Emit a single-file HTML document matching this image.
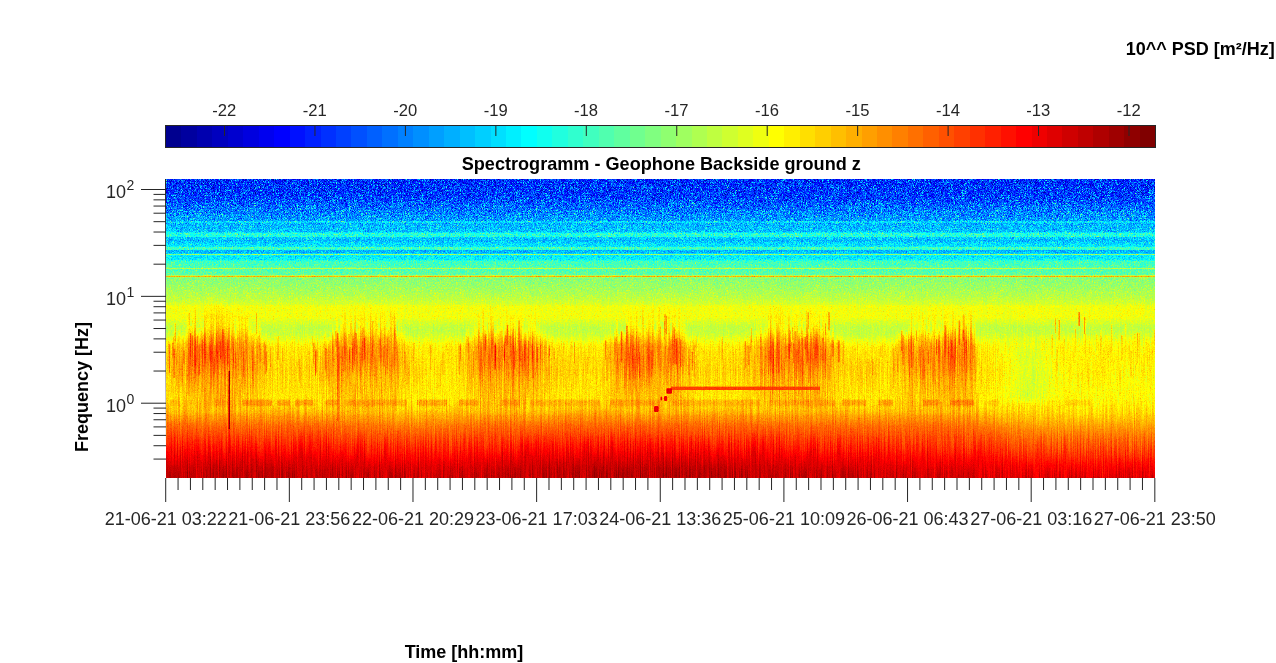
<!DOCTYPE html><html><head><meta charset="utf-8"><title>Spectrogramm</title>
<style>html,body{margin:0;padding:0;background:#fff;overflow:hidden}svg{display:block;will-change:transform}text{font-family:"Liberation Sans",sans-serif;fill:#262626}.b{font-weight:bold;fill:#000}</style></head><body>
<svg width="1276" height="663" viewBox="0 0 1276 663">
<defs>
<linearGradient id="pg" gradientUnits="userSpaceOnUse" x1="0" y1="179" x2="0" y2="477.5">
<stop offset="0.0000" stop-color="rgb(34,140,0)"/>
<stop offset="0.0101" stop-color="rgb(34,140,0)"/>
<stop offset="0.0201" stop-color="rgb(35,139,1)"/>
<stop offset="0.0302" stop-color="rgb(36,138,1)"/>
<stop offset="0.0402" stop-color="rgb(36,137,1)"/>
<stop offset="0.0503" stop-color="rgb(37,137,1)"/>
<stop offset="0.0536" stop-color="rgb(37,137,2)"/>
<stop offset="0.0603" stop-color="rgb(39,136,2)"/>
<stop offset="0.0704" stop-color="rgb(42,135,2)"/>
<stop offset="0.0804" stop-color="rgb(45,135,2)"/>
<stop offset="0.0871" stop-color="rgb(48,134,2)"/>
<stop offset="0.0905" stop-color="rgb(49,134,3)"/>
<stop offset="0.1005" stop-color="rgb(52,133,3)"/>
<stop offset="0.1106" stop-color="rgb(56,133,3)"/>
<stop offset="0.1173" stop-color="rgb(58,126,3)"/>
<stop offset="0.1206" stop-color="rgb(59,122,3)"/>
<stop offset="0.1307" stop-color="rgb(62,112,4)"/>
<stop offset="0.1407" stop-color="rgb(65,102,4)"/>
<stop offset="0.1508" stop-color="rgb(71,92,4)"/>
<stop offset="0.1608" stop-color="rgb(72,89,5)"/>
<stop offset="0.1709" stop-color="rgb(74,86,5)"/>
<stop offset="0.1776" stop-color="rgb(74,84,5)"/>
<stop offset="0.1809" stop-color="rgb(98,83,5)"/>
<stop offset="0.1910" stop-color="rgb(98,80,5)"/>
<stop offset="0.1926" stop-color="rgb(98,80,5)"/>
<stop offset="0.1960" stop-color="rgb(79,79,6)"/>
<stop offset="0.2010" stop-color="rgb(76,77,6)"/>
<stop offset="0.2044" stop-color="rgb(74,76,6)"/>
<stop offset="0.2060" stop-color="rgb(73,76,6)"/>
<stop offset="0.2111" stop-color="rgb(78,75,6)"/>
<stop offset="0.2127" stop-color="rgb(79,75,6)"/>
<stop offset="0.2211" stop-color="rgb(83,73,6)"/>
<stop offset="0.2265" stop-color="rgb(86,72,6)"/>
<stop offset="0.2285" stop-color="rgb(106,71,6)"/>
<stop offset="0.2312" stop-color="rgb(106,71,7)"/>
<stop offset="0.2358" stop-color="rgb(106,70,7)"/>
<stop offset="0.2379" stop-color="rgb(73,70,7)"/>
<stop offset="0.2412" stop-color="rgb(73,69,7)"/>
<stop offset="0.2479" stop-color="rgb(73,67,7)"/>
<stop offset="0.2513" stop-color="rgb(77,67,7)"/>
<stop offset="0.2563" stop-color="rgb(83,66,7)"/>
<stop offset="0.2613" stop-color="rgb(85,65,7)"/>
<stop offset="0.2714" stop-color="rgb(90,63,8)"/>
<stop offset="0.2747" stop-color="rgb(106,62,8)"/>
<stop offset="0.2781" stop-color="rgb(107,61,8)"/>
<stop offset="0.2814" stop-color="rgb(107,60,8)"/>
<stop offset="0.2915" stop-color="rgb(109,58,8)"/>
<stop offset="0.3015" stop-color="rgb(111,56,9)"/>
<stop offset="0.3116" stop-color="rgb(113,54,9)"/>
<stop offset="0.3216" stop-color="rgb(115,52,10)"/>
<stop offset="0.3300" stop-color="rgb(125,50,10)"/>
<stop offset="0.3317" stop-color="rgb(125,50,10)"/>
<stop offset="0.3417" stop-color="rgb(127,47,10)"/>
<stop offset="0.3518" stop-color="rgb(129,45,11)"/>
<stop offset="0.3618" stop-color="rgb(131,43,11)"/>
<stop offset="0.3719" stop-color="rgb(133,41,11)"/>
<stop offset="0.3819" stop-color="rgb(136,38,12)"/>
<stop offset="0.3853" stop-color="rgb(136,37,12)"/>
<stop offset="0.3920" stop-color="rgb(138,35,12)"/>
<stop offset="0.4020" stop-color="rgb(141,32,13)"/>
<stop offset="0.4054" stop-color="rgb(142,31,13)"/>
<stop offset="0.4121" stop-color="rgb(144,29,13)"/>
<stop offset="0.4188" stop-color="rgb(146,27,14)"/>
<stop offset="0.4221" stop-color="rgb(149,26,14)"/>
<stop offset="0.4255" stop-color="rgb(153,26,14)"/>
<stop offset="0.4322" stop-color="rgb(153,26,15)"/>
<stop offset="0.4422" stop-color="rgb(153,26,16)"/>
<stop offset="0.4523" stop-color="rgb(153,26,17)"/>
<stop offset="0.4623" stop-color="rgb(154,26,18)"/>
<stop offset="0.4724" stop-color="rgb(149,26,19)"/>
<stop offset="0.4757" stop-color="rgb(148,26,19)"/>
<stop offset="0.4824" stop-color="rgb(146,26,19)"/>
<stop offset="0.4925" stop-color="rgb(142,26,20)"/>
<stop offset="0.4958" stop-color="rgb(141,26,21)"/>
<stop offset="0.5025" stop-color="rgb(141,26,21)"/>
<stop offset="0.5126" stop-color="rgb(142,26,22)"/>
<stop offset="0.5159" stop-color="rgb(142,26,22)"/>
<stop offset="0.5226" stop-color="rgb(144,26,23)"/>
<stop offset="0.5327" stop-color="rgb(148,26,27)"/>
<stop offset="0.5360" stop-color="rgb(149,26,28)"/>
<stop offset="0.5394" stop-color="rgb(151,26,29)"/>
<stop offset="0.5427" stop-color="rgb(152,26,31)"/>
<stop offset="0.5528" stop-color="rgb(157,26,34)"/>
<stop offset="0.5561" stop-color="rgb(158,26,36)"/>
<stop offset="0.5628" stop-color="rgb(160,26,36)"/>
<stop offset="0.5729" stop-color="rgb(162,26,36)"/>
<stop offset="0.5829" stop-color="rgb(163,26,36)"/>
<stop offset="0.5930" stop-color="rgb(163,26,36)"/>
<stop offset="0.6030" stop-color="rgb(164,26,36)"/>
<stop offset="0.6131" stop-color="rgb(165,26,37)"/>
<stop offset="0.6231" stop-color="rgb(165,26,37)"/>
<stop offset="0.6332" stop-color="rgb(166,26,37)"/>
<stop offset="0.6399" stop-color="rgb(167,26,37)"/>
<stop offset="0.6432" stop-color="rgb(166,26,37)"/>
<stop offset="0.6533" stop-color="rgb(166,26,37)"/>
<stop offset="0.6633" stop-color="rgb(165,26,37)"/>
<stop offset="0.6734" stop-color="rgb(165,26,37)"/>
<stop offset="0.6834" stop-color="rgb(164,26,38)"/>
<stop offset="0.6935" stop-color="rgb(164,26,38)"/>
<stop offset="0.7035" stop-color="rgb(163,26,38)"/>
<stop offset="0.7136" stop-color="rgb(163,26,38)"/>
<stop offset="0.7236" stop-color="rgb(162,26,38)"/>
<stop offset="0.7337" stop-color="rgb(162,26,39)"/>
<stop offset="0.7404" stop-color="rgb(163,26,40)"/>
<stop offset="0.7437" stop-color="rgb(164,25,40)"/>
<stop offset="0.7538" stop-color="rgb(166,24,41)"/>
<stop offset="0.7638" stop-color="rgb(168,23,42)"/>
<stop offset="0.7672" stop-color="rgb(169,23,43)"/>
<stop offset="0.7739" stop-color="rgb(171,22,43)"/>
<stop offset="0.7806" stop-color="rgb(174,21,44)"/>
<stop offset="0.7839" stop-color="rgb(175,21,44)"/>
<stop offset="0.7940" stop-color="rgb(181,20,44)"/>
<stop offset="0.8040" stop-color="rgb(184,19,45)"/>
<stop offset="0.8141" stop-color="rgb(188,18,45)"/>
<stop offset="0.8241" stop-color="rgb(192,17,46)"/>
<stop offset="0.8342" stop-color="rgb(195,16,46)"/>
<stop offset="0.8409" stop-color="rgb(196,15,47)"/>
<stop offset="0.8442" stop-color="rgb(197,15,47)"/>
<stop offset="0.8543" stop-color="rgb(199,15,47)"/>
<stop offset="0.8643" stop-color="rgb(202,15,48)"/>
<stop offset="0.8744" stop-color="rgb(204,14,48)"/>
<stop offset="0.8844" stop-color="rgb(206,14,49)"/>
<stop offset="0.8945" stop-color="rgb(209,14,49)"/>
<stop offset="0.9045" stop-color="rgb(211,13,49)"/>
<stop offset="0.9079" stop-color="rgb(212,13,49)"/>
<stop offset="0.9146" stop-color="rgb(214,13,49)"/>
<stop offset="0.9246" stop-color="rgb(217,13,49)"/>
<stop offset="0.9347" stop-color="rgb(220,12,50)"/>
<stop offset="0.9414" stop-color="rgb(221,12,50)"/>
<stop offset="0.9447" stop-color="rgb(222,12,50)"/>
<stop offset="0.9548" stop-color="rgb(224,12,50)"/>
<stop offset="0.9648" stop-color="rgb(226,11,50)"/>
<stop offset="0.9749" stop-color="rgb(228,11,50)"/>
<stop offset="0.9849" stop-color="rgb(230,11,51)"/>
<stop offset="0.9950" stop-color="rgb(231,10,51)"/>
<stop offset="1.0000" stop-color="rgb(232,10,51)"/>
</linearGradient>
<linearGradient id="dg" gradientUnits="userSpaceOnUse" x1="0" y1="347" x2="0" y2="412">
<stop offset="0.0000" stop-color="rgb(206,26,82)" stop-opacity="0.920"/>
<stop offset="0.1846" stop-color="rgb(206,26,82)" stop-opacity="0.950"/>
<stop offset="0.3385" stop-color="rgb(202,26,82)" stop-opacity="0.820"/>
<stop offset="0.5077" stop-color="rgb(195,26,82)" stop-opacity="0.700"/>
<stop offset="0.7385" stop-color="rgb(190,26,82)" stop-opacity="0.620"/>
<stop offset="0.8923" stop-color="rgb(188,24,82)" stop-opacity="0.550"/>
<stop offset="1.0000" stop-color="rgb(185,21,82)" stop-opacity="0.000"/>
</linearGradient>
<linearGradient id="fg" x1="0" y1="0" x2="0" y2="1">
<stop offset="0.000" stop-color="rgb(188,26,71)" stop-opacity="0.000"/>
<stop offset="0.250" stop-color="rgb(190,26,71)" stop-opacity="0.220"/>
<stop offset="0.500" stop-color="rgb(195,26,71)" stop-opacity="0.500"/>
<stop offset="0.750" stop-color="rgb(202,26,71)" stop-opacity="0.780"/>
<stop offset="1.000" stop-color="rgb(206,26,71)" stop-opacity="0.920"/>
</linearGradient>
<linearGradient id="hg" gradientUnits="userSpaceOnUse" x1="0" y1="398.5" x2="0" y2="407">
<stop offset="0.0000" stop-color="rgb(195,26,39)" stop-opacity="0.000"/>
<stop offset="0.2706" stop-color="rgb(195,25,40)" stop-opacity="0.800"/>
<stop offset="0.7176" stop-color="rgb(195,24,42)" stop-opacity="0.800"/>
<stop offset="1.0000" stop-color="rgb(195,23,42)" stop-opacity="0.000"/>
</linearGradient>
<linearGradient id="bg" gradientUnits="userSpaceOnUse" x1="0" y1="404" x2="0" y2="477.5">
<stop offset="0.0000" stop-color="rgb(188,24,41)" stop-opacity="0.000"/>
<stop offset="0.2177" stop-color="rgb(197,19,45)" stop-opacity="0.200"/>
<stop offset="0.3810" stop-color="rgb(206,15,47)" stop-opacity="0.500"/>
<stop offset="0.5442" stop-color="rgb(218,14,49)" stop-opacity="0.850"/>
<stop offset="0.7075" stop-color="rgb(228,13,50)" stop-opacity="1.000"/>
<stop offset="0.8707" stop-color="rgb(238,11,50)" stop-opacity="1.000"/>
<stop offset="1.0000" stop-color="rgb(241,10,51)" stop-opacity="1.000"/>
</linearGradient>
<linearGradient id="lg" gradientUnits="userSpaceOnUse" x1="0" y1="330" x2="0" y2="477.5">
<stop offset="0.0000" stop-color="rgb(148,26,21)" stop-opacity="0.000"/>
<stop offset="0.1017" stop-color="rgb(153,26,36)" stop-opacity="0.800"/>
<stop offset="0.4610" stop-color="rgb(155,26,39)" stop-opacity="1.000"/>
<stop offset="0.5559" stop-color="rgb(162,21,44)" stop-opacity="1.000"/>
<stop offset="0.6102" stop-color="rgb(169,19,45)" stop-opacity="1.000"/>
<stop offset="0.6780" stop-color="rgb(181,15,47)" stop-opacity="1.000"/>
<stop offset="0.7458" stop-color="rgb(192,14,48)" stop-opacity="1.000"/>
<stop offset="0.8475" stop-color="rgb(206,13,49)" stop-opacity="1.000"/>
<stop offset="0.9153" stop-color="rgb(218,12,50)" stop-opacity="1.000"/>
<stop offset="1.0000" stop-color="rgb(227,10,51)" stop-opacity="1.000"/>
</linearGradient>
<linearGradient id="qg" gradientUnits="userSpaceOnUse" x1="0" y1="338" x2="0" y2="406">
<stop offset="0.0000" stop-color="rgb(137,26,27)" stop-opacity="0.000"/>
<stop offset="0.2059" stop-color="rgb(137,26,36)" stop-opacity="0.800"/>
<stop offset="0.8529" stop-color="rgb(137,26,39)" stop-opacity="0.900"/>
<stop offset="1.0000" stop-color="rgb(137,23,42)" stop-opacity="0.000"/>
</linearGradient>
<filter id="jet" filterUnits="userSpaceOnUse" x="166" y="179" width="989" height="298.5" color-interpolation-filters="sRGB">
<feTurbulence type="fractalNoise" baseFrequency="1.37 1.61" numOctaves="3" seed="3" result="t1"/>
<feColorMatrix in="t1" type="matrix" values="1 0 0 0 0 1 0 0 0 0 1 0 0 0 0 0 0 0 0 1" result="N"/>
<feTurbulence type="fractalNoise" baseFrequency="1.13 0.028" numOctaves="1" seed="11" result="t2"/>
<feColorMatrix in="t2" type="matrix" values="1 0 0 0 0 1 0 0 0 0 1 0 0 0 0 0 0 0 0 1" result="S"/>
<feColorMatrix in="SourceGraphic" type="matrix" values="1 0 0 0 0 1 0 0 0 0 1 0 0 0 0 0 0 0 0 1" result="V"/>
<feColorMatrix in="SourceGraphic" type="matrix" values="0 1 0 0 0 0 1 0 0 0 0 1 0 0 0 0 0 0 0 1" result="GA"/>
<feColorMatrix in="SourceGraphic" type="matrix" values="0 0 1 0 0 0 0 1 0 0 0 0 1 0 0 0 0 0 0 1" result="BA"/>
<feComposite in="GA" in2="N" operator="arithmetic" k1="1" k2="-0.5" k3="0" k4="0.5" result="GN"/>
<feComposite in="BA" in2="S" operator="arithmetic" k1="1" k2="-0.5" k3="0" k4="0.5" result="BS"/>
<feComposite in="V" in2="GN" operator="arithmetic" k1="0" k2="1" k3="0.9" k4="-0.45" result="V1"/>
<feComposite in="V1" in2="BS" operator="arithmetic" k1="0" k2="1" k3="0.8" k4="-0.4" result="V2"/>
<feColorMatrix in="t1" type="matrix" values="0 1 0 0 0 0 1 0 0 0 0 1 0 0 0 0 0 0 0 1" result="N2"/>
<feComponentTransfer in="N2" result="H"><feFuncR type="table" tableValues="0 0 0 0 0 0 0 0 0 0 0.04 0.12 0.28 0.5 0.75 1 1 1 1 1 1"/><feFuncG type="table" tableValues="0 0 0 0 0 0 0 0 0 0 0.04 0.12 0.28 0.5 0.75 1 1 1 1 1 1"/><feFuncB type="table" tableValues="0 0 0 0 0 0 0 0 0 0 0.04 0.12 0.28 0.5 0.75 1 1 1 1 1 1"/></feComponentTransfer>
<feComposite in="GA" in2="H" operator="arithmetic" k1="0.32" k2="0" k3="0" k4="0" result="GH"/>
<feComposite in="V2" in2="GH" operator="arithmetic" k1="0" k2="1" k3="1" k4="0" result="V3"/>
<feComponentTransfer in="V3"><feFuncR type="discrete" tableValues="0.0000 0.0000 0.0000 0.0000 0.0000 0.0000 0.0000 0.0000 0.0000 0.0000 0.0000 0.0000 0.0000 0.0000 0.0000 0.0000 0.0000 0.0000 0.0000 0.0000 0.0000 0.0000 0.0000 0.0000 0.0625 0.1250 0.1875 0.2500 0.3125 0.3750 0.4375 0.5000 0.5625 0.6250 0.6875 0.7500 0.8125 0.8750 0.9375 1.0000 1.0000 1.0000 1.0000 1.0000 1.0000 1.0000 1.0000 1.0000 1.0000 1.0000 1.0000 1.0000 1.0000 1.0000 1.0000 1.0000 0.9375 0.8750 0.8125 0.7500 0.6875 0.6250 0.5625 0.5000"/><feFuncG type="discrete" tableValues="0.0000 0.0000 0.0000 0.0000 0.0000 0.0000 0.0000 0.0000 0.0625 0.1250 0.1875 0.2500 0.3125 0.3750 0.4375 0.5000 0.5625 0.6250 0.6875 0.7500 0.8125 0.8750 0.9375 1.0000 1.0000 1.0000 1.0000 1.0000 1.0000 1.0000 1.0000 1.0000 1.0000 1.0000 1.0000 1.0000 1.0000 1.0000 1.0000 1.0000 0.9375 0.8750 0.8125 0.7500 0.6875 0.6250 0.5625 0.5000 0.4375 0.3750 0.3125 0.2500 0.1875 0.1250 0.0625 0.0000 0.0000 0.0000 0.0000 0.0000 0.0000 0.0000 0.0000 0.0000"/><feFuncB type="discrete" tableValues="0.5625 0.6250 0.6875 0.7500 0.8125 0.8750 0.9375 1.0000 1.0000 1.0000 1.0000 1.0000 1.0000 1.0000 1.0000 1.0000 1.0000 1.0000 1.0000 1.0000 1.0000 1.0000 1.0000 1.0000 0.9375 0.8750 0.8125 0.7500 0.6875 0.6250 0.5625 0.5000 0.4375 0.3750 0.3125 0.2500 0.1875 0.1250 0.0625 0.0000 0.0000 0.0000 0.0000 0.0000 0.0000 0.0000 0.0000 0.0000 0.0000 0.0000 0.0000 0.0000 0.0000 0.0000 0.0000 0.0000 0.0000 0.0000 0.0000 0.0000 0.0000 0.0000 0.0000 0.0000"/></feComponentTransfer>
</filter>
</defs>
<rect width="1276" height="663" fill="#fff"/>
<g filter="url(#jet)">
<rect x="166" y="179" width="989" height="298.5" fill="url(#pg)"/>
<rect x="166" y="347" width="2.05" height="65" fill="url(#dg)" opacity="0.10"/>
<rect x="166" y="332.5" width="2.05" height="14.6" fill="url(#fg)" opacity="0.10"/>
<rect x="168" y="347" width="2.05" height="65" fill="url(#dg)" opacity="0.11"/>
<rect x="168" y="332.5" width="2.05" height="14.6" fill="url(#fg)" opacity="0.11"/>
<rect x="170" y="347" width="2.05" height="65" fill="url(#dg)" opacity="0.12"/>
<rect x="170" y="328.7" width="2.05" height="18.4" fill="url(#fg)" opacity="0.12"/>
<rect x="172" y="347" width="2.05" height="65" fill="url(#dg)" opacity="0.14"/>
<rect x="172" y="331.1" width="2.05" height="16.0" fill="url(#fg)" opacity="0.14"/>
<rect x="174" y="347" width="2.05" height="65" fill="url(#dg)" opacity="0.29"/>
<rect x="174" y="326.2" width="2.05" height="20.9" fill="url(#fg)" opacity="0.29"/>
<rect x="176" y="347" width="2.05" height="65" fill="url(#dg)" opacity="0.24"/>
<rect x="176" y="329.3" width="2.05" height="17.8" fill="url(#fg)" opacity="0.24"/>
<rect x="178" y="347" width="2.05" height="65" fill="url(#dg)" opacity="0.44"/>
<rect x="178" y="322.7" width="2.05" height="24.4" fill="url(#fg)" opacity="0.44"/>
<rect x="180" y="347" width="2.05" height="65" fill="url(#dg)" opacity="0.26"/>
<rect x="180" y="327.3" width="2.05" height="19.8" fill="url(#fg)" opacity="0.26"/>
<rect x="182" y="347" width="2.05" height="65" fill="url(#dg)" opacity="0.41"/>
<rect x="182" y="325.4" width="2.05" height="21.7" fill="url(#fg)" opacity="0.41"/>
<rect x="184" y="347" width="2.05" height="65" fill="url(#dg)" opacity="0.29"/>
<rect x="184" y="323.8" width="2.05" height="23.3" fill="url(#fg)" opacity="0.29"/>
<rect x="186" y="347" width="2.05" height="65" fill="url(#dg)" opacity="0.40"/>
<rect x="186" y="315.3" width="2.05" height="31.8" fill="url(#fg)" opacity="0.40"/>
<rect x="188" y="347" width="2.05" height="65" fill="url(#dg)" opacity="0.78"/>
<rect x="188" y="321.4" width="2.05" height="25.7" fill="url(#fg)" opacity="0.78"/>
<rect x="190" y="347" width="2.05" height="65" fill="url(#dg)" opacity="0.61"/>
<rect x="190" y="327.3" width="2.05" height="19.8" fill="url(#fg)" opacity="0.61"/>
<rect x="192" y="347" width="2.05" height="65" fill="url(#dg)" opacity="0.55"/>
<rect x="192" y="311.2" width="2.05" height="35.9" fill="url(#fg)" opacity="0.55"/>
<rect x="194" y="347" width="2.05" height="65" fill="url(#dg)" opacity="0.93"/>
<rect x="194" y="301.6" width="2.05" height="45.5" fill="url(#fg)" opacity="0.93"/>
<rect x="196" y="347" width="2.05" height="65" fill="url(#dg)" opacity="0.54"/>
<rect x="196" y="325.1" width="2.05" height="22.0" fill="url(#fg)" opacity="0.54"/>
<rect x="198" y="347" width="2.05" height="65" fill="url(#dg)" opacity="0.42"/>
<rect x="198" y="320.0" width="2.05" height="27.1" fill="url(#fg)" opacity="0.42"/>
<rect x="200" y="347" width="2.05" height="65" fill="url(#dg)" opacity="0.59"/>
<rect x="200" y="313.1" width="2.05" height="34.0" fill="url(#fg)" opacity="0.59"/>
<rect x="202" y="347" width="2.05" height="65" fill="url(#dg)" opacity="0.70"/>
<rect x="202" y="321.7" width="2.05" height="25.4" fill="url(#fg)" opacity="0.70"/>
<rect x="204" y="347" width="2.05" height="65" fill="url(#dg)" opacity="0.91"/>
<rect x="204" y="301.0" width="2.05" height="46.1" fill="url(#fg)" opacity="0.91"/>
<rect x="206" y="347" width="2.05" height="65" fill="url(#dg)" opacity="0.59"/>
<rect x="206" y="301.0" width="2.05" height="46.1" fill="url(#fg)" opacity="0.59"/>
<rect x="208" y="347" width="2.05" height="65" fill="url(#dg)" opacity="0.73"/>
<rect x="208" y="306.5" width="2.05" height="40.6" fill="url(#fg)" opacity="0.73"/>
<rect x="210" y="347" width="2.05" height="65" fill="url(#dg)" opacity="1.00"/>
<rect x="210" y="301.0" width="2.05" height="46.1" fill="url(#fg)" opacity="1.00"/>
<rect x="212" y="347" width="2.05" height="65" fill="url(#dg)" opacity="0.79"/>
<rect x="212" y="301.0" width="2.05" height="46.1" fill="url(#fg)" opacity="0.79"/>
<rect x="214" y="347" width="2.05" height="65" fill="url(#dg)" opacity="0.53"/>
<rect x="214" y="301.0" width="2.05" height="46.1" fill="url(#fg)" opacity="0.53"/>
<rect x="216" y="347" width="2.05" height="65" fill="url(#dg)" opacity="1.00"/>
<rect x="216" y="301.0" width="2.05" height="46.1" fill="url(#fg)" opacity="1.00"/>
<rect x="218" y="347" width="2.05" height="65" fill="url(#dg)" opacity="0.74"/>
<rect x="218" y="301.0" width="2.05" height="46.1" fill="url(#fg)" opacity="0.74"/>
<rect x="220" y="347" width="2.05" height="65" fill="url(#dg)" opacity="0.91"/>
<rect x="220" y="301.0" width="2.05" height="46.1" fill="url(#fg)" opacity="0.91"/>
<rect x="222" y="347" width="2.05" height="65" fill="url(#dg)" opacity="0.89"/>
<rect x="222" y="301.0" width="2.05" height="46.1" fill="url(#fg)" opacity="0.89"/>
<rect x="224" y="347" width="2.05" height="65" fill="url(#dg)" opacity="0.81"/>
<rect x="224" y="305.6" width="2.05" height="41.5" fill="url(#fg)" opacity="0.81"/>
<rect x="226" y="347" width="2.05" height="65" fill="url(#dg)" opacity="0.58"/>
<rect x="226" y="301.0" width="2.05" height="46.1" fill="url(#fg)" opacity="0.58"/>
<rect x="228" y="347" width="2.05" height="65" fill="url(#dg)" opacity="0.84"/>
<rect x="228" y="301.0" width="2.05" height="46.1" fill="url(#fg)" opacity="0.84"/>
<rect x="230" y="347" width="2.05" height="65" fill="url(#dg)" opacity="0.45"/>
<rect x="230" y="304.8" width="2.05" height="42.3" fill="url(#fg)" opacity="0.45"/>
<rect x="232" y="347" width="2.05" height="65" fill="url(#dg)" opacity="0.79"/>
<rect x="232" y="301.0" width="2.05" height="46.1" fill="url(#fg)" opacity="0.79"/>
<rect x="234" y="347" width="2.05" height="65" fill="url(#dg)" opacity="0.58"/>
<rect x="234" y="320.1" width="2.05" height="27.0" fill="url(#fg)" opacity="0.58"/>
<rect x="236" y="347" width="2.05" height="65" fill="url(#dg)" opacity="0.49"/>
<rect x="236" y="309.0" width="2.05" height="38.1" fill="url(#fg)" opacity="0.49"/>
<rect x="238" y="347" width="2.05" height="65" fill="url(#dg)" opacity="0.59"/>
<rect x="238" y="302.3" width="2.05" height="44.8" fill="url(#fg)" opacity="0.59"/>
<rect x="240" y="347" width="2.05" height="65" fill="url(#dg)" opacity="0.51"/>
<rect x="240" y="301.0" width="2.05" height="46.1" fill="url(#fg)" opacity="0.51"/>
<rect x="242" y="347" width="2.05" height="65" fill="url(#dg)" opacity="0.56"/>
<rect x="242" y="301.0" width="2.05" height="46.1" fill="url(#fg)" opacity="0.56"/>
<rect x="244" y="347" width="2.05" height="65" fill="url(#dg)" opacity="0.51"/>
<rect x="244" y="310.5" width="2.05" height="36.6" fill="url(#fg)" opacity="0.51"/>
<rect x="246" y="347" width="2.05" height="65" fill="url(#dg)" opacity="0.59"/>
<rect x="246" y="302.7" width="2.05" height="44.4" fill="url(#fg)" opacity="0.59"/>
<rect x="248" y="347" width="2.05" height="65" fill="url(#dg)" opacity="0.37"/>
<rect x="248" y="308.4" width="2.05" height="38.7" fill="url(#fg)" opacity="0.37"/>
<rect x="250" y="347" width="2.05" height="65" fill="url(#dg)" opacity="0.36"/>
<rect x="250" y="317.8" width="2.05" height="29.3" fill="url(#fg)" opacity="0.36"/>
<rect x="252" y="347" width="2.05" height="65" fill="url(#dg)" opacity="0.66"/>
<rect x="252" y="325.0" width="2.05" height="22.1" fill="url(#fg)" opacity="0.66"/>
<rect x="254" y="347" width="2.05" height="65" fill="url(#dg)" opacity="0.33"/>
<rect x="254" y="316.0" width="2.05" height="31.1" fill="url(#fg)" opacity="0.33"/>
<rect x="256" y="347" width="2.05" height="65" fill="url(#dg)" opacity="0.37"/>
<rect x="256" y="316.6" width="2.05" height="30.5" fill="url(#fg)" opacity="0.37"/>
<rect x="258" y="347" width="2.05" height="65" fill="url(#dg)" opacity="0.46"/>
<rect x="258" y="321.1" width="2.05" height="26.0" fill="url(#fg)" opacity="0.46"/>
<rect x="260" y="347" width="2.05" height="65" fill="url(#dg)" opacity="0.29"/>
<rect x="260" y="323.7" width="2.05" height="23.4" fill="url(#fg)" opacity="0.29"/>
<rect x="262" y="347" width="2.05" height="65" fill="url(#dg)" opacity="0.22"/>
<rect x="262" y="328.1" width="2.05" height="19.0" fill="url(#fg)" opacity="0.22"/>
<rect x="264" y="347" width="2.05" height="65" fill="url(#dg)" opacity="0.10"/>
<rect x="264" y="334.2" width="2.05" height="12.9" fill="url(#fg)" opacity="0.10"/>
<rect x="266" y="347" width="2.05" height="65" fill="url(#dg)" opacity="0.10"/>
<rect x="266" y="338.9" width="2.05" height="8.2" fill="url(#fg)" opacity="0.10"/>
<rect x="268" y="347" width="2.05" height="65" fill="url(#dg)" opacity="0.07"/>
<rect x="268" y="334.4" width="2.05" height="12.7" fill="url(#fg)" opacity="0.07"/>
<rect x="270" y="347" width="2.05" height="65" fill="url(#dg)" opacity="0.03"/>
<rect x="270" y="336.1" width="2.05" height="11.0" fill="url(#fg)" opacity="0.03"/>
<rect x="288" y="347" width="2.05" height="65" fill="url(#dg)" opacity="0.05"/>
<rect x="288" y="329.9" width="2.05" height="17.2" fill="url(#fg)" opacity="0.05"/>
<rect x="290" y="347" width="2.05" height="65" fill="url(#dg)" opacity="0.03"/>
<rect x="290" y="333.5" width="2.05" height="13.6" fill="url(#fg)" opacity="0.03"/>
<rect x="294" y="347" width="2.05" height="65" fill="url(#dg)" opacity="0.03"/>
<rect x="294" y="330.4" width="2.05" height="16.7" fill="url(#fg)" opacity="0.03"/>
<rect x="298" y="347" width="2.05" height="65" fill="url(#dg)" opacity="0.03"/>
<rect x="298" y="338.8" width="2.05" height="8.3" fill="url(#fg)" opacity="0.03"/>
<rect x="300" y="347" width="2.05" height="65" fill="url(#dg)" opacity="0.03"/>
<rect x="300" y="333.0" width="2.05" height="14.1" fill="url(#fg)" opacity="0.03"/>
<rect x="304" y="347" width="2.05" height="65" fill="url(#dg)" opacity="0.05"/>
<rect x="304" y="334.3" width="2.05" height="12.8" fill="url(#fg)" opacity="0.05"/>
<rect x="306" y="347" width="2.05" height="65" fill="url(#dg)" opacity="0.03"/>
<rect x="306" y="331.4" width="2.05" height="15.7" fill="url(#fg)" opacity="0.03"/>
<rect x="308" y="347" width="2.05" height="65" fill="url(#dg)" opacity="0.05"/>
<rect x="308" y="329.4" width="2.05" height="17.7" fill="url(#fg)" opacity="0.05"/>
<rect x="312" y="347" width="2.05" height="65" fill="url(#dg)" opacity="0.03"/>
<rect x="312" y="335.3" width="2.05" height="11.8" fill="url(#fg)" opacity="0.03"/>
<rect x="314" y="347" width="2.05" height="65" fill="url(#dg)" opacity="0.06"/>
<rect x="314" y="339.7" width="2.05" height="7.4" fill="url(#fg)" opacity="0.06"/>
<rect x="316" y="347" width="2.05" height="65" fill="url(#dg)" opacity="0.09"/>
<rect x="316" y="336.9" width="2.05" height="10.2" fill="url(#fg)" opacity="0.09"/>
<rect x="318" y="347" width="2.05" height="65" fill="url(#dg)" opacity="0.09"/>
<rect x="318" y="339.6" width="2.05" height="7.5" fill="url(#fg)" opacity="0.09"/>
<rect x="320" y="347" width="2.05" height="65" fill="url(#dg)" opacity="0.10"/>
<rect x="320" y="330.3" width="2.05" height="16.8" fill="url(#fg)" opacity="0.10"/>
<rect x="322" y="347" width="2.05" height="65" fill="url(#dg)" opacity="0.27"/>
<rect x="322" y="331.4" width="2.05" height="15.7" fill="url(#fg)" opacity="0.27"/>
<rect x="324" y="347" width="2.05" height="65" fill="url(#dg)" opacity="0.20"/>
<rect x="324" y="327.6" width="2.05" height="19.5" fill="url(#fg)" opacity="0.20"/>
<rect x="326" y="347" width="2.05" height="65" fill="url(#dg)" opacity="0.18"/>
<rect x="326" y="328.4" width="2.05" height="18.7" fill="url(#fg)" opacity="0.18"/>
<rect x="328" y="347" width="2.05" height="65" fill="url(#dg)" opacity="0.45"/>
<rect x="328" y="336.1" width="2.05" height="11.0" fill="url(#fg)" opacity="0.45"/>
<rect x="330" y="347" width="2.05" height="65" fill="url(#dg)" opacity="0.32"/>
<rect x="330" y="330.0" width="2.05" height="17.1" fill="url(#fg)" opacity="0.32"/>
<rect x="332" y="347" width="2.05" height="65" fill="url(#dg)" opacity="0.56"/>
<rect x="332" y="320.9" width="2.05" height="26.2" fill="url(#fg)" opacity="0.56"/>
<rect x="334" y="347" width="2.05" height="65" fill="url(#dg)" opacity="0.33"/>
<rect x="334" y="326.3" width="2.05" height="20.8" fill="url(#fg)" opacity="0.33"/>
<rect x="336" y="347" width="2.05" height="65" fill="url(#dg)" opacity="0.43"/>
<rect x="336" y="301.7" width="2.05" height="45.4" fill="url(#fg)" opacity="0.43"/>
<rect x="338" y="347" width="2.05" height="65" fill="url(#dg)" opacity="0.84"/>
<rect x="338" y="327.9" width="2.05" height="19.2" fill="url(#fg)" opacity="0.84"/>
<rect x="340" y="347" width="2.05" height="65" fill="url(#dg)" opacity="0.61"/>
<rect x="340" y="314.1" width="2.05" height="33.0" fill="url(#fg)" opacity="0.61"/>
<rect x="342" y="347" width="2.05" height="65" fill="url(#dg)" opacity="0.49"/>
<rect x="342" y="305.4" width="2.05" height="41.7" fill="url(#fg)" opacity="0.49"/>
<rect x="344" y="347" width="2.05" height="65" fill="url(#dg)" opacity="0.74"/>
<rect x="344" y="307.1" width="2.05" height="40.0" fill="url(#fg)" opacity="0.74"/>
<rect x="346" y="347" width="2.05" height="65" fill="url(#dg)" opacity="0.61"/>
<rect x="346" y="315.9" width="2.05" height="31.2" fill="url(#fg)" opacity="0.61"/>
<rect x="348" y="347" width="2.05" height="65" fill="url(#dg)" opacity="0.38"/>
<rect x="348" y="301.0" width="2.05" height="46.1" fill="url(#fg)" opacity="0.38"/>
<rect x="350" y="347" width="2.05" height="65" fill="url(#dg)" opacity="0.40"/>
<rect x="350" y="301.0" width="2.05" height="46.1" fill="url(#fg)" opacity="0.40"/>
<rect x="352" y="347" width="2.05" height="65" fill="url(#dg)" opacity="0.74"/>
<rect x="352" y="320.7" width="2.05" height="26.4" fill="url(#fg)" opacity="0.74"/>
<rect x="354" y="347" width="2.05" height="65" fill="url(#dg)" opacity="0.75"/>
<rect x="354" y="301.0" width="2.05" height="46.1" fill="url(#fg)" opacity="0.75"/>
<rect x="356" y="347" width="2.05" height="65" fill="url(#dg)" opacity="0.60"/>
<rect x="356" y="324.0" width="2.05" height="23.1" fill="url(#fg)" opacity="0.60"/>
<rect x="358" y="347" width="2.05" height="65" fill="url(#dg)" opacity="0.50"/>
<rect x="358" y="301.0" width="2.05" height="46.1" fill="url(#fg)" opacity="0.50"/>
<rect x="360" y="347" width="2.05" height="65" fill="url(#dg)" opacity="0.71"/>
<rect x="360" y="301.0" width="2.05" height="46.1" fill="url(#fg)" opacity="0.71"/>
<rect x="362" y="347" width="2.05" height="65" fill="url(#dg)" opacity="0.56"/>
<rect x="362" y="301.0" width="2.05" height="46.1" fill="url(#fg)" opacity="0.56"/>
<rect x="364" y="347" width="2.05" height="65" fill="url(#dg)" opacity="0.75"/>
<rect x="364" y="304.2" width="2.05" height="42.9" fill="url(#fg)" opacity="0.75"/>
<rect x="366" y="347" width="2.05" height="65" fill="url(#dg)" opacity="0.65"/>
<rect x="366" y="318.6" width="2.05" height="28.5" fill="url(#fg)" opacity="0.65"/>
<rect x="368" y="347" width="2.05" height="65" fill="url(#dg)" opacity="0.43"/>
<rect x="368" y="302.1" width="2.05" height="45.0" fill="url(#fg)" opacity="0.43"/>
<rect x="370" y="347" width="2.05" height="65" fill="url(#dg)" opacity="0.89"/>
<rect x="370" y="301.0" width="2.05" height="46.1" fill="url(#fg)" opacity="0.89"/>
<rect x="372" y="347" width="2.05" height="65" fill="url(#dg)" opacity="0.68"/>
<rect x="372" y="321.8" width="2.05" height="25.3" fill="url(#fg)" opacity="0.68"/>
<rect x="374" y="347" width="2.05" height="65" fill="url(#dg)" opacity="0.62"/>
<rect x="374" y="301.0" width="2.05" height="46.1" fill="url(#fg)" opacity="0.62"/>
<rect x="376" y="347" width="2.05" height="65" fill="url(#dg)" opacity="0.58"/>
<rect x="376" y="301.0" width="2.05" height="46.1" fill="url(#fg)" opacity="0.58"/>
<rect x="378" y="347" width="2.05" height="65" fill="url(#dg)" opacity="0.61"/>
<rect x="378" y="323.2" width="2.05" height="23.9" fill="url(#fg)" opacity="0.61"/>
<rect x="380" y="347" width="2.05" height="65" fill="url(#dg)" opacity="0.79"/>
<rect x="380" y="301.0" width="2.05" height="46.1" fill="url(#fg)" opacity="0.79"/>
<rect x="382" y="347" width="2.05" height="65" fill="url(#dg)" opacity="0.51"/>
<rect x="382" y="301.0" width="2.05" height="46.1" fill="url(#fg)" opacity="0.51"/>
<rect x="384" y="347" width="2.05" height="65" fill="url(#dg)" opacity="0.66"/>
<rect x="384" y="301.0" width="2.05" height="46.1" fill="url(#fg)" opacity="0.66"/>
<rect x="386" y="347" width="2.05" height="65" fill="url(#dg)" opacity="0.60"/>
<rect x="386" y="317.6" width="2.05" height="29.5" fill="url(#fg)" opacity="0.60"/>
<rect x="388" y="347" width="2.05" height="65" fill="url(#dg)" opacity="0.53"/>
<rect x="388" y="312.6" width="2.05" height="34.5" fill="url(#fg)" opacity="0.53"/>
<rect x="390" y="347" width="2.05" height="65" fill="url(#dg)" opacity="0.74"/>
<rect x="390" y="301.0" width="2.05" height="46.1" fill="url(#fg)" opacity="0.74"/>
<rect x="392" y="347" width="2.05" height="65" fill="url(#dg)" opacity="0.59"/>
<rect x="392" y="301.0" width="2.05" height="46.1" fill="url(#fg)" opacity="0.59"/>
<rect x="394" y="347" width="2.05" height="65" fill="url(#dg)" opacity="0.97"/>
<rect x="394" y="301.0" width="2.05" height="46.1" fill="url(#fg)" opacity="0.97"/>
<rect x="396" y="347" width="2.05" height="65" fill="url(#dg)" opacity="0.63"/>
<rect x="396" y="329.0" width="2.05" height="18.1" fill="url(#fg)" opacity="0.63"/>
<rect x="398" y="347" width="2.05" height="65" fill="url(#dg)" opacity="0.36"/>
<rect x="398" y="319.2" width="2.05" height="27.9" fill="url(#fg)" opacity="0.36"/>
<rect x="400" y="347" width="2.05" height="65" fill="url(#dg)" opacity="0.28"/>
<rect x="400" y="309.8" width="2.05" height="37.3" fill="url(#fg)" opacity="0.28"/>
<rect x="402" y="347" width="2.05" height="65" fill="url(#dg)" opacity="0.37"/>
<rect x="402" y="322.3" width="2.05" height="24.8" fill="url(#fg)" opacity="0.37"/>
<rect x="404" y="347" width="2.05" height="65" fill="url(#dg)" opacity="0.36"/>
<rect x="404" y="329.7" width="2.05" height="17.4" fill="url(#fg)" opacity="0.36"/>
<rect x="406" y="347" width="2.05" height="65" fill="url(#dg)" opacity="0.21"/>
<rect x="406" y="337.2" width="2.05" height="9.9" fill="url(#fg)" opacity="0.21"/>
<rect x="408" y="347" width="2.05" height="65" fill="url(#dg)" opacity="0.18"/>
<rect x="408" y="333.4" width="2.05" height="13.7" fill="url(#fg)" opacity="0.18"/>
<rect x="410" y="347" width="2.05" height="65" fill="url(#dg)" opacity="0.15"/>
<rect x="410" y="331.0" width="2.05" height="16.1" fill="url(#fg)" opacity="0.15"/>
<rect x="412" y="347" width="2.05" height="65" fill="url(#dg)" opacity="0.08"/>
<rect x="412" y="333.9" width="2.05" height="13.2" fill="url(#fg)" opacity="0.08"/>
<rect x="414" y="347" width="2.05" height="65" fill="url(#dg)" opacity="0.04"/>
<rect x="414" y="336.2" width="2.05" height="10.9" fill="url(#fg)" opacity="0.04"/>
<rect x="416" y="347" width="2.05" height="65" fill="url(#dg)" opacity="0.04"/>
<rect x="416" y="329.0" width="2.05" height="18.1" fill="url(#fg)" opacity="0.04"/>
<rect x="422" y="347" width="2.05" height="65" fill="url(#dg)" opacity="0.05"/>
<rect x="422" y="338.9" width="2.05" height="8.2" fill="url(#fg)" opacity="0.05"/>
<rect x="424" y="347" width="2.05" height="65" fill="url(#dg)" opacity="0.04"/>
<rect x="424" y="337.8" width="2.05" height="9.3" fill="url(#fg)" opacity="0.04"/>
<rect x="426" y="347" width="2.05" height="65" fill="url(#dg)" opacity="0.05"/>
<rect x="426" y="330.4" width="2.05" height="16.7" fill="url(#fg)" opacity="0.05"/>
<rect x="428" y="347" width="2.05" height="65" fill="url(#dg)" opacity="0.03"/>
<rect x="428" y="337.4" width="2.05" height="9.7" fill="url(#fg)" opacity="0.03"/>
<rect x="430" y="347" width="2.05" height="65" fill="url(#dg)" opacity="0.02"/>
<rect x="430" y="338.5" width="2.05" height="8.6" fill="url(#fg)" opacity="0.02"/>
<rect x="432" y="347" width="2.05" height="65" fill="url(#dg)" opacity="0.05"/>
<rect x="432" y="338.2" width="2.05" height="8.9" fill="url(#fg)" opacity="0.05"/>
<rect x="434" y="347" width="2.05" height="65" fill="url(#dg)" opacity="0.03"/>
<rect x="434" y="329.5" width="2.05" height="17.6" fill="url(#fg)" opacity="0.03"/>
<rect x="436" y="347" width="2.05" height="65" fill="url(#dg)" opacity="0.02"/>
<rect x="436" y="329.7" width="2.05" height="17.4" fill="url(#fg)" opacity="0.02"/>
<rect x="438" y="347" width="2.05" height="65" fill="url(#dg)" opacity="0.02"/>
<rect x="438" y="332.2" width="2.05" height="14.9" fill="url(#fg)" opacity="0.02"/>
<rect x="440" y="347" width="2.05" height="65" fill="url(#dg)" opacity="0.02"/>
<rect x="440" y="334.4" width="2.05" height="12.7" fill="url(#fg)" opacity="0.02"/>
<rect x="446" y="347" width="2.05" height="65" fill="url(#dg)" opacity="0.03"/>
<rect x="446" y="335.2" width="2.05" height="11.9" fill="url(#fg)" opacity="0.03"/>
<rect x="448" y="347" width="2.05" height="65" fill="url(#dg)" opacity="0.03"/>
<rect x="448" y="330.6" width="2.05" height="16.5" fill="url(#fg)" opacity="0.03"/>
<rect x="450" y="347" width="2.05" height="65" fill="url(#dg)" opacity="0.04"/>
<rect x="450" y="333.7" width="2.05" height="13.4" fill="url(#fg)" opacity="0.04"/>
<rect x="452" y="347" width="2.05" height="65" fill="url(#dg)" opacity="0.03"/>
<rect x="452" y="334.8" width="2.05" height="12.3" fill="url(#fg)" opacity="0.03"/>
<rect x="456" y="347" width="2.05" height="65" fill="url(#dg)" opacity="0.06"/>
<rect x="456" y="337.9" width="2.05" height="9.2" fill="url(#fg)" opacity="0.06"/>
<rect x="458" y="347" width="2.05" height="65" fill="url(#dg)" opacity="0.04"/>
<rect x="458" y="339.9" width="2.05" height="7.2" fill="url(#fg)" opacity="0.04"/>
<rect x="460" y="347" width="2.05" height="65" fill="url(#dg)" opacity="0.11"/>
<rect x="460" y="331.8" width="2.05" height="15.3" fill="url(#fg)" opacity="0.11"/>
<rect x="462" y="347" width="2.05" height="65" fill="url(#dg)" opacity="0.10"/>
<rect x="462" y="333.5" width="2.05" height="13.6" fill="url(#fg)" opacity="0.10"/>
<rect x="464" y="347" width="2.05" height="65" fill="url(#dg)" opacity="0.13"/>
<rect x="464" y="333.4" width="2.05" height="13.7" fill="url(#fg)" opacity="0.13"/>
<rect x="466" y="347" width="2.05" height="65" fill="url(#dg)" opacity="0.32"/>
<rect x="466" y="325.6" width="2.05" height="21.5" fill="url(#fg)" opacity="0.32"/>
<rect x="468" y="347" width="2.05" height="65" fill="url(#dg)" opacity="0.26"/>
<rect x="468" y="323.4" width="2.05" height="23.7" fill="url(#fg)" opacity="0.26"/>
<rect x="470" y="347" width="2.05" height="65" fill="url(#dg)" opacity="0.36"/>
<rect x="470" y="331.2" width="2.05" height="15.9" fill="url(#fg)" opacity="0.36"/>
<rect x="472" y="347" width="2.05" height="65" fill="url(#dg)" opacity="0.22"/>
<rect x="472" y="325.4" width="2.05" height="21.7" fill="url(#fg)" opacity="0.22"/>
<rect x="474" y="347" width="2.05" height="65" fill="url(#dg)" opacity="0.37"/>
<rect x="474" y="316.2" width="2.05" height="30.9" fill="url(#fg)" opacity="0.37"/>
<rect x="476" y="347" width="2.05" height="65" fill="url(#dg)" opacity="0.38"/>
<rect x="476" y="316.4" width="2.05" height="30.7" fill="url(#fg)" opacity="0.38"/>
<rect x="478" y="347" width="2.05" height="65" fill="url(#dg)" opacity="0.79"/>
<rect x="478" y="307.3" width="2.05" height="39.8" fill="url(#fg)" opacity="0.79"/>
<rect x="480" y="347" width="2.05" height="65" fill="url(#dg)" opacity="0.65"/>
<rect x="480" y="327.4" width="2.05" height="19.7" fill="url(#fg)" opacity="0.65"/>
<rect x="482" y="347" width="2.05" height="65" fill="url(#dg)" opacity="0.73"/>
<rect x="482" y="301.2" width="2.05" height="45.9" fill="url(#fg)" opacity="0.73"/>
<rect x="484" y="347" width="2.05" height="65" fill="url(#dg)" opacity="0.68"/>
<rect x="484" y="317.7" width="2.05" height="29.4" fill="url(#fg)" opacity="0.68"/>
<rect x="486" y="347" width="2.05" height="65" fill="url(#dg)" opacity="0.39"/>
<rect x="486" y="322.5" width="2.05" height="24.6" fill="url(#fg)" opacity="0.39"/>
<rect x="488" y="347" width="2.05" height="65" fill="url(#dg)" opacity="0.79"/>
<rect x="488" y="313.8" width="2.05" height="33.3" fill="url(#fg)" opacity="0.79"/>
<rect x="490" y="347" width="2.05" height="65" fill="url(#dg)" opacity="0.78"/>
<rect x="490" y="302.0" width="2.05" height="45.1" fill="url(#fg)" opacity="0.78"/>
<rect x="492" y="347" width="2.05" height="65" fill="url(#dg)" opacity="0.76"/>
<rect x="492" y="306.0" width="2.05" height="41.1" fill="url(#fg)" opacity="0.76"/>
<rect x="494" y="347" width="2.05" height="65" fill="url(#dg)" opacity="0.59"/>
<rect x="494" y="326.8" width="2.05" height="20.3" fill="url(#fg)" opacity="0.59"/>
<rect x="496" y="347" width="2.05" height="65" fill="url(#dg)" opacity="0.51"/>
<rect x="496" y="313.0" width="2.05" height="34.1" fill="url(#fg)" opacity="0.51"/>
<rect x="498" y="347" width="2.05" height="65" fill="url(#dg)" opacity="0.64"/>
<rect x="498" y="321.2" width="2.05" height="25.9" fill="url(#fg)" opacity="0.64"/>
<rect x="500" y="347" width="2.05" height="65" fill="url(#dg)" opacity="0.54"/>
<rect x="500" y="302.8" width="2.05" height="44.3" fill="url(#fg)" opacity="0.54"/>
<rect x="502" y="347" width="2.05" height="65" fill="url(#dg)" opacity="0.40"/>
<rect x="502" y="317.9" width="2.05" height="29.2" fill="url(#fg)" opacity="0.40"/>
<rect x="504" y="347" width="2.05" height="65" fill="url(#dg)" opacity="0.74"/>
<rect x="504" y="317.9" width="2.05" height="29.2" fill="url(#fg)" opacity="0.74"/>
<rect x="506" y="347" width="2.05" height="65" fill="url(#dg)" opacity="0.68"/>
<rect x="506" y="302.5" width="2.05" height="44.6" fill="url(#fg)" opacity="0.68"/>
<rect x="508" y="347" width="2.05" height="65" fill="url(#dg)" opacity="0.43"/>
<rect x="508" y="313.0" width="2.05" height="34.1" fill="url(#fg)" opacity="0.43"/>
<rect x="510" y="347" width="2.05" height="65" fill="url(#dg)" opacity="0.64"/>
<rect x="510" y="301.0" width="2.05" height="46.1" fill="url(#fg)" opacity="0.64"/>
<rect x="512" y="347" width="2.05" height="65" fill="url(#dg)" opacity="0.97"/>
<rect x="512" y="310.7" width="2.05" height="36.4" fill="url(#fg)" opacity="0.97"/>
<rect x="514" y="347" width="2.05" height="65" fill="url(#dg)" opacity="0.62"/>
<rect x="514" y="310.9" width="2.05" height="36.2" fill="url(#fg)" opacity="0.62"/>
<rect x="516" y="347" width="2.05" height="65" fill="url(#dg)" opacity="0.37"/>
<rect x="516" y="312.8" width="2.05" height="34.3" fill="url(#fg)" opacity="0.37"/>
<rect x="518" y="347" width="2.05" height="65" fill="url(#dg)" opacity="0.84"/>
<rect x="518" y="306.9" width="2.05" height="40.2" fill="url(#fg)" opacity="0.84"/>
<rect x="520" y="347" width="2.05" height="65" fill="url(#dg)" opacity="0.61"/>
<rect x="520" y="301.0" width="2.05" height="46.1" fill="url(#fg)" opacity="0.61"/>
<rect x="522" y="347" width="2.05" height="65" fill="url(#dg)" opacity="0.53"/>
<rect x="522" y="312.8" width="2.05" height="34.3" fill="url(#fg)" opacity="0.53"/>
<rect x="524" y="347" width="2.05" height="65" fill="url(#dg)" opacity="0.86"/>
<rect x="524" y="325.4" width="2.05" height="21.7" fill="url(#fg)" opacity="0.86"/>
<rect x="526" y="347" width="2.05" height="65" fill="url(#dg)" opacity="0.53"/>
<rect x="526" y="320.9" width="2.05" height="26.2" fill="url(#fg)" opacity="0.53"/>
<rect x="528" y="347" width="2.05" height="65" fill="url(#dg)" opacity="0.44"/>
<rect x="528" y="312.3" width="2.05" height="34.8" fill="url(#fg)" opacity="0.44"/>
<rect x="530" y="347" width="2.05" height="65" fill="url(#dg)" opacity="0.38"/>
<rect x="530" y="301.0" width="2.05" height="46.1" fill="url(#fg)" opacity="0.38"/>
<rect x="532" y="347" width="2.05" height="65" fill="url(#dg)" opacity="0.71"/>
<rect x="532" y="312.1" width="2.05" height="35.0" fill="url(#fg)" opacity="0.71"/>
<rect x="534" y="347" width="2.05" height="65" fill="url(#dg)" opacity="0.36"/>
<rect x="534" y="301.0" width="2.05" height="46.1" fill="url(#fg)" opacity="0.36"/>
<rect x="536" y="347" width="2.05" height="65" fill="url(#dg)" opacity="0.65"/>
<rect x="536" y="319.9" width="2.05" height="27.2" fill="url(#fg)" opacity="0.65"/>
<rect x="538" y="347" width="2.05" height="65" fill="url(#dg)" opacity="0.27"/>
<rect x="538" y="308.7" width="2.05" height="38.4" fill="url(#fg)" opacity="0.27"/>
<rect x="540" y="347" width="2.05" height="65" fill="url(#dg)" opacity="0.44"/>
<rect x="540" y="328.9" width="2.05" height="18.2" fill="url(#fg)" opacity="0.44"/>
<rect x="542" y="347" width="2.05" height="65" fill="url(#dg)" opacity="0.22"/>
<rect x="542" y="316.6" width="2.05" height="30.5" fill="url(#fg)" opacity="0.22"/>
<rect x="544" y="347" width="2.05" height="65" fill="url(#dg)" opacity="0.36"/>
<rect x="544" y="325.5" width="2.05" height="21.6" fill="url(#fg)" opacity="0.36"/>
<rect x="546" y="347" width="2.05" height="65" fill="url(#dg)" opacity="0.13"/>
<rect x="546" y="331.0" width="2.05" height="16.1" fill="url(#fg)" opacity="0.13"/>
<rect x="548" y="347" width="2.05" height="65" fill="url(#dg)" opacity="0.24"/>
<rect x="548" y="326.4" width="2.05" height="20.7" fill="url(#fg)" opacity="0.24"/>
<rect x="550" y="347" width="2.05" height="65" fill="url(#dg)" opacity="0.12"/>
<rect x="550" y="332.4" width="2.05" height="14.7" fill="url(#fg)" opacity="0.12"/>
<rect x="552" y="347" width="2.05" height="65" fill="url(#dg)" opacity="0.10"/>
<rect x="552" y="329.0" width="2.05" height="18.1" fill="url(#fg)" opacity="0.10"/>
<rect x="554" y="347" width="2.05" height="65" fill="url(#dg)" opacity="0.06"/>
<rect x="554" y="333.4" width="2.05" height="13.7" fill="url(#fg)" opacity="0.06"/>
<rect x="556" y="347" width="2.05" height="65" fill="url(#dg)" opacity="0.03"/>
<rect x="556" y="329.7" width="2.05" height="17.4" fill="url(#fg)" opacity="0.03"/>
<rect x="558" y="347" width="2.05" height="65" fill="url(#dg)" opacity="0.03"/>
<rect x="558" y="332.7" width="2.05" height="14.4" fill="url(#fg)" opacity="0.03"/>
<rect x="560" y="347" width="2.05" height="65" fill="url(#dg)" opacity="0.05"/>
<rect x="560" y="334.5" width="2.05" height="12.6" fill="url(#fg)" opacity="0.05"/>
<rect x="562" y="347" width="2.05" height="65" fill="url(#dg)" opacity="0.03"/>
<rect x="562" y="336.5" width="2.05" height="10.6" fill="url(#fg)" opacity="0.03"/>
<rect x="564" y="347" width="2.05" height="65" fill="url(#dg)" opacity="0.04"/>
<rect x="564" y="336.2" width="2.05" height="10.9" fill="url(#fg)" opacity="0.04"/>
<rect x="566" y="347" width="2.05" height="65" fill="url(#dg)" opacity="0.03"/>
<rect x="566" y="335.8" width="2.05" height="11.3" fill="url(#fg)" opacity="0.03"/>
<rect x="568" y="347" width="2.05" height="65" fill="url(#dg)" opacity="0.05"/>
<rect x="568" y="339.1" width="2.05" height="8.0" fill="url(#fg)" opacity="0.05"/>
<rect x="570" y="347" width="2.05" height="65" fill="url(#dg)" opacity="0.03"/>
<rect x="570" y="334.6" width="2.05" height="12.5" fill="url(#fg)" opacity="0.03"/>
<rect x="576" y="347" width="2.05" height="65" fill="url(#dg)" opacity="0.04"/>
<rect x="576" y="340.6" width="2.05" height="6.5" fill="url(#fg)" opacity="0.04"/>
<rect x="580" y="347" width="2.05" height="65" fill="url(#dg)" opacity="0.03"/>
<rect x="580" y="330.8" width="2.05" height="16.3" fill="url(#fg)" opacity="0.03"/>
<rect x="582" y="347" width="2.05" height="65" fill="url(#dg)" opacity="0.02"/>
<rect x="582" y="334.1" width="2.05" height="13.0" fill="url(#fg)" opacity="0.02"/>
<rect x="584" y="347" width="2.05" height="65" fill="url(#dg)" opacity="0.04"/>
<rect x="584" y="339.7" width="2.05" height="7.4" fill="url(#fg)" opacity="0.04"/>
<rect x="594" y="347" width="2.05" height="65" fill="url(#dg)" opacity="0.03"/>
<rect x="594" y="334.9" width="2.05" height="12.2" fill="url(#fg)" opacity="0.03"/>
<rect x="598" y="347" width="2.05" height="65" fill="url(#dg)" opacity="0.02"/>
<rect x="598" y="334.9" width="2.05" height="12.2" fill="url(#fg)" opacity="0.02"/>
<rect x="602" y="347" width="2.05" height="65" fill="url(#dg)" opacity="0.03"/>
<rect x="602" y="333.0" width="2.05" height="14.1" fill="url(#fg)" opacity="0.03"/>
<rect x="604" y="347" width="2.05" height="65" fill="url(#dg)" opacity="0.11"/>
<rect x="604" y="337.4" width="2.05" height="9.7" fill="url(#fg)" opacity="0.11"/>
<rect x="606" y="347" width="2.05" height="65" fill="url(#dg)" opacity="0.18"/>
<rect x="606" y="332.2" width="2.05" height="14.9" fill="url(#fg)" opacity="0.18"/>
<rect x="608" y="347" width="2.05" height="65" fill="url(#dg)" opacity="0.24"/>
<rect x="608" y="329.0" width="2.05" height="18.1" fill="url(#fg)" opacity="0.24"/>
<rect x="610" y="347" width="2.05" height="65" fill="url(#dg)" opacity="0.21"/>
<rect x="610" y="327.0" width="2.05" height="20.1" fill="url(#fg)" opacity="0.21"/>
<rect x="612" y="347" width="2.05" height="65" fill="url(#dg)" opacity="0.31"/>
<rect x="612" y="334.2" width="2.05" height="12.9" fill="url(#fg)" opacity="0.31"/>
<rect x="614" y="347" width="2.05" height="65" fill="url(#dg)" opacity="0.49"/>
<rect x="614" y="327.4" width="2.05" height="19.7" fill="url(#fg)" opacity="0.49"/>
<rect x="616" y="347" width="2.05" height="65" fill="url(#dg)" opacity="0.53"/>
<rect x="616" y="313.8" width="2.05" height="33.3" fill="url(#fg)" opacity="0.53"/>
<rect x="618" y="347" width="2.05" height="65" fill="url(#dg)" opacity="0.54"/>
<rect x="618" y="329.7" width="2.05" height="17.4" fill="url(#fg)" opacity="0.54"/>
<rect x="620" y="347" width="2.05" height="65" fill="url(#dg)" opacity="0.44"/>
<rect x="620" y="326.2" width="2.05" height="20.9" fill="url(#fg)" opacity="0.44"/>
<rect x="622" y="347" width="2.05" height="65" fill="url(#dg)" opacity="0.47"/>
<rect x="622" y="325.1" width="2.05" height="22.0" fill="url(#fg)" opacity="0.47"/>
<rect x="624" y="347" width="2.05" height="65" fill="url(#dg)" opacity="0.66"/>
<rect x="624" y="327.9" width="2.05" height="19.2" fill="url(#fg)" opacity="0.66"/>
<rect x="626" y="347" width="2.05" height="65" fill="url(#dg)" opacity="0.87"/>
<rect x="626" y="316.2" width="2.05" height="30.9" fill="url(#fg)" opacity="0.87"/>
<rect x="628" y="347" width="2.05" height="65" fill="url(#dg)" opacity="0.58"/>
<rect x="628" y="310.1" width="2.05" height="37.0" fill="url(#fg)" opacity="0.58"/>
<rect x="630" y="347" width="2.05" height="65" fill="url(#dg)" opacity="0.69"/>
<rect x="630" y="301.0" width="2.05" height="46.1" fill="url(#fg)" opacity="0.69"/>
<rect x="632" y="347" width="2.05" height="65" fill="url(#dg)" opacity="1.00"/>
<rect x="632" y="317.1" width="2.05" height="30.0" fill="url(#fg)" opacity="1.00"/>
<rect x="634" y="347" width="2.05" height="65" fill="url(#dg)" opacity="0.55"/>
<rect x="634" y="301.0" width="2.05" height="46.1" fill="url(#fg)" opacity="0.55"/>
<rect x="636" y="347" width="2.05" height="65" fill="url(#dg)" opacity="0.89"/>
<rect x="636" y="308.1" width="2.05" height="39.0" fill="url(#fg)" opacity="0.89"/>
<rect x="638" y="347" width="2.05" height="65" fill="url(#dg)" opacity="0.70"/>
<rect x="638" y="318.2" width="2.05" height="28.9" fill="url(#fg)" opacity="0.70"/>
<rect x="640" y="347" width="2.05" height="65" fill="url(#dg)" opacity="0.54"/>
<rect x="640" y="313.1" width="2.05" height="34.0" fill="url(#fg)" opacity="0.54"/>
<rect x="642" y="347" width="2.05" height="65" fill="url(#dg)" opacity="0.65"/>
<rect x="642" y="301.0" width="2.05" height="46.1" fill="url(#fg)" opacity="0.65"/>
<rect x="644" y="347" width="2.05" height="65" fill="url(#dg)" opacity="0.41"/>
<rect x="644" y="313.2" width="2.05" height="33.9" fill="url(#fg)" opacity="0.41"/>
<rect x="646" y="347" width="2.05" height="65" fill="url(#dg)" opacity="0.69"/>
<rect x="646" y="310.7" width="2.05" height="36.4" fill="url(#fg)" opacity="0.69"/>
<rect x="648" y="347" width="2.05" height="65" fill="url(#dg)" opacity="0.89"/>
<rect x="648" y="311.0" width="2.05" height="36.1" fill="url(#fg)" opacity="0.89"/>
<rect x="650" y="347" width="2.05" height="65" fill="url(#dg)" opacity="0.44"/>
<rect x="650" y="302.5" width="2.05" height="44.6" fill="url(#fg)" opacity="0.44"/>
<rect x="652" y="347" width="2.05" height="65" fill="url(#dg)" opacity="0.72"/>
<rect x="652" y="301.0" width="2.05" height="46.1" fill="url(#fg)" opacity="0.72"/>
<rect x="654" y="347" width="2.05" height="65" fill="url(#dg)" opacity="0.40"/>
<rect x="654" y="327.3" width="2.05" height="19.8" fill="url(#fg)" opacity="0.40"/>
<rect x="656" y="347" width="2.05" height="65" fill="url(#dg)" opacity="0.38"/>
<rect x="656" y="305.7" width="2.05" height="41.4" fill="url(#fg)" opacity="0.38"/>
<rect x="658" y="347" width="2.05" height="65" fill="url(#dg)" opacity="0.61"/>
<rect x="658" y="301.0" width="2.05" height="46.1" fill="url(#fg)" opacity="0.61"/>
<rect x="660" y="347" width="2.05" height="65" fill="url(#dg)" opacity="0.57"/>
<rect x="660" y="322.2" width="2.05" height="24.9" fill="url(#fg)" opacity="0.57"/>
<rect x="662" y="347" width="2.05" height="65" fill="url(#dg)" opacity="0.37"/>
<rect x="662" y="326.1" width="2.05" height="21.0" fill="url(#fg)" opacity="0.37"/>
<rect x="664" y="347" width="2.05" height="65" fill="url(#dg)" opacity="0.48"/>
<rect x="664" y="301.0" width="2.05" height="46.1" fill="url(#fg)" opacity="0.48"/>
<rect x="666" y="347" width="2.05" height="65" fill="url(#dg)" opacity="0.39"/>
<rect x="666" y="301.0" width="2.05" height="46.1" fill="url(#fg)" opacity="0.39"/>
<rect x="668" y="347" width="2.05" height="65" fill="url(#dg)" opacity="0.64"/>
<rect x="668" y="301.0" width="2.05" height="46.1" fill="url(#fg)" opacity="0.64"/>
<rect x="670" y="347" width="2.05" height="65" fill="url(#dg)" opacity="0.60"/>
<rect x="670" y="324.6" width="2.05" height="22.5" fill="url(#fg)" opacity="0.60"/>
<rect x="672" y="347" width="2.05" height="65" fill="url(#dg)" opacity="0.80"/>
<rect x="672" y="305.2" width="2.05" height="41.9" fill="url(#fg)" opacity="0.80"/>
<rect x="674" y="347" width="2.05" height="65" fill="url(#dg)" opacity="0.60"/>
<rect x="674" y="305.0" width="2.05" height="42.1" fill="url(#fg)" opacity="0.60"/>
<rect x="676" y="347" width="2.05" height="65" fill="url(#dg)" opacity="0.72"/>
<rect x="676" y="319.7" width="2.05" height="27.4" fill="url(#fg)" opacity="0.72"/>
<rect x="678" y="347" width="2.05" height="65" fill="url(#dg)" opacity="0.60"/>
<rect x="678" y="301.0" width="2.05" height="46.1" fill="url(#fg)" opacity="0.60"/>
<rect x="680" y="347" width="2.05" height="65" fill="url(#dg)" opacity="0.44"/>
<rect x="680" y="311.2" width="2.05" height="35.9" fill="url(#fg)" opacity="0.44"/>
<rect x="682" y="347" width="2.05" height="65" fill="url(#dg)" opacity="0.41"/>
<rect x="682" y="312.2" width="2.05" height="34.9" fill="url(#fg)" opacity="0.41"/>
<rect x="684" y="347" width="2.05" height="65" fill="url(#dg)" opacity="0.23"/>
<rect x="684" y="311.9" width="2.05" height="35.2" fill="url(#fg)" opacity="0.23"/>
<rect x="686" y="347" width="2.05" height="65" fill="url(#dg)" opacity="0.20"/>
<rect x="686" y="324.4" width="2.05" height="22.7" fill="url(#fg)" opacity="0.20"/>
<rect x="688" y="347" width="2.05" height="65" fill="url(#dg)" opacity="0.27"/>
<rect x="688" y="325.1" width="2.05" height="22.0" fill="url(#fg)" opacity="0.27"/>
<rect x="690" y="347" width="2.05" height="65" fill="url(#dg)" opacity="0.16"/>
<rect x="690" y="336.1" width="2.05" height="11.0" fill="url(#fg)" opacity="0.16"/>
<rect x="692" y="347" width="2.05" height="65" fill="url(#dg)" opacity="0.08"/>
<rect x="692" y="337.8" width="2.05" height="9.3" fill="url(#fg)" opacity="0.08"/>
<rect x="694" y="347" width="2.05" height="65" fill="url(#dg)" opacity="0.13"/>
<rect x="694" y="339.1" width="2.05" height="8.0" fill="url(#fg)" opacity="0.13"/>
<rect x="696" y="347" width="2.05" height="65" fill="url(#dg)" opacity="0.05"/>
<rect x="696" y="334.5" width="2.05" height="12.6" fill="url(#fg)" opacity="0.05"/>
<rect x="706" y="347" width="2.05" height="65" fill="url(#dg)" opacity="0.03"/>
<rect x="706" y="329.6" width="2.05" height="17.5" fill="url(#fg)" opacity="0.03"/>
<rect x="708" y="347" width="2.05" height="65" fill="url(#dg)" opacity="0.03"/>
<rect x="708" y="330.5" width="2.05" height="16.6" fill="url(#fg)" opacity="0.03"/>
<rect x="714" y="347" width="2.05" height="65" fill="url(#dg)" opacity="0.02"/>
<rect x="714" y="332.9" width="2.05" height="14.2" fill="url(#fg)" opacity="0.02"/>
<rect x="716" y="347" width="2.05" height="65" fill="url(#dg)" opacity="0.03"/>
<rect x="716" y="333.9" width="2.05" height="13.2" fill="url(#fg)" opacity="0.03"/>
<rect x="718" y="347" width="2.05" height="65" fill="url(#dg)" opacity="0.02"/>
<rect x="718" y="341.0" width="2.05" height="6.1" fill="url(#fg)" opacity="0.02"/>
<rect x="720" y="347" width="2.05" height="65" fill="url(#dg)" opacity="0.03"/>
<rect x="720" y="331.6" width="2.05" height="15.5" fill="url(#fg)" opacity="0.03"/>
<rect x="722" y="347" width="2.05" height="65" fill="url(#dg)" opacity="0.05"/>
<rect x="722" y="336.6" width="2.05" height="10.5" fill="url(#fg)" opacity="0.05"/>
<rect x="724" y="347" width="2.05" height="65" fill="url(#dg)" opacity="0.04"/>
<rect x="724" y="331.4" width="2.05" height="15.7" fill="url(#fg)" opacity="0.04"/>
<rect x="726" y="347" width="2.05" height="65" fill="url(#dg)" opacity="0.04"/>
<rect x="726" y="329.1" width="2.05" height="18.0" fill="url(#fg)" opacity="0.04"/>
<rect x="730" y="347" width="2.05" height="65" fill="url(#dg)" opacity="0.03"/>
<rect x="730" y="329.8" width="2.05" height="17.3" fill="url(#fg)" opacity="0.03"/>
<rect x="732" y="347" width="2.05" height="65" fill="url(#dg)" opacity="0.04"/>
<rect x="732" y="331.7" width="2.05" height="15.4" fill="url(#fg)" opacity="0.04"/>
<rect x="734" y="347" width="2.05" height="65" fill="url(#dg)" opacity="0.02"/>
<rect x="734" y="337.7" width="2.05" height="9.4" fill="url(#fg)" opacity="0.02"/>
<rect x="738" y="347" width="2.05" height="65" fill="url(#dg)" opacity="0.05"/>
<rect x="738" y="330.7" width="2.05" height="16.4" fill="url(#fg)" opacity="0.05"/>
<rect x="740" y="347" width="2.05" height="65" fill="url(#dg)" opacity="0.10"/>
<rect x="740" y="339.2" width="2.05" height="7.9" fill="url(#fg)" opacity="0.10"/>
<rect x="742" y="347" width="2.05" height="65" fill="url(#dg)" opacity="0.06"/>
<rect x="742" y="331.0" width="2.05" height="16.1" fill="url(#fg)" opacity="0.06"/>
<rect x="744" y="347" width="2.05" height="65" fill="url(#dg)" opacity="0.15"/>
<rect x="744" y="337.7" width="2.05" height="9.4" fill="url(#fg)" opacity="0.15"/>
<rect x="746" y="347" width="2.05" height="65" fill="url(#dg)" opacity="0.18"/>
<rect x="746" y="336.7" width="2.05" height="10.4" fill="url(#fg)" opacity="0.18"/>
<rect x="748" y="347" width="2.05" height="65" fill="url(#dg)" opacity="0.20"/>
<rect x="748" y="329.9" width="2.05" height="17.2" fill="url(#fg)" opacity="0.20"/>
<rect x="750" y="347" width="2.05" height="65" fill="url(#dg)" opacity="0.13"/>
<rect x="750" y="325.4" width="2.05" height="21.7" fill="url(#fg)" opacity="0.13"/>
<rect x="752" y="347" width="2.05" height="65" fill="url(#dg)" opacity="0.14"/>
<rect x="752" y="325.5" width="2.05" height="21.6" fill="url(#fg)" opacity="0.14"/>
<rect x="754" y="347" width="2.05" height="65" fill="url(#dg)" opacity="0.27"/>
<rect x="754" y="320.3" width="2.05" height="26.8" fill="url(#fg)" opacity="0.27"/>
<rect x="756" y="347" width="2.05" height="65" fill="url(#dg)" opacity="0.32"/>
<rect x="756" y="317.1" width="2.05" height="30.0" fill="url(#fg)" opacity="0.32"/>
<rect x="758" y="347" width="2.05" height="65" fill="url(#dg)" opacity="0.23"/>
<rect x="758" y="322.4" width="2.05" height="24.7" fill="url(#fg)" opacity="0.23"/>
<rect x="760" y="347" width="2.05" height="65" fill="url(#dg)" opacity="0.65"/>
<rect x="760" y="317.8" width="2.05" height="29.3" fill="url(#fg)" opacity="0.65"/>
<rect x="762" y="347" width="2.05" height="65" fill="url(#dg)" opacity="0.34"/>
<rect x="762" y="323.4" width="2.05" height="23.7" fill="url(#fg)" opacity="0.34"/>
<rect x="764" y="347" width="2.05" height="65" fill="url(#dg)" opacity="0.64"/>
<rect x="764" y="316.9" width="2.05" height="30.2" fill="url(#fg)" opacity="0.64"/>
<rect x="766" y="347" width="2.05" height="65" fill="url(#dg)" opacity="0.47"/>
<rect x="766" y="324.7" width="2.05" height="22.4" fill="url(#fg)" opacity="0.47"/>
<rect x="768" y="347" width="2.05" height="65" fill="url(#dg)" opacity="0.58"/>
<rect x="768" y="305.8" width="2.05" height="41.3" fill="url(#fg)" opacity="0.58"/>
<rect x="770" y="347" width="2.05" height="65" fill="url(#dg)" opacity="0.86"/>
<rect x="770" y="301.0" width="2.05" height="46.1" fill="url(#fg)" opacity="0.86"/>
<rect x="772" y="347" width="2.05" height="65" fill="url(#dg)" opacity="0.95"/>
<rect x="772" y="321.0" width="2.05" height="26.1" fill="url(#fg)" opacity="0.95"/>
<rect x="774" y="347" width="2.05" height="65" fill="url(#dg)" opacity="0.41"/>
<rect x="774" y="301.0" width="2.05" height="46.1" fill="url(#fg)" opacity="0.41"/>
<rect x="776" y="347" width="2.05" height="65" fill="url(#dg)" opacity="0.77"/>
<rect x="776" y="302.7" width="2.05" height="44.4" fill="url(#fg)" opacity="0.77"/>
<rect x="778" y="347" width="2.05" height="65" fill="url(#dg)" opacity="0.73"/>
<rect x="778" y="301.0" width="2.05" height="46.1" fill="url(#fg)" opacity="0.73"/>
<rect x="780" y="347" width="2.05" height="65" fill="url(#dg)" opacity="0.59"/>
<rect x="780" y="301.0" width="2.05" height="46.1" fill="url(#fg)" opacity="0.59"/>
<rect x="782" y="347" width="2.05" height="65" fill="url(#dg)" opacity="0.51"/>
<rect x="782" y="301.0" width="2.05" height="46.1" fill="url(#fg)" opacity="0.51"/>
<rect x="784" y="347" width="2.05" height="65" fill="url(#dg)" opacity="0.58"/>
<rect x="784" y="315.7" width="2.05" height="31.4" fill="url(#fg)" opacity="0.58"/>
<rect x="786" y="347" width="2.05" height="65" fill="url(#dg)" opacity="0.41"/>
<rect x="786" y="308.8" width="2.05" height="38.3" fill="url(#fg)" opacity="0.41"/>
<rect x="788" y="347" width="2.05" height="65" fill="url(#dg)" opacity="0.83"/>
<rect x="788" y="303.6" width="2.05" height="43.5" fill="url(#fg)" opacity="0.83"/>
<rect x="790" y="347" width="2.05" height="65" fill="url(#dg)" opacity="0.37"/>
<rect x="790" y="317.0" width="2.05" height="30.1" fill="url(#fg)" opacity="0.37"/>
<rect x="792" y="347" width="2.05" height="65" fill="url(#dg)" opacity="0.39"/>
<rect x="792" y="305.7" width="2.05" height="41.4" fill="url(#fg)" opacity="0.39"/>
<rect x="794" y="347" width="2.05" height="65" fill="url(#dg)" opacity="0.65"/>
<rect x="794" y="308.6" width="2.05" height="38.5" fill="url(#fg)" opacity="0.65"/>
<rect x="796" y="347" width="2.05" height="65" fill="url(#dg)" opacity="0.54"/>
<rect x="796" y="301.0" width="2.05" height="46.1" fill="url(#fg)" opacity="0.54"/>
<rect x="798" y="347" width="2.05" height="65" fill="url(#dg)" opacity="0.73"/>
<rect x="798" y="324.5" width="2.05" height="22.6" fill="url(#fg)" opacity="0.73"/>
<rect x="800" y="347" width="2.05" height="65" fill="url(#dg)" opacity="0.69"/>
<rect x="800" y="318.3" width="2.05" height="28.8" fill="url(#fg)" opacity="0.69"/>
<rect x="802" y="347" width="2.05" height="65" fill="url(#dg)" opacity="0.78"/>
<rect x="802" y="324.8" width="2.05" height="22.3" fill="url(#fg)" opacity="0.78"/>
<rect x="804" y="347" width="2.05" height="65" fill="url(#dg)" opacity="0.45"/>
<rect x="804" y="320.8" width="2.05" height="26.3" fill="url(#fg)" opacity="0.45"/>
<rect x="806" y="347" width="2.05" height="65" fill="url(#dg)" opacity="0.81"/>
<rect x="806" y="301.0" width="2.05" height="46.1" fill="url(#fg)" opacity="0.81"/>
<rect x="808" y="347" width="2.05" height="65" fill="url(#dg)" opacity="0.56"/>
<rect x="808" y="316.2" width="2.05" height="30.9" fill="url(#fg)" opacity="0.56"/>
<rect x="810" y="347" width="2.05" height="65" fill="url(#dg)" opacity="0.80"/>
<rect x="810" y="310.0" width="2.05" height="37.1" fill="url(#fg)" opacity="0.80"/>
<rect x="812" y="347" width="2.05" height="65" fill="url(#dg)" opacity="0.58"/>
<rect x="812" y="301.0" width="2.05" height="46.1" fill="url(#fg)" opacity="0.58"/>
<rect x="814" y="347" width="2.05" height="65" fill="url(#dg)" opacity="0.93"/>
<rect x="814" y="312.5" width="2.05" height="34.6" fill="url(#fg)" opacity="0.93"/>
<rect x="816" y="347" width="2.05" height="65" fill="url(#dg)" opacity="0.94"/>
<rect x="816" y="313.6" width="2.05" height="33.5" fill="url(#fg)" opacity="0.94"/>
<rect x="818" y="347" width="2.05" height="65" fill="url(#dg)" opacity="0.71"/>
<rect x="818" y="301.0" width="2.05" height="46.1" fill="url(#fg)" opacity="0.71"/>
<rect x="820" y="347" width="2.05" height="65" fill="url(#dg)" opacity="0.52"/>
<rect x="820" y="317.6" width="2.05" height="29.5" fill="url(#fg)" opacity="0.52"/>
<rect x="822" y="347" width="2.05" height="65" fill="url(#dg)" opacity="0.56"/>
<rect x="822" y="301.0" width="2.05" height="46.1" fill="url(#fg)" opacity="0.56"/>
<rect x="824" y="347" width="2.05" height="65" fill="url(#dg)" opacity="0.52"/>
<rect x="824" y="307.5" width="2.05" height="39.6" fill="url(#fg)" opacity="0.52"/>
<rect x="826" y="347" width="2.05" height="65" fill="url(#dg)" opacity="0.40"/>
<rect x="826" y="301.8" width="2.05" height="45.3" fill="url(#fg)" opacity="0.40"/>
<rect x="828" y="347" width="2.05" height="65" fill="url(#dg)" opacity="0.33"/>
<rect x="828" y="313.4" width="2.05" height="33.7" fill="url(#fg)" opacity="0.33"/>
<rect x="830" y="347" width="2.05" height="65" fill="url(#dg)" opacity="0.47"/>
<rect x="830" y="334.0" width="2.05" height="13.1" fill="url(#fg)" opacity="0.47"/>
<rect x="832" y="347" width="2.05" height="65" fill="url(#dg)" opacity="0.33"/>
<rect x="832" y="317.9" width="2.05" height="29.2" fill="url(#fg)" opacity="0.33"/>
<rect x="834" y="347" width="2.05" height="65" fill="url(#dg)" opacity="0.18"/>
<rect x="834" y="337.9" width="2.05" height="9.2" fill="url(#fg)" opacity="0.18"/>
<rect x="836" y="347" width="2.05" height="65" fill="url(#dg)" opacity="0.24"/>
<rect x="836" y="328.8" width="2.05" height="18.3" fill="url(#fg)" opacity="0.24"/>
<rect x="838" y="347" width="2.05" height="65" fill="url(#dg)" opacity="0.18"/>
<rect x="838" y="333.0" width="2.05" height="14.1" fill="url(#fg)" opacity="0.18"/>
<rect x="840" y="347" width="2.05" height="65" fill="url(#dg)" opacity="0.10"/>
<rect x="840" y="333.0" width="2.05" height="14.1" fill="url(#fg)" opacity="0.10"/>
<rect x="842" y="347" width="2.05" height="65" fill="url(#dg)" opacity="0.03"/>
<rect x="842" y="332.3" width="2.05" height="14.8" fill="url(#fg)" opacity="0.03"/>
<rect x="844" y="347" width="2.05" height="65" fill="url(#dg)" opacity="0.03"/>
<rect x="844" y="336.5" width="2.05" height="10.6" fill="url(#fg)" opacity="0.03"/>
<rect x="846" y="347" width="2.05" height="65" fill="url(#dg)" opacity="0.03"/>
<rect x="846" y="340.0" width="2.05" height="7.1" fill="url(#fg)" opacity="0.03"/>
<rect x="852" y="347" width="2.05" height="65" fill="url(#dg)" opacity="0.05"/>
<rect x="852" y="332.9" width="2.05" height="14.2" fill="url(#fg)" opacity="0.05"/>
<rect x="854" y="347" width="2.05" height="65" fill="url(#dg)" opacity="0.05"/>
<rect x="854" y="335.9" width="2.05" height="11.2" fill="url(#fg)" opacity="0.05"/>
<rect x="856" y="347" width="2.05" height="65" fill="url(#dg)" opacity="0.04"/>
<rect x="856" y="334.7" width="2.05" height="12.4" fill="url(#fg)" opacity="0.04"/>
<rect x="858" y="347" width="2.05" height="65" fill="url(#dg)" opacity="0.02"/>
<rect x="858" y="333.6" width="2.05" height="13.5" fill="url(#fg)" opacity="0.02"/>
<rect x="860" y="347" width="2.05" height="65" fill="url(#dg)" opacity="0.04"/>
<rect x="860" y="334.8" width="2.05" height="12.3" fill="url(#fg)" opacity="0.04"/>
<rect x="864" y="347" width="2.05" height="65" fill="url(#dg)" opacity="0.02"/>
<rect x="864" y="339.0" width="2.05" height="8.1" fill="url(#fg)" opacity="0.02"/>
<rect x="866" y="347" width="2.05" height="65" fill="url(#dg)" opacity="0.03"/>
<rect x="866" y="340.1" width="2.05" height="7.0" fill="url(#fg)" opacity="0.03"/>
<rect x="870" y="347" width="2.05" height="65" fill="url(#dg)" opacity="0.04"/>
<rect x="870" y="337.2" width="2.05" height="9.9" fill="url(#fg)" opacity="0.04"/>
<rect x="872" y="347" width="2.05" height="65" fill="url(#dg)" opacity="0.04"/>
<rect x="872" y="338.1" width="2.05" height="9.0" fill="url(#fg)" opacity="0.04"/>
<rect x="878" y="347" width="2.05" height="65" fill="url(#dg)" opacity="0.03"/>
<rect x="878" y="340.9" width="2.05" height="6.2" fill="url(#fg)" opacity="0.03"/>
<rect x="882" y="347" width="2.05" height="65" fill="url(#dg)" opacity="0.04"/>
<rect x="882" y="329.6" width="2.05" height="17.5" fill="url(#fg)" opacity="0.04"/>
<rect x="884" y="347" width="2.05" height="65" fill="url(#dg)" opacity="0.03"/>
<rect x="884" y="334.4" width="2.05" height="12.7" fill="url(#fg)" opacity="0.03"/>
<rect x="886" y="347" width="2.05" height="65" fill="url(#dg)" opacity="0.04"/>
<rect x="886" y="334.8" width="2.05" height="12.3" fill="url(#fg)" opacity="0.04"/>
<rect x="890" y="347" width="2.05" height="65" fill="url(#dg)" opacity="0.03"/>
<rect x="890" y="329.3" width="2.05" height="17.8" fill="url(#fg)" opacity="0.03"/>
<rect x="892" y="347" width="2.05" height="65" fill="url(#dg)" opacity="0.09"/>
<rect x="892" y="329.7" width="2.05" height="17.4" fill="url(#fg)" opacity="0.09"/>
<rect x="894" y="347" width="2.05" height="65" fill="url(#dg)" opacity="0.13"/>
<rect x="894" y="332.5" width="2.05" height="14.6" fill="url(#fg)" opacity="0.13"/>
<rect x="896" y="347" width="2.05" height="65" fill="url(#dg)" opacity="0.20"/>
<rect x="896" y="333.5" width="2.05" height="13.6" fill="url(#fg)" opacity="0.20"/>
<rect x="898" y="347" width="2.05" height="65" fill="url(#dg)" opacity="0.13"/>
<rect x="898" y="329.1" width="2.05" height="18.0" fill="url(#fg)" opacity="0.13"/>
<rect x="900" y="347" width="2.05" height="65" fill="url(#dg)" opacity="0.24"/>
<rect x="900" y="335.1" width="2.05" height="12.0" fill="url(#fg)" opacity="0.24"/>
<rect x="902" y="347" width="2.05" height="65" fill="url(#dg)" opacity="0.36"/>
<rect x="902" y="325.3" width="2.05" height="21.8" fill="url(#fg)" opacity="0.36"/>
<rect x="904" y="347" width="2.05" height="65" fill="url(#dg)" opacity="0.39"/>
<rect x="904" y="327.7" width="2.05" height="19.4" fill="url(#fg)" opacity="0.39"/>
<rect x="906" y="347" width="2.05" height="65" fill="url(#dg)" opacity="0.27"/>
<rect x="906" y="332.9" width="2.05" height="14.2" fill="url(#fg)" opacity="0.27"/>
<rect x="908" y="347" width="2.05" height="65" fill="url(#dg)" opacity="0.62"/>
<rect x="908" y="325.9" width="2.05" height="21.2" fill="url(#fg)" opacity="0.62"/>
<rect x="910" y="347" width="2.05" height="65" fill="url(#dg)" opacity="0.66"/>
<rect x="910" y="309.5" width="2.05" height="37.6" fill="url(#fg)" opacity="0.66"/>
<rect x="912" y="347" width="2.05" height="65" fill="url(#dg)" opacity="0.50"/>
<rect x="912" y="318.9" width="2.05" height="28.2" fill="url(#fg)" opacity="0.50"/>
<rect x="914" y="347" width="2.05" height="65" fill="url(#dg)" opacity="0.38"/>
<rect x="914" y="304.7" width="2.05" height="42.4" fill="url(#fg)" opacity="0.38"/>
<rect x="916" y="347" width="2.05" height="65" fill="url(#dg)" opacity="0.36"/>
<rect x="916" y="309.7" width="2.05" height="37.4" fill="url(#fg)" opacity="0.36"/>
<rect x="918" y="347" width="2.05" height="65" fill="url(#dg)" opacity="0.30"/>
<rect x="918" y="301.0" width="2.05" height="46.1" fill="url(#fg)" opacity="0.30"/>
<rect x="920" y="347" width="2.05" height="65" fill="url(#dg)" opacity="0.48"/>
<rect x="920" y="315.3" width="2.05" height="31.8" fill="url(#fg)" opacity="0.48"/>
<rect x="922" y="347" width="2.05" height="65" fill="url(#dg)" opacity="0.57"/>
<rect x="922" y="305.2" width="2.05" height="41.9" fill="url(#fg)" opacity="0.57"/>
<rect x="924" y="347" width="2.05" height="65" fill="url(#dg)" opacity="0.53"/>
<rect x="924" y="315.4" width="2.05" height="31.7" fill="url(#fg)" opacity="0.53"/>
<rect x="926" y="347" width="2.05" height="65" fill="url(#dg)" opacity="0.48"/>
<rect x="926" y="326.3" width="2.05" height="20.8" fill="url(#fg)" opacity="0.48"/>
<rect x="928" y="347" width="2.05" height="65" fill="url(#dg)" opacity="0.43"/>
<rect x="928" y="301.0" width="2.05" height="46.1" fill="url(#fg)" opacity="0.43"/>
<rect x="930" y="347" width="2.05" height="65" fill="url(#dg)" opacity="0.58"/>
<rect x="930" y="329.0" width="2.05" height="18.1" fill="url(#fg)" opacity="0.58"/>
<rect x="932" y="347" width="2.05" height="65" fill="url(#dg)" opacity="0.49"/>
<rect x="932" y="302.8" width="2.05" height="44.3" fill="url(#fg)" opacity="0.49"/>
<rect x="934" y="347" width="2.05" height="65" fill="url(#dg)" opacity="0.57"/>
<rect x="934" y="302.4" width="2.05" height="44.7" fill="url(#fg)" opacity="0.57"/>
<rect x="936" y="347" width="2.05" height="65" fill="url(#dg)" opacity="0.33"/>
<rect x="936" y="317.7" width="2.05" height="29.4" fill="url(#fg)" opacity="0.33"/>
<rect x="938" y="347" width="2.05" height="65" fill="url(#dg)" opacity="0.81"/>
<rect x="938" y="321.3" width="2.05" height="25.8" fill="url(#fg)" opacity="0.81"/>
<rect x="940" y="347" width="2.05" height="65" fill="url(#dg)" opacity="0.36"/>
<rect x="940" y="307.1" width="2.05" height="40.0" fill="url(#fg)" opacity="0.36"/>
<rect x="942" y="347" width="2.05" height="65" fill="url(#dg)" opacity="0.67"/>
<rect x="942" y="314.9" width="2.05" height="32.2" fill="url(#fg)" opacity="0.67"/>
<rect x="944" y="347" width="2.05" height="65" fill="url(#dg)" opacity="0.72"/>
<rect x="944" y="301.0" width="2.05" height="46.1" fill="url(#fg)" opacity="0.72"/>
<rect x="946" y="347" width="2.05" height="65" fill="url(#dg)" opacity="0.54"/>
<rect x="946" y="303.4" width="2.05" height="43.7" fill="url(#fg)" opacity="0.54"/>
<rect x="948" y="347" width="2.05" height="65" fill="url(#dg)" opacity="0.75"/>
<rect x="948" y="310.9" width="2.05" height="36.2" fill="url(#fg)" opacity="0.75"/>
<rect x="950" y="347" width="2.05" height="65" fill="url(#dg)" opacity="1.00"/>
<rect x="950" y="317.7" width="2.05" height="29.4" fill="url(#fg)" opacity="1.00"/>
<rect x="952" y="347" width="2.05" height="65" fill="url(#dg)" opacity="0.79"/>
<rect x="952" y="301.0" width="2.05" height="46.1" fill="url(#fg)" opacity="0.79"/>
<rect x="954" y="347" width="2.05" height="65" fill="url(#dg)" opacity="0.81"/>
<rect x="954" y="313.8" width="2.05" height="33.3" fill="url(#fg)" opacity="0.81"/>
<rect x="956" y="347" width="2.05" height="65" fill="url(#dg)" opacity="0.44"/>
<rect x="956" y="307.8" width="2.05" height="39.3" fill="url(#fg)" opacity="0.44"/>
<rect x="958" y="347" width="2.05" height="65" fill="url(#dg)" opacity="0.68"/>
<rect x="958" y="315.8" width="2.05" height="31.3" fill="url(#fg)" opacity="0.68"/>
<rect x="960" y="347" width="2.05" height="65" fill="url(#dg)" opacity="0.41"/>
<rect x="960" y="302.7" width="2.05" height="44.4" fill="url(#fg)" opacity="0.41"/>
<rect x="962" y="347" width="2.05" height="65" fill="url(#dg)" opacity="0.66"/>
<rect x="962" y="302.1" width="2.05" height="45.0" fill="url(#fg)" opacity="0.66"/>
<rect x="964" y="347" width="2.05" height="65" fill="url(#dg)" opacity="0.86"/>
<rect x="964" y="307.8" width="2.05" height="39.3" fill="url(#fg)" opacity="0.86"/>
<rect x="966" y="347" width="2.05" height="65" fill="url(#dg)" opacity="0.49"/>
<rect x="966" y="313.8" width="2.05" height="33.3" fill="url(#fg)" opacity="0.49"/>
<rect x="968" y="347" width="2.05" height="65" fill="url(#dg)" opacity="0.44"/>
<rect x="968" y="301.0" width="2.05" height="46.1" fill="url(#fg)" opacity="0.44"/>
<rect x="970" y="347" width="2.05" height="65" fill="url(#dg)" opacity="0.86"/>
<rect x="970" y="301.2" width="2.05" height="45.9" fill="url(#fg)" opacity="0.86"/>
<rect x="972" y="347" width="2.05" height="65" fill="url(#dg)" opacity="0.45"/>
<rect x="972" y="321.2" width="2.05" height="25.9" fill="url(#fg)" opacity="0.45"/>
<rect x="974" y="347" width="2.05" height="65" fill="url(#dg)" opacity="0.38"/>
<rect x="974" y="306.6" width="2.05" height="40.5" fill="url(#fg)" opacity="0.38"/>
<rect x="976" y="347" width="2.05" height="65" fill="url(#dg)" opacity="0.13"/>
<rect x="976" y="330.2" width="2.05" height="16.9" fill="url(#fg)" opacity="0.13"/>
<rect x="1054" y="347" width="2.05" height="65" fill="url(#dg)" opacity="0.03"/>
<rect x="1054" y="340.6" width="2.05" height="6.5" fill="url(#fg)" opacity="0.03"/>
<rect x="1056" y="347" width="2.05" height="65" fill="url(#dg)" opacity="0.03"/>
<rect x="1056" y="329.3" width="2.05" height="17.8" fill="url(#fg)" opacity="0.03"/>
<rect x="1058" y="347" width="2.05" height="65" fill="url(#dg)" opacity="0.08"/>
<rect x="1058" y="332.4" width="2.05" height="14.7" fill="url(#fg)" opacity="0.08"/>
<rect x="1060" y="347" width="2.05" height="65" fill="url(#dg)" opacity="0.11"/>
<rect x="1060" y="334.9" width="2.05" height="12.2" fill="url(#fg)" opacity="0.11"/>
<rect x="1062" y="347" width="2.05" height="65" fill="url(#dg)" opacity="0.13"/>
<rect x="1062" y="337.2" width="2.05" height="9.9" fill="url(#fg)" opacity="0.13"/>
<rect x="1064" y="347" width="2.05" height="65" fill="url(#dg)" opacity="0.09"/>
<rect x="1064" y="335.7" width="2.05" height="11.4" fill="url(#fg)" opacity="0.09"/>
<rect x="1066" y="347" width="2.05" height="65" fill="url(#dg)" opacity="0.06"/>
<rect x="1066" y="337.1" width="2.05" height="10.0" fill="url(#fg)" opacity="0.06"/>
<rect x="1068" y="347" width="2.05" height="65" fill="url(#dg)" opacity="0.12"/>
<rect x="1068" y="331.6" width="2.05" height="15.5" fill="url(#fg)" opacity="0.12"/>
<rect x="1070" y="347" width="2.05" height="65" fill="url(#dg)" opacity="0.09"/>
<rect x="1070" y="336.8" width="2.05" height="10.3" fill="url(#fg)" opacity="0.09"/>
<rect x="1072" y="347" width="2.05" height="65" fill="url(#dg)" opacity="0.06"/>
<rect x="1072" y="338.3" width="2.05" height="8.8" fill="url(#fg)" opacity="0.06"/>
<rect x="1074" y="347" width="2.05" height="65" fill="url(#dg)" opacity="0.10"/>
<rect x="1074" y="338.0" width="2.05" height="9.1" fill="url(#fg)" opacity="0.10"/>
<rect x="1076" y="347" width="2.05" height="65" fill="url(#dg)" opacity="0.11"/>
<rect x="1076" y="335.5" width="2.05" height="11.6" fill="url(#fg)" opacity="0.11"/>
<rect x="1078" y="347" width="2.05" height="65" fill="url(#dg)" opacity="0.06"/>
<rect x="1078" y="329.2" width="2.05" height="17.9" fill="url(#fg)" opacity="0.06"/>
<rect x="1080" y="347" width="2.05" height="65" fill="url(#dg)" opacity="0.09"/>
<rect x="1080" y="332.7" width="2.05" height="14.4" fill="url(#fg)" opacity="0.09"/>
<rect x="1082" y="347" width="2.05" height="65" fill="url(#dg)" opacity="0.06"/>
<rect x="1082" y="336.8" width="2.05" height="10.3" fill="url(#fg)" opacity="0.06"/>
<rect x="1084" y="347" width="2.05" height="65" fill="url(#dg)" opacity="0.09"/>
<rect x="1084" y="336.0" width="2.05" height="11.1" fill="url(#fg)" opacity="0.09"/>
<rect x="1086" y="347" width="2.05" height="65" fill="url(#dg)" opacity="0.08"/>
<rect x="1086" y="329.9" width="2.05" height="17.2" fill="url(#fg)" opacity="0.08"/>
<rect x="1088" y="347" width="2.05" height="65" fill="url(#dg)" opacity="0.10"/>
<rect x="1088" y="335.6" width="2.05" height="11.5" fill="url(#fg)" opacity="0.10"/>
<rect x="1090" y="347" width="2.05" height="65" fill="url(#dg)" opacity="0.05"/>
<rect x="1090" y="337.1" width="2.05" height="10.0" fill="url(#fg)" opacity="0.05"/>
<rect x="1092" y="347" width="2.05" height="65" fill="url(#dg)" opacity="0.10"/>
<rect x="1092" y="332.2" width="2.05" height="14.9" fill="url(#fg)" opacity="0.10"/>
<rect x="1094" y="347" width="2.05" height="65" fill="url(#dg)" opacity="0.06"/>
<rect x="1094" y="335.9" width="2.05" height="11.2" fill="url(#fg)" opacity="0.06"/>
<rect x="1096" y="347" width="2.05" height="65" fill="url(#dg)" opacity="0.07"/>
<rect x="1096" y="331.1" width="2.05" height="16.0" fill="url(#fg)" opacity="0.07"/>
<rect x="1098" y="347" width="2.05" height="65" fill="url(#dg)" opacity="0.12"/>
<rect x="1098" y="337.8" width="2.05" height="9.3" fill="url(#fg)" opacity="0.12"/>
<rect x="1100" y="347" width="2.05" height="65" fill="url(#dg)" opacity="0.10"/>
<rect x="1100" y="333.5" width="2.05" height="13.6" fill="url(#fg)" opacity="0.10"/>
<rect x="1102" y="347" width="2.05" height="65" fill="url(#dg)" opacity="0.12"/>
<rect x="1102" y="330.4" width="2.05" height="16.7" fill="url(#fg)" opacity="0.12"/>
<rect x="1104" y="347" width="2.05" height="65" fill="url(#dg)" opacity="0.10"/>
<rect x="1104" y="330.3" width="2.05" height="16.8" fill="url(#fg)" opacity="0.10"/>
<rect x="1106" y="347" width="2.05" height="65" fill="url(#dg)" opacity="0.10"/>
<rect x="1106" y="339.8" width="2.05" height="7.3" fill="url(#fg)" opacity="0.10"/>
<rect x="1108" y="347" width="2.05" height="65" fill="url(#dg)" opacity="0.14"/>
<rect x="1108" y="340.7" width="2.05" height="6.4" fill="url(#fg)" opacity="0.14"/>
<rect x="1110" y="347" width="2.05" height="65" fill="url(#dg)" opacity="0.07"/>
<rect x="1110" y="340.3" width="2.05" height="6.8" fill="url(#fg)" opacity="0.07"/>
<rect x="1112" y="347" width="2.05" height="65" fill="url(#dg)" opacity="0.13"/>
<rect x="1112" y="330.5" width="2.05" height="16.6" fill="url(#fg)" opacity="0.13"/>
<rect x="1114" y="347" width="2.05" height="65" fill="url(#dg)" opacity="0.10"/>
<rect x="1114" y="333.5" width="2.05" height="13.6" fill="url(#fg)" opacity="0.10"/>
<rect x="1116" y="347" width="2.05" height="65" fill="url(#dg)" opacity="0.13"/>
<rect x="1116" y="337.1" width="2.05" height="10.0" fill="url(#fg)" opacity="0.13"/>
<rect x="1118" y="347" width="2.05" height="65" fill="url(#dg)" opacity="0.15"/>
<rect x="1118" y="333.2" width="2.05" height="13.9" fill="url(#fg)" opacity="0.15"/>
<rect x="1120" y="347" width="2.05" height="65" fill="url(#dg)" opacity="0.07"/>
<rect x="1120" y="336.4" width="2.05" height="10.7" fill="url(#fg)" opacity="0.07"/>
<rect x="1122" y="347" width="2.05" height="65" fill="url(#dg)" opacity="0.13"/>
<rect x="1122" y="328.4" width="2.05" height="18.7" fill="url(#fg)" opacity="0.13"/>
<rect x="1124" y="347" width="2.05" height="65" fill="url(#dg)" opacity="0.06"/>
<rect x="1124" y="335.8" width="2.05" height="11.3" fill="url(#fg)" opacity="0.06"/>
<rect x="1126" y="347" width="2.05" height="65" fill="url(#dg)" opacity="0.07"/>
<rect x="1126" y="333.9" width="2.05" height="13.2" fill="url(#fg)" opacity="0.07"/>
<rect x="1128" y="347" width="2.05" height="65" fill="url(#dg)" opacity="0.12"/>
<rect x="1128" y="331.0" width="2.05" height="16.1" fill="url(#fg)" opacity="0.12"/>
<rect x="1130" y="347" width="2.05" height="65" fill="url(#dg)" opacity="0.06"/>
<rect x="1130" y="337.7" width="2.05" height="9.4" fill="url(#fg)" opacity="0.06"/>
<rect x="1132" y="347" width="2.05" height="65" fill="url(#dg)" opacity="0.06"/>
<rect x="1132" y="333.5" width="2.05" height="13.6" fill="url(#fg)" opacity="0.06"/>
<rect x="1134" y="347" width="2.05" height="65" fill="url(#dg)" opacity="0.12"/>
<rect x="1134" y="336.3" width="2.05" height="10.8" fill="url(#fg)" opacity="0.12"/>
<rect x="1136" y="347" width="2.05" height="65" fill="url(#dg)" opacity="0.07"/>
<rect x="1136" y="334.7" width="2.05" height="12.4" fill="url(#fg)" opacity="0.07"/>
<rect x="1138" y="347" width="2.05" height="65" fill="url(#dg)" opacity="0.08"/>
<rect x="1138" y="332.5" width="2.05" height="14.6" fill="url(#fg)" opacity="0.08"/>
<rect x="1140" y="347" width="2.05" height="65" fill="url(#dg)" opacity="0.06"/>
<rect x="1140" y="333.6" width="2.05" height="13.5" fill="url(#fg)" opacity="0.06"/>
<rect x="1142" y="347" width="2.05" height="65" fill="url(#dg)" opacity="0.08"/>
<rect x="1142" y="335.6" width="2.05" height="11.5" fill="url(#fg)" opacity="0.08"/>
<rect x="1144" y="347" width="2.05" height="65" fill="url(#dg)" opacity="0.07"/>
<rect x="1144" y="337.0" width="2.05" height="10.1" fill="url(#fg)" opacity="0.07"/>
<rect x="1146" y="347" width="2.05" height="65" fill="url(#dg)" opacity="0.12"/>
<rect x="1146" y="336.4" width="2.05" height="10.7" fill="url(#fg)" opacity="0.12"/>
<rect x="1148" y="347" width="2.05" height="65" fill="url(#dg)" opacity="0.06"/>
<rect x="1148" y="336.4" width="2.05" height="10.7" fill="url(#fg)" opacity="0.06"/>
<rect x="1150" y="347" width="2.05" height="65" fill="url(#dg)" opacity="0.08"/>
<rect x="1150" y="338.2" width="2.05" height="8.9" fill="url(#fg)" opacity="0.08"/>
<rect x="1152" y="347" width="2.05" height="65" fill="url(#dg)" opacity="0.03"/>
<rect x="1152" y="332.8" width="2.05" height="14.3" fill="url(#fg)" opacity="0.03"/>
<rect x="226.9" y="339.3" width="1.6" height="26.3" rx="0.5" fill="rgb(209,26,51)" opacity="0.39"/>
<rect x="259.4" y="320.4" width="1.0" height="20.3" rx="0.5" fill="rgb(214,26,51)" opacity="0.24"/>
<rect x="201.8" y="339.6" width="1.0" height="26.8" rx="0.5" fill="rgb(211,26,51)" opacity="0.45"/>
<rect x="168.8" y="343.7" width="1.0" height="29.2" rx="0.5" fill="rgb(219,26,51)" opacity="0.58"/>
<rect x="173.4" y="348.8" width="1.6" height="29.3" rx="0.5" fill="rgb(211,26,51)" opacity="0.58"/>
<rect x="234.8" y="340.3" width="1.2" height="29.7" rx="0.5" fill="rgb(209,26,51)" opacity="0.37"/>
<rect x="263.5" y="341.6" width="1.6" height="22.9" rx="0.5" fill="rgb(218,26,51)" opacity="0.34"/>
<rect x="190.3" y="325.6" width="1.2" height="20.6" rx="0.5" fill="rgb(211,26,51)" opacity="0.39"/>
<rect x="174.6" y="323.3" width="1.2" height="17.9" rx="0.5" fill="rgb(209,26,51)" opacity="0.52"/>
<rect x="196.8" y="335.8" width="1.0" height="10.2" rx="0.5" fill="rgb(218,26,51)" opacity="0.45"/>
<rect x="265.7" y="351.5" width="1.6" height="20.2" rx="0.5" fill="rgb(214,26,51)" opacity="0.41"/>
<rect x="244.7" y="316.9" width="1.2" height="26.5" rx="0.5" fill="rgb(221,26,51)" opacity="0.21"/>
<rect x="264.7" y="343.9" width="1.2" height="30.2" rx="0.5" fill="rgb(212,26,51)" opacity="0.48"/>
<rect x="189.8" y="333.1" width="1.6" height="23.8" rx="0.5" fill="rgb(218,26,51)" opacity="0.60"/>
<rect x="172.9" y="336.9" width="1.0" height="18.9" rx="0.5" fill="rgb(219,26,51)" opacity="0.34"/>
<rect x="183.3" y="350.5" width="1.6" height="13.2" rx="0.5" fill="rgb(209,26,51)" opacity="0.40"/>
<rect x="252.1" y="347.0" width="1.2" height="23.9" rx="0.5" fill="rgb(210,26,51)" opacity="0.37"/>
<rect x="188.5" y="313.0" width="1.0" height="32.0" rx="0.5" fill="rgb(222,26,51)" opacity="0.38"/>
<rect x="211.1" y="336.4" width="1.0" height="18.9" rx="0.5" fill="rgb(210,26,51)" opacity="0.53"/>
<rect x="216.2" y="349.9" width="1.2" height="30.6" rx="0.5" fill="rgb(211,26,51)" opacity="0.40"/>
<rect x="214.3" y="345.1" width="1.2" height="27.5" rx="0.5" fill="rgb(218,26,51)" opacity="0.47"/>
<rect x="242.9" y="351.9" width="1.2" height="25.5" rx="0.5" fill="rgb(220,26,51)" opacity="0.31"/>
<rect x="209.5" y="345.0" width="1.6" height="16.4" rx="0.5" fill="rgb(218,26,51)" opacity="0.52"/>
<rect x="194.7" y="339.7" width="1.2" height="26.2" rx="0.5" fill="rgb(213,26,51)" opacity="0.54"/>
<rect x="255.8" y="312.8" width="1.6" height="21.4" rx="0.5" fill="rgb(222,26,51)" opacity="0.28"/>
<rect x="196.4" y="345.4" width="1.0" height="16.2" rx="0.5" fill="rgb(219,26,51)" opacity="0.49"/>
<rect x="222.0" y="328.7" width="1.6" height="27.0" rx="0.5" fill="rgb(212,26,51)" opacity="0.60"/>
<rect x="227.0" y="339.3" width="1.0" height="26.7" rx="0.5" fill="rgb(217,26,51)" opacity="0.22"/>
<rect x="209.2" y="342.4" width="1.0" height="17.0" rx="0.5" fill="rgb(215,26,51)" opacity="0.42"/>
<rect x="202.6" y="348.7" width="1.0" height="24.6" rx="0.5" fill="rgb(217,26,51)" opacity="0.30"/>
<rect x="259.7" y="342.9" width="1.0" height="19.0" rx="0.5" fill="rgb(218,26,51)" opacity="0.42"/>
<rect x="189.3" y="344.6" width="1.6" height="21.3" rx="0.5" fill="rgb(213,26,51)" opacity="0.34"/>
<rect x="220.0" y="341.1" width="1.2" height="18.4" rx="0.5" fill="rgb(222,26,51)" opacity="0.59"/>
<rect x="225.2" y="349.7" width="1.0" height="29.7" rx="0.5" fill="rgb(214,26,51)" opacity="0.33"/>
<rect x="192.1" y="335.6" width="1.2" height="31.5" rx="0.5" fill="rgb(213,26,51)" opacity="0.59"/>
<rect x="198.4" y="344.5" width="1.6" height="30.1" rx="0.5" fill="rgb(217,26,51)" opacity="0.50"/>
<rect x="344.4" y="312.0" width="1.2" height="16.8" rx="0.5" fill="rgb(211,26,51)" opacity="0.21"/>
<rect x="380.7" y="346.4" width="1.0" height="15.4" rx="0.5" fill="rgb(220,26,51)" opacity="0.53"/>
<rect x="341.7" y="349.2" width="1.0" height="15.9" rx="0.5" fill="rgb(219,26,51)" opacity="0.31"/>
<rect x="363.7" y="338.0" width="1.6" height="21.4" rx="0.5" fill="rgb(221,26,51)" opacity="0.56"/>
<rect x="315.6" y="348.9" width="1.6" height="23.5" rx="0.5" fill="rgb(216,26,51)" opacity="0.39"/>
<rect x="350.5" y="322.8" width="1.0" height="23.0" rx="0.5" fill="rgb(209,26,51)" opacity="0.42"/>
<rect x="383.3" y="347.3" width="1.2" height="19.5" rx="0.5" fill="rgb(217,26,51)" opacity="0.48"/>
<rect x="362.0" y="340.6" width="1.2" height="25.8" rx="0.5" fill="rgb(215,26,51)" opacity="0.50"/>
<rect x="344.7" y="347.5" width="1.2" height="24.3" rx="0.5" fill="rgb(221,26,51)" opacity="0.26"/>
<rect x="362.3" y="327.3" width="1.2" height="20.9" rx="0.5" fill="rgb(216,26,51)" opacity="0.37"/>
<rect x="368.7" y="350.4" width="1.0" height="11.9" rx="0.5" fill="rgb(218,26,51)" opacity="0.21"/>
<rect x="387.0" y="337.1" width="1.6" height="32.0" rx="0.5" fill="rgb(215,26,51)" opacity="0.25"/>
<rect x="326.4" y="349.0" width="1.2" height="29.7" rx="0.5" fill="rgb(218,26,51)" opacity="0.38"/>
<rect x="332.5" y="344.9" width="1.0" height="27.6" rx="0.5" fill="rgb(217,26,51)" opacity="0.22"/>
<rect x="324.9" y="347.9" width="1.6" height="22.7" rx="0.5" fill="rgb(214,26,51)" opacity="0.45"/>
<rect x="315.0" y="350.6" width="1.2" height="25.1" rx="0.5" fill="rgb(215,26,51)" opacity="0.58"/>
<rect x="351.8" y="348.5" width="1.6" height="23.9" rx="0.5" fill="rgb(213,26,51)" opacity="0.58"/>
<rect x="369.5" y="341.7" width="1.0" height="11.4" rx="0.5" fill="rgb(212,26,51)" opacity="0.50"/>
<rect x="366.2" y="350.2" width="1.0" height="26.2" rx="0.5" fill="rgb(210,26,51)" opacity="0.21"/>
<rect x="348.5" y="333.8" width="1.0" height="10.8" rx="0.5" fill="rgb(216,26,51)" opacity="0.38"/>
<rect x="353.4" y="343.2" width="1.6" height="21.7" rx="0.5" fill="rgb(219,26,51)" opacity="0.22"/>
<rect x="382.8" y="349.9" width="1.6" height="12.6" rx="0.5" fill="rgb(215,26,51)" opacity="0.28"/>
<rect x="384.9" y="343.9" width="1.6" height="30.5" rx="0.5" fill="rgb(213,26,51)" opacity="0.35"/>
<rect x="379.4" y="338.5" width="1.2" height="19.5" rx="0.5" fill="rgb(216,26,51)" opacity="0.44"/>
<rect x="371.9" y="345.2" width="1.0" height="10.7" rx="0.5" fill="rgb(211,26,51)" opacity="0.40"/>
<rect x="349.2" y="346.8" width="1.6" height="16.6" rx="0.5" fill="rgb(221,26,51)" opacity="0.33"/>
<rect x="360.7" y="347.8" width="1.2" height="29.1" rx="0.5" fill="rgb(211,26,51)" opacity="0.30"/>
<rect x="342.0" y="346.0" width="1.0" height="16.3" rx="0.5" fill="rgb(209,26,51)" opacity="0.56"/>
<rect x="348.8" y="349.3" width="1.2" height="10.5" rx="0.5" fill="rgb(215,26,51)" opacity="0.58"/>
<rect x="343.4" y="345.9" width="1.0" height="26.0" rx="0.5" fill="rgb(209,26,51)" opacity="0.49"/>
<rect x="372.0" y="321.1" width="1.6" height="25.5" rx="0.5" fill="rgb(213,26,51)" opacity="0.39"/>
<rect x="342.6" y="323.9" width="1.0" height="25.8" rx="0.5" fill="rgb(219,26,51)" opacity="0.27"/>
<rect x="335.1" y="330.4" width="1.2" height="16.0" rx="0.5" fill="rgb(209,26,51)" opacity="0.51"/>
<rect x="355.4" y="332.7" width="1.6" height="22.1" rx="0.5" fill="rgb(216,26,51)" opacity="0.58"/>
<rect x="386.4" y="349.3" width="1.6" height="20.4" rx="0.5" fill="rgb(212,26,51)" opacity="0.22"/>
<rect x="495.3" y="344.3" width="1.2" height="15.6" rx="0.5" fill="rgb(215,26,51)" opacity="0.46"/>
<rect x="475.3" y="345.3" width="1.2" height="15.1" rx="0.5" fill="rgb(220,26,51)" opacity="0.23"/>
<rect x="553.5" y="347.4" width="1.6" height="11.7" rx="0.5" fill="rgb(212,26,51)" opacity="0.21"/>
<rect x="509.4" y="335.8" width="1.6" height="23.8" rx="0.5" fill="rgb(209,26,51)" opacity="0.50"/>
<rect x="524.2" y="344.2" width="1.6" height="32.0" rx="0.5" fill="rgb(210,26,51)" opacity="0.32"/>
<rect x="537.1" y="347.1" width="1.0" height="15.4" rx="0.5" fill="rgb(220,26,51)" opacity="0.59"/>
<rect x="522.0" y="346.4" width="1.0" height="20.8" rx="0.5" fill="rgb(209,26,51)" opacity="0.28"/>
<rect x="484.3" y="336.3" width="1.6" height="16.9" rx="0.5" fill="rgb(209,26,51)" opacity="0.31"/>
<rect x="549.1" y="345.4" width="1.0" height="10.6" rx="0.5" fill="rgb(220,26,51)" opacity="0.46"/>
<rect x="525.4" y="345.1" width="1.0" height="12.9" rx="0.5" fill="rgb(213,26,51)" opacity="0.25"/>
<rect x="505.3" y="335.2" width="1.6" height="10.7" rx="0.5" fill="rgb(219,26,51)" opacity="0.42"/>
<rect x="458.7" y="345.6" width="1.6" height="28.9" rx="0.5" fill="rgb(209,26,51)" opacity="0.41"/>
<rect x="468.4" y="342.7" width="1.0" height="17.9" rx="0.5" fill="rgb(217,26,51)" opacity="0.53"/>
<rect x="528.0" y="340.9" width="1.2" height="25.6" rx="0.5" fill="rgb(219,26,51)" opacity="0.37"/>
<rect x="498.5" y="349.9" width="1.0" height="19.8" rx="0.5" fill="rgb(215,26,51)" opacity="0.37"/>
<rect x="499.7" y="331.0" width="1.6" height="31.3" rx="0.5" fill="rgb(209,26,51)" opacity="0.25"/>
<rect x="540.2" y="344.3" width="1.0" height="14.6" rx="0.5" fill="rgb(209,26,51)" opacity="0.43"/>
<rect x="503.7" y="341.9" width="1.0" height="16.1" rx="0.5" fill="rgb(213,26,51)" opacity="0.41"/>
<rect x="531.7" y="344.0" width="1.0" height="18.1" rx="0.5" fill="rgb(220,26,51)" opacity="0.47"/>
<rect x="545.9" y="340.3" width="1.0" height="13.1" rx="0.5" fill="rgb(215,26,51)" opacity="0.22"/>
<rect x="472.8" y="351.5" width="1.0" height="25.8" rx="0.5" fill="rgb(220,26,51)" opacity="0.50"/>
<rect x="503.2" y="344.1" width="1.6" height="14.4" rx="0.5" fill="rgb(209,26,51)" opacity="0.40"/>
<rect x="514.1" y="350.3" width="1.2" height="18.6" rx="0.5" fill="rgb(218,26,51)" opacity="0.44"/>
<rect x="506.8" y="324.8" width="1.6" height="19.9" rx="0.5" fill="rgb(222,26,51)" opacity="0.48"/>
<rect x="522.3" y="344.0" width="1.2" height="27.6" rx="0.5" fill="rgb(222,26,51)" opacity="0.21"/>
<rect x="532.2" y="351.0" width="1.6" height="27.0" rx="0.5" fill="rgb(217,26,51)" opacity="0.50"/>
<rect x="526.7" y="347.8" width="1.2" height="30.4" rx="0.5" fill="rgb(222,26,51)" opacity="0.29"/>
<rect x="459.7" y="343.6" width="1.6" height="17.7" rx="0.5" fill="rgb(217,26,51)" opacity="0.42"/>
<rect x="503.8" y="348.3" width="1.2" height="12.7" rx="0.5" fill="rgb(222,26,51)" opacity="0.42"/>
<rect x="494.9" y="343.1" width="1.0" height="24.4" rx="0.5" fill="rgb(221,26,51)" opacity="0.45"/>
<rect x="494.3" y="344.6" width="1.6" height="25.2" rx="0.5" fill="rgb(218,26,51)" opacity="0.59"/>
<rect x="480.7" y="343.3" width="1.0" height="27.5" rx="0.5" fill="rgb(221,26,51)" opacity="0.27"/>
<rect x="518.6" y="320.2" width="1.0" height="14.9" rx="0.5" fill="rgb(217,26,51)" opacity="0.45"/>
<rect x="519.4" y="340.8" width="1.6" height="20.6" rx="0.5" fill="rgb(221,26,51)" opacity="0.32"/>
<rect x="483.8" y="344.7" width="1.0" height="31.3" rx="0.5" fill="rgb(214,26,51)" opacity="0.26"/>
<rect x="485.3" y="333.8" width="1.0" height="17.2" rx="0.5" fill="rgb(218,26,51)" opacity="0.48"/>
<rect x="672.7" y="344.3" width="1.6" height="20.7" rx="0.5" fill="rgb(222,26,51)" opacity="0.33"/>
<rect x="684.5" y="342.2" width="1.2" height="25.3" rx="0.5" fill="rgb(220,26,51)" opacity="0.20"/>
<rect x="667.2" y="346.1" width="1.2" height="17.4" rx="0.5" fill="rgb(217,26,51)" opacity="0.24"/>
<rect x="675.5" y="338.5" width="1.6" height="25.7" rx="0.5" fill="rgb(222,26,51)" opacity="0.45"/>
<rect x="695.6" y="336.0" width="1.0" height="12.3" rx="0.5" fill="rgb(211,26,51)" opacity="0.33"/>
<rect x="625.8" y="350.1" width="1.2" height="31.6" rx="0.5" fill="rgb(210,26,51)" opacity="0.20"/>
<rect x="639.0" y="351.6" width="1.2" height="26.3" rx="0.5" fill="rgb(219,26,51)" opacity="0.49"/>
<rect x="630.7" y="334.9" width="1.2" height="26.2" rx="0.5" fill="rgb(214,26,51)" opacity="0.32"/>
<rect x="650.4" y="349.7" width="1.6" height="27.4" rx="0.5" fill="rgb(210,26,51)" opacity="0.36"/>
<rect x="693.5" y="345.3" width="1.2" height="31.7" rx="0.5" fill="rgb(218,26,51)" opacity="0.23"/>
<rect x="628.3" y="346.6" width="1.0" height="20.5" rx="0.5" fill="rgb(216,26,51)" opacity="0.35"/>
<rect x="692.6" y="339.8" width="1.0" height="10.1" rx="0.5" fill="rgb(214,26,51)" opacity="0.21"/>
<rect x="626.3" y="325.5" width="1.6" height="18.4" rx="0.5" fill="rgb(210,26,51)" opacity="0.59"/>
<rect x="620.8" y="331.3" width="1.6" height="31.0" rx="0.5" fill="rgb(222,26,51)" opacity="0.47"/>
<rect x="651.3" y="350.3" width="1.6" height="18.6" rx="0.5" fill="rgb(215,26,51)" opacity="0.44"/>
<rect x="663.7" y="320.7" width="1.2" height="19.1" rx="0.5" fill="rgb(221,26,51)" opacity="0.35"/>
<rect x="688.5" y="348.7" width="1.2" height="27.2" rx="0.5" fill="rgb(220,26,51)" opacity="0.23"/>
<rect x="637.8" y="348.3" width="1.0" height="18.0" rx="0.5" fill="rgb(218,26,51)" opacity="0.25"/>
<rect x="618.4" y="343.7" width="1.2" height="11.6" rx="0.5" fill="rgb(209,26,51)" opacity="0.36"/>
<rect x="616.5" y="351.7" width="1.2" height="17.0" rx="0.5" fill="rgb(210,26,51)" opacity="0.29"/>
<rect x="605.0" y="340.0" width="1.2" height="19.4" rx="0.5" fill="rgb(210,26,51)" opacity="0.46"/>
<rect x="634.4" y="341.3" width="1.6" height="29.6" rx="0.5" fill="rgb(210,26,51)" opacity="0.24"/>
<rect x="664.4" y="314.1" width="1.2" height="18.1" rx="0.5" fill="rgb(216,26,51)" opacity="0.38"/>
<rect x="615.6" y="337.3" width="1.6" height="15.2" rx="0.5" fill="rgb(218,26,51)" opacity="0.20"/>
<rect x="676.8" y="350.6" width="1.6" height="21.1" rx="0.5" fill="rgb(212,26,51)" opacity="0.32"/>
<rect x="680.0" y="339.3" width="1.6" height="27.1" rx="0.5" fill="rgb(213,26,51)" opacity="0.38"/>
<rect x="665.5" y="316.1" width="1.6" height="18.1" rx="0.5" fill="rgb(212,26,51)" opacity="0.43"/>
<rect x="659.6" y="326.2" width="1.6" height="23.0" rx="0.5" fill="rgb(210,26,51)" opacity="0.38"/>
<rect x="673.4" y="327.1" width="1.6" height="18.6" rx="0.5" fill="rgb(213,26,51)" opacity="0.42"/>
<rect x="682.5" y="340.8" width="1.0" height="22.5" rx="0.5" fill="rgb(217,26,51)" opacity="0.22"/>
<rect x="674.0" y="334.6" width="1.2" height="29.5" rx="0.5" fill="rgb(222,26,51)" opacity="0.31"/>
<rect x="628.7" y="351.2" width="1.6" height="28.2" rx="0.5" fill="rgb(212,26,51)" opacity="0.27"/>
<rect x="822.4" y="337.6" width="1.2" height="23.0" rx="0.5" fill="rgb(221,26,51)" opacity="0.53"/>
<rect x="801.5" y="337.7" width="1.2" height="12.7" rx="0.5" fill="rgb(209,26,51)" opacity="0.53"/>
<rect x="790.9" y="341.9" width="1.6" height="10.9" rx="0.5" fill="rgb(214,26,51)" opacity="0.37"/>
<rect x="794.8" y="331.5" width="1.6" height="25.3" rx="0.5" fill="rgb(209,26,51)" opacity="0.47"/>
<rect x="747.9" y="345.2" width="1.6" height="20.1" rx="0.5" fill="rgb(216,26,51)" opacity="0.42"/>
<rect x="810.7" y="338.8" width="1.2" height="20.0" rx="0.5" fill="rgb(209,26,51)" opacity="0.50"/>
<rect x="793.2" y="343.0" width="1.0" height="20.2" rx="0.5" fill="rgb(218,26,51)" opacity="0.58"/>
<rect x="771.7" y="341.8" width="1.6" height="31.9" rx="0.5" fill="rgb(215,26,51)" opacity="0.45"/>
<rect x="807.6" y="349.2" width="1.2" height="13.1" rx="0.5" fill="rgb(211,26,51)" opacity="0.40"/>
<rect x="838.1" y="340.2" width="1.6" height="22.4" rx="0.5" fill="rgb(216,26,51)" opacity="0.56"/>
<rect x="797.4" y="349.9" width="1.2" height="19.2" rx="0.5" fill="rgb(220,26,51)" opacity="0.32"/>
<rect x="749.5" y="335.9" width="1.6" height="15.8" rx="0.5" fill="rgb(219,26,51)" opacity="0.23"/>
<rect x="825.0" y="322.9" width="1.0" height="12.4" rx="0.5" fill="rgb(210,26,51)" opacity="0.45"/>
<rect x="828.3" y="312.0" width="1.6" height="18.5" rx="0.5" fill="rgb(213,26,51)" opacity="0.51"/>
<rect x="832.4" y="340.3" width="1.2" height="16.4" rx="0.5" fill="rgb(214,26,51)" opacity="0.55"/>
<rect x="744.7" y="341.1" width="1.6" height="27.4" rx="0.5" fill="rgb(214,26,51)" opacity="0.38"/>
<rect x="807.7" y="312.0" width="1.2" height="17.1" rx="0.5" fill="rgb(222,26,51)" opacity="0.39"/>
<rect x="796.1" y="348.7" width="1.2" height="31.4" rx="0.5" fill="rgb(209,26,51)" opacity="0.55"/>
<rect x="843.0" y="340.3" width="1.0" height="24.4" rx="0.5" fill="rgb(221,26,51)" opacity="0.33"/>
<rect x="824.8" y="348.2" width="1.2" height="30.7" rx="0.5" fill="rgb(213,26,51)" opacity="0.42"/>
<rect x="823.4" y="347.3" width="1.0" height="15.6" rx="0.5" fill="rgb(219,26,51)" opacity="0.30"/>
<rect x="788.3" y="344.1" width="1.6" height="14.5" rx="0.5" fill="rgb(222,26,51)" opacity="0.51"/>
<rect x="785.6" y="345.9" width="1.6" height="15.5" rx="0.5" fill="rgb(210,26,51)" opacity="0.38"/>
<rect x="804.3" y="337.0" width="1.6" height="12.3" rx="0.5" fill="rgb(221,26,51)" opacity="0.45"/>
<rect x="812.7" y="327.2" width="1.0" height="22.2" rx="0.5" fill="rgb(219,26,51)" opacity="0.33"/>
<rect x="801.3" y="314.1" width="1.2" height="30.2" rx="0.5" fill="rgb(217,26,51)" opacity="0.22"/>
<rect x="768.9" y="349.4" width="1.2" height="16.5" rx="0.5" fill="rgb(222,26,51)" opacity="0.25"/>
<rect x="808.1" y="351.9" width="1.2" height="30.8" rx="0.5" fill="rgb(222,26,51)" opacity="0.37"/>
<rect x="768.2" y="351.2" width="1.2" height="23.0" rx="0.5" fill="rgb(213,26,51)" opacity="0.49"/>
<rect x="792.1" y="326.9" width="1.2" height="13.5" rx="0.5" fill="rgb(218,26,51)" opacity="0.42"/>
<rect x="789.7" y="330.0" width="1.0" height="18.2" rx="0.5" fill="rgb(216,26,51)" opacity="0.39"/>
<rect x="750.8" y="327.5" width="1.2" height="15.2" rx="0.5" fill="rgb(218,26,51)" opacity="0.35"/>
<rect x="807.0" y="346.1" width="1.0" height="16.0" rx="0.5" fill="rgb(211,26,51)" opacity="0.29"/>
<rect x="777.9" y="350.6" width="1.6" height="22.3" rx="0.5" fill="rgb(219,26,51)" opacity="0.38"/>
<rect x="811.4" y="343.8" width="1.0" height="15.7" rx="0.5" fill="rgb(211,26,51)" opacity="0.22"/>
<rect x="900.9" y="330.5" width="1.6" height="20.5" rx="0.5" fill="rgb(210,26,51)" opacity="0.51"/>
<rect x="950.7" y="339.9" width="1.6" height="20.2" rx="0.5" fill="rgb(217,26,51)" opacity="0.49"/>
<rect x="963.5" y="315.3" width="1.0" height="31.8" rx="0.5" fill="rgb(222,26,51)" opacity="0.48"/>
<rect x="908.9" y="347.7" width="1.0" height="29.5" rx="0.5" fill="rgb(212,26,51)" opacity="0.20"/>
<rect x="928.0" y="349.7" width="1.0" height="13.7" rx="0.5" fill="rgb(221,26,51)" opacity="0.48"/>
<rect x="910.2" y="335.4" width="1.2" height="19.9" rx="0.5" fill="rgb(222,26,51)" opacity="0.31"/>
<rect x="936.1" y="339.0" width="1.0" height="15.9" rx="0.5" fill="rgb(221,26,51)" opacity="0.57"/>
<rect x="958.6" y="320.6" width="1.6" height="24.5" rx="0.5" fill="rgb(216,26,51)" opacity="0.53"/>
<rect x="953.7" y="345.1" width="1.0" height="25.8" rx="0.5" fill="rgb(211,26,51)" opacity="0.41"/>
<rect x="962.6" y="329.5" width="1.6" height="12.1" rx="0.5" fill="rgb(215,26,51)" opacity="0.53"/>
<rect x="944.7" y="325.2" width="1.6" height="30.9" rx="0.5" fill="rgb(209,26,51)" opacity="0.42"/>
<rect x="972.5" y="344.4" width="1.0" height="17.2" rx="0.5" fill="rgb(215,26,51)" opacity="0.35"/>
<rect x="923.1" y="349.9" width="1.2" height="29.5" rx="0.5" fill="rgb(217,26,51)" opacity="0.41"/>
<rect x="906.3" y="332.1" width="1.0" height="19.7" rx="0.5" fill="rgb(212,26,51)" opacity="0.32"/>
<rect x="960.6" y="339.8" width="1.6" height="24.6" rx="0.5" fill="rgb(213,26,51)" opacity="0.23"/>
<rect x="919.3" y="349.1" width="1.0" height="17.7" rx="0.5" fill="rgb(213,26,51)" opacity="0.47"/>
<rect x="902.4" y="335.1" width="1.6" height="30.2" rx="0.5" fill="rgb(210,26,51)" opacity="0.39"/>
<rect x="965.9" y="339.4" width="1.2" height="16.7" rx="0.5" fill="rgb(212,26,51)" opacity="0.38"/>
<rect x="912.5" y="339.6" width="1.2" height="30.5" rx="0.5" fill="rgb(214,26,51)" opacity="0.26"/>
<rect x="944.6" y="343.8" width="1.0" height="31.7" rx="0.5" fill="rgb(214,26,51)" opacity="0.24"/>
<rect x="919.3" y="347.2" width="1.6" height="31.2" rx="0.5" fill="rgb(221,26,51)" opacity="0.22"/>
<rect x="911.2" y="351.9" width="1.6" height="15.8" rx="0.5" fill="rgb(216,26,51)" opacity="0.41"/>
<rect x="966.1" y="342.5" width="1.0" height="30.6" rx="0.5" fill="rgb(210,26,51)" opacity="0.38"/>
<rect x="965.8" y="324.9" width="1.6" height="18.0" rx="0.5" fill="rgb(222,26,51)" opacity="0.24"/>
<rect x="892.8" y="347.7" width="1.6" height="23.0" rx="0.5" fill="rgb(221,26,51)" opacity="0.23"/>
<rect x="915.9" y="330.3" width="1.2" height="10.8" rx="0.5" fill="rgb(213,26,51)" opacity="0.48"/>
<rect x="1105.4" y="334.5" width="1.2" height="20.3" rx="0.5" fill="rgb(220,26,51)" opacity="0.27"/>
<rect x="1099.8" y="344.5" width="1.0" height="23.7" rx="0.5" fill="rgb(215,26,51)" opacity="0.31"/>
<rect x="1146.6" y="345.5" width="1.2" height="18.8" rx="0.5" fill="rgb(223,26,51)" opacity="0.25"/>
<rect x="1128.5" y="345.2" width="1.2" height="20.1" rx="0.5" fill="rgb(211,26,51)" opacity="0.59"/>
<rect x="1051.0" y="347.0" width="1.6" height="13.4" rx="0.5" fill="rgb(216,26,51)" opacity="0.25"/>
<rect x="1089.7" y="340.5" width="1.2" height="14.3" rx="0.5" fill="rgb(212,26,51)" opacity="0.40"/>
<rect x="1111.0" y="325.2" width="1.2" height="16.7" rx="0.5" fill="rgb(213,26,51)" opacity="0.34"/>
<rect x="1138.9" y="332.8" width="1.0" height="14.3" rx="0.5" fill="rgb(212,26,51)" opacity="0.41"/>
<rect x="1054.8" y="318.6" width="1.2" height="14.9" rx="0.5" fill="rgb(209,26,51)" opacity="0.48"/>
<rect x="1129.7" y="349.7" width="1.0" height="25.3" rx="0.5" fill="rgb(212,26,51)" opacity="0.23"/>
<rect x="1061.5" y="349.4" width="1.2" height="28.4" rx="0.5" fill="rgb(212,26,51)" opacity="0.27"/>
<rect x="1078.3" y="312.0" width="1.6" height="13.9" rx="0.5" fill="rgb(222,26,51)" opacity="0.54"/>
<rect x="1130.5" y="351.3" width="1.6" height="26.4" rx="0.5" fill="rgb(212,26,51)" opacity="0.47"/>
<rect x="1060.2" y="345.6" width="1.0" height="25.1" rx="0.5" fill="rgb(215,26,51)" opacity="0.25"/>
<rect x="1058.5" y="319.8" width="1.6" height="20.7" rx="0.5" fill="rgb(219,26,51)" opacity="0.44"/>
<rect x="1083.8" y="316.9" width="1.6" height="17.0" rx="0.5" fill="rgb(212,26,51)" opacity="0.54"/>
<rect x="1111.3" y="342.0" width="1.0" height="14.4" rx="0.5" fill="rgb(216,26,51)" opacity="0.24"/>
<rect x="1074.9" y="328.6" width="1.0" height="24.2" rx="0.5" fill="rgb(213,26,51)" opacity="0.49"/>
<rect x="1071.7" y="333.3" width="1.6" height="25.5" rx="0.5" fill="rgb(217,26,51)" opacity="0.29"/>
<rect x="1096.1" y="334.7" width="1.6" height="15.6" rx="0.5" fill="rgb(211,26,51)" opacity="0.39"/>
<rect x="1107.3" y="351.1" width="1.6" height="20.5" rx="0.5" fill="rgb(222,26,51)" opacity="0.21"/>
<rect x="1051.4" y="334.5" width="1.2" height="13.5" rx="0.5" fill="rgb(214,26,51)" opacity="0.54"/>
<rect x="1139.5" y="345.5" width="1.6" height="22.1" rx="0.5" fill="rgb(211,26,51)" opacity="0.24"/>
<rect x="1147.5" y="341.3" width="1.2" height="21.0" rx="0.5" fill="rgb(216,26,51)" opacity="0.28"/>
<rect x="1125.2" y="345.0" width="1.2" height="24.1" rx="0.5" fill="rgb(218,26,51)" opacity="0.45"/>
<rect x="1052.2" y="338.6" width="1.2" height="16.2" rx="0.5" fill="rgb(215,26,51)" opacity="0.30"/>
<rect x="1100.4" y="335.4" width="1.2" height="25.9" rx="0.5" fill="rgb(222,26,51)" opacity="0.22"/>
<rect x="1153.8" y="329.3" width="1.0" height="23.2" rx="0.5" fill="rgb(216,26,51)" opacity="0.46"/>
<rect x="1084.7" y="334.3" width="1.6" height="23.5" rx="0.5" fill="rgb(211,26,51)" opacity="0.35"/>
<rect x="1136.7" y="332.6" width="1.6" height="30.3" rx="0.5" fill="rgb(217,26,51)" opacity="0.45"/>
<rect x="1056.4" y="348.8" width="1.6" height="21.5" rx="0.5" fill="rgb(211,26,51)" opacity="0.52"/>
<rect x="1100.5" y="330.1" width="1.0" height="23.9" rx="0.5" fill="rgb(222,26,51)" opacity="0.33"/>
<rect x="1125.0" y="323.6" width="1.6" height="24.3" rx="0.5" fill="rgb(218,26,51)" opacity="0.20"/>
<rect x="1120.9" y="335.3" width="1.6" height="25.4" rx="0.5" fill="rgb(218,26,51)" opacity="0.58"/>
<rect x="1134.3" y="333.6" width="1.0" height="30.1" rx="0.5" fill="rgb(219,26,51)" opacity="0.33"/>
<rect x="691.9" y="351.7" width="1.1" height="18.8" rx="0.5" fill="rgb(202,26,51)" opacity="0.65"/>
<rect x="872.3" y="359.3" width="1.1" height="16.4" rx="0.5" fill="rgb(202,26,51)" opacity="0.50"/>
<rect x="721.6" y="336.2" width="1.1" height="24.3" rx="0.5" fill="rgb(202,26,51)" opacity="0.43"/>
<rect x="1084.5" y="341.9" width="1.1" height="13.1" rx="0.5" fill="rgb(202,26,51)" opacity="0.62"/>
<rect x="404.7" y="351.7" width="1.1" height="17.7" rx="0.5" fill="rgb(202,26,51)" opacity="0.66"/>
<rect x="422.2" y="344.1" width="1.1" height="8.0" rx="0.5" fill="rgb(202,26,51)" opacity="0.35"/>
<rect x="313.2" y="342.9" width="1.1" height="21.1" rx="0.5" fill="rgb(202,26,51)" opacity="0.68"/>
<rect x="413.1" y="342.3" width="1.1" height="18.7" rx="0.5" fill="rgb(202,26,51)" opacity="0.49"/>
<rect x="282.2" y="348.1" width="1.1" height="12.6" rx="0.5" fill="rgb(202,26,51)" opacity="0.36"/>
<rect x="270.1" y="346.0" width="1.1" height="21.0" rx="0.5" fill="rgb(202,26,51)" opacity="0.52"/>
<rect x="1030.0" y="342.9" width="1.1" height="24.1" rx="0.5" fill="rgb(202,26,51)" opacity="0.32"/>
<rect x="1051.4" y="345.6" width="1.1" height="8.1" rx="0.5" fill="rgb(202,26,51)" opacity="0.40"/>
<rect x="1143.9" y="352.9" width="1.1" height="20.5" rx="0.5" fill="rgb(202,26,51)" opacity="0.62"/>
<rect x="172.3" y="342.7" width="1.1" height="15.9" rx="0.5" fill="rgb(202,26,51)" opacity="0.66"/>
<rect x="1064.0" y="338.7" width="1.1" height="24.8" rx="0.5" fill="rgb(202,26,51)" opacity="0.52"/>
<rect x="467.3" y="337.1" width="1.1" height="15.3" rx="0.5" fill="rgb(202,26,51)" opacity="0.51"/>
<rect x="1103.3" y="346.9" width="1.1" height="13.2" rx="0.5" fill="rgb(202,26,51)" opacity="0.61"/>
<rect x="407.6" y="345.6" width="1.1" height="9.8" rx="0.5" fill="rgb(202,26,51)" opacity="0.40"/>
<rect x="1152.0" y="350.5" width="1.1" height="16.9" rx="0.5" fill="rgb(202,26,51)" opacity="0.57"/>
<rect x="311.8" y="335.7" width="1.1" height="10.1" rx="0.5" fill="rgb(202,26,51)" opacity="0.46"/>
<rect x="176.1" y="351.9" width="1.1" height="13.7" rx="0.5" fill="rgb(202,26,51)" opacity="0.39"/>
<rect x="1009.0" y="347.1" width="1.1" height="9.2" rx="0.5" fill="rgb(202,26,51)" opacity="0.33"/>
<rect x="1046.5" y="349.5" width="1.1" height="13.0" rx="0.5" fill="rgb(202,26,51)" opacity="0.59"/>
<rect x="1045.1" y="358.4" width="1.1" height="19.3" rx="0.5" fill="rgb(202,26,51)" opacity="0.32"/>
<rect x="587.1" y="355.9" width="1.1" height="18.1" rx="0.5" fill="rgb(202,26,51)" opacity="0.38"/>
<rect x="606.6" y="357.4" width="1.1" height="23.3" rx="0.5" fill="rgb(202,26,51)" opacity="0.50"/>
<rect x="298.6" y="358.7" width="1.1" height="22.7" rx="0.5" fill="rgb(202,26,51)" opacity="0.49"/>
<rect x="1042.3" y="342.4" width="1.1" height="24.7" rx="0.5" fill="rgb(202,26,51)" opacity="0.43"/>
<rect x="1080.2" y="355.9" width="1.1" height="23.9" rx="0.5" fill="rgb(202,26,51)" opacity="0.59"/>
<rect x="442.5" y="351.4" width="1.1" height="23.4" rx="0.5" fill="rgb(202,26,51)" opacity="0.57"/>
<rect x="430.1" y="345.3" width="1.1" height="24.1" rx="0.5" fill="rgb(202,26,51)" opacity="0.54"/>
<rect x="1088.4" y="335.8" width="1.1" height="23.0" rx="0.5" fill="rgb(202,26,51)" opacity="0.34"/>
<rect x="897.3" y="353.8" width="1.1" height="18.5" rx="0.5" fill="rgb(202,26,51)" opacity="0.49"/>
<rect x="880.2" y="345.7" width="1.1" height="11.3" rx="0.5" fill="rgb(202,26,51)" opacity="0.39"/>
<rect x="277.5" y="335.9" width="1.1" height="24.2" rx="0.5" fill="rgb(202,26,51)" opacity="0.68"/>
<rect x="574.0" y="342.0" width="1.1" height="21.3" rx="0.5" fill="rgb(202,26,51)" opacity="0.50"/>
<rect x="166" y="404" width="2.05" height="73.5" fill="url(#bg)" opacity="0.56"/>
<rect x="168" y="404" width="2.05" height="73.5" fill="url(#bg)" opacity="0.57"/>
<rect x="170" y="404" width="2.05" height="73.5" fill="url(#bg)" opacity="0.57"/>
<rect x="172" y="404" width="2.05" height="73.5" fill="url(#bg)" opacity="0.57"/>
<rect x="174" y="404" width="2.05" height="73.5" fill="url(#bg)" opacity="0.58"/>
<rect x="176" y="404" width="2.05" height="73.5" fill="url(#bg)" opacity="0.58"/>
<rect x="178" y="404" width="2.05" height="73.5" fill="url(#bg)" opacity="0.58"/>
<rect x="180" y="404" width="2.05" height="73.5" fill="url(#bg)" opacity="0.59"/>
<rect x="182" y="404" width="2.05" height="73.5" fill="url(#bg)" opacity="0.59"/>
<rect x="184" y="404" width="2.05" height="73.5" fill="url(#bg)" opacity="0.59"/>
<rect x="186" y="404" width="2.05" height="73.5" fill="url(#bg)" opacity="0.60"/>
<rect x="188" y="404" width="2.05" height="73.5" fill="url(#bg)" opacity="0.60"/>
<rect x="190" y="404" width="2.05" height="73.5" fill="url(#bg)" opacity="0.60"/>
<rect x="192" y="404" width="2.05" height="73.5" fill="url(#bg)" opacity="0.60"/>
<rect x="194" y="404" width="2.05" height="73.5" fill="url(#bg)" opacity="0.61"/>
<rect x="196" y="404" width="2.05" height="73.5" fill="url(#bg)" opacity="0.61"/>
<rect x="198" y="404" width="2.05" height="73.5" fill="url(#bg)" opacity="0.61"/>
<rect x="200" y="404" width="2.05" height="73.5" fill="url(#bg)" opacity="0.62"/>
<rect x="202" y="404" width="2.05" height="73.5" fill="url(#bg)" opacity="0.62"/>
<rect x="204" y="404" width="2.05" height="73.5" fill="url(#bg)" opacity="0.62"/>
<rect x="206" y="404" width="2.05" height="73.5" fill="url(#bg)" opacity="0.63"/>
<rect x="208" y="404" width="2.05" height="73.5" fill="url(#bg)" opacity="0.63"/>
<rect x="210" y="404" width="2.05" height="73.5" fill="url(#bg)" opacity="0.63"/>
<rect x="212" y="404" width="2.05" height="73.5" fill="url(#bg)" opacity="0.63"/>
<rect x="214" y="404" width="2.05" height="73.5" fill="url(#bg)" opacity="0.63"/>
<rect x="216" y="404" width="2.05" height="73.5" fill="url(#bg)" opacity="0.64"/>
<rect x="218" y="404" width="2.05" height="73.5" fill="url(#bg)" opacity="0.64"/>
<rect x="220" y="404" width="2.05" height="73.5" fill="url(#bg)" opacity="0.64"/>
<rect x="222" y="404" width="2.05" height="73.5" fill="url(#bg)" opacity="0.64"/>
<rect x="224" y="404" width="2.05" height="73.5" fill="url(#bg)" opacity="0.64"/>
<rect x="226" y="404" width="2.05" height="73.5" fill="url(#bg)" opacity="0.65"/>
<rect x="228" y="404" width="2.05" height="73.5" fill="url(#bg)" opacity="0.65"/>
<rect x="230" y="404" width="2.05" height="73.5" fill="url(#bg)" opacity="0.65"/>
<rect x="232" y="404" width="2.05" height="73.5" fill="url(#bg)" opacity="0.65"/>
<rect x="234" y="404" width="2.05" height="73.5" fill="url(#bg)" opacity="0.65"/>
<rect x="236" y="404" width="2.05" height="73.5" fill="url(#bg)" opacity="0.65"/>
<rect x="238" y="404" width="2.05" height="73.5" fill="url(#bg)" opacity="0.65"/>
<rect x="240" y="404" width="2.05" height="73.5" fill="url(#bg)" opacity="0.65"/>
<rect x="242" y="404" width="2.05" height="73.5" fill="url(#bg)" opacity="0.65"/>
<rect x="244" y="404" width="2.05" height="73.5" fill="url(#bg)" opacity="0.65"/>
<rect x="246" y="404" width="2.05" height="73.5" fill="url(#bg)" opacity="0.65"/>
<rect x="248" y="404" width="2.05" height="73.5" fill="url(#bg)" opacity="0.65"/>
<rect x="250" y="404" width="2.05" height="73.5" fill="url(#bg)" opacity="0.65"/>
<rect x="252" y="404" width="2.05" height="73.5" fill="url(#bg)" opacity="0.65"/>
<rect x="254" y="404" width="2.05" height="73.5" fill="url(#bg)" opacity="0.65"/>
<rect x="256" y="404" width="2.05" height="73.5" fill="url(#bg)" opacity="0.64"/>
<rect x="258" y="404" width="2.05" height="73.5" fill="url(#bg)" opacity="0.64"/>
<rect x="260" y="404" width="2.05" height="73.5" fill="url(#bg)" opacity="0.64"/>
<rect x="262" y="404" width="2.05" height="73.5" fill="url(#bg)" opacity="0.64"/>
<rect x="264" y="404" width="2.05" height="73.5" fill="url(#bg)" opacity="0.64"/>
<rect x="266" y="404" width="2.05" height="73.5" fill="url(#bg)" opacity="0.63"/>
<rect x="268" y="404" width="2.05" height="73.5" fill="url(#bg)" opacity="0.63"/>
<rect x="270" y="404" width="2.05" height="73.5" fill="url(#bg)" opacity="0.63"/>
<rect x="272" y="404" width="2.05" height="73.5" fill="url(#bg)" opacity="0.63"/>
<rect x="274" y="404" width="2.05" height="73.5" fill="url(#bg)" opacity="0.63"/>
<rect x="276" y="404" width="2.05" height="73.5" fill="url(#bg)" opacity="0.62"/>
<rect x="278" y="404" width="2.05" height="73.5" fill="url(#bg)" opacity="0.62"/>
<rect x="280" y="404" width="2.05" height="73.5" fill="url(#bg)" opacity="0.62"/>
<rect x="282" y="404" width="2.05" height="73.5" fill="url(#bg)" opacity="0.61"/>
<rect x="284" y="404" width="2.05" height="73.5" fill="url(#bg)" opacity="0.61"/>
<rect x="286" y="404" width="2.05" height="73.5" fill="url(#bg)" opacity="0.61"/>
<rect x="288" y="404" width="2.05" height="73.5" fill="url(#bg)" opacity="0.60"/>
<rect x="290" y="404" width="2.05" height="73.5" fill="url(#bg)" opacity="0.60"/>
<rect x="292" y="404" width="2.05" height="73.5" fill="url(#bg)" opacity="0.60"/>
<rect x="294" y="404" width="2.05" height="73.5" fill="url(#bg)" opacity="0.60"/>
<rect x="296" y="404" width="2.05" height="73.5" fill="url(#bg)" opacity="0.59"/>
<rect x="298" y="404" width="2.05" height="73.5" fill="url(#bg)" opacity="0.59"/>
<rect x="300" y="404" width="2.05" height="73.5" fill="url(#bg)" opacity="0.59"/>
<rect x="302" y="404" width="2.05" height="73.5" fill="url(#bg)" opacity="0.58"/>
<rect x="304" y="404" width="2.05" height="73.5" fill="url(#bg)" opacity="0.58"/>
<rect x="306" y="404" width="2.05" height="73.5" fill="url(#bg)" opacity="0.58"/>
<rect x="308" y="404" width="2.05" height="73.5" fill="url(#bg)" opacity="0.57"/>
<rect x="310" y="404" width="2.05" height="73.5" fill="url(#bg)" opacity="0.57"/>
<rect x="312" y="404" width="2.05" height="73.5" fill="url(#bg)" opacity="0.57"/>
<rect x="314" y="404" width="2.05" height="73.5" fill="url(#bg)" opacity="0.56"/>
<rect x="316" y="404" width="2.05" height="73.5" fill="url(#bg)" opacity="0.56"/>
<rect x="318" y="404" width="2.05" height="73.5" fill="url(#bg)" opacity="0.56"/>
<rect x="320" y="404" width="2.05" height="73.5" fill="url(#bg)" opacity="0.56"/>
<rect x="322" y="404" width="2.05" height="73.5" fill="url(#bg)" opacity="0.55"/>
<rect x="324" y="404" width="2.05" height="73.5" fill="url(#bg)" opacity="0.55"/>
<rect x="326" y="404" width="2.05" height="73.5" fill="url(#bg)" opacity="0.55"/>
<rect x="328" y="404" width="2.05" height="73.5" fill="url(#bg)" opacity="0.55"/>
<rect x="330" y="404" width="2.05" height="73.5" fill="url(#bg)" opacity="0.54"/>
<rect x="332" y="404" width="2.05" height="73.5" fill="url(#bg)" opacity="0.54"/>
<rect x="334" y="404" width="2.05" height="73.5" fill="url(#bg)" opacity="0.54"/>
<rect x="334" y="330" width="2.05" height="147.5" fill="url(#lg)" opacity="0.03"/>
<rect x="336" y="404" width="2.05" height="73.5" fill="url(#bg)" opacity="0.54"/>
<rect x="336" y="330" width="2.05" height="147.5" fill="url(#lg)" opacity="0.04"/>
<rect x="338" y="404" width="2.05" height="73.5" fill="url(#bg)" opacity="0.53"/>
<rect x="338" y="330" width="2.05" height="147.5" fill="url(#lg)" opacity="0.04"/>
<rect x="340" y="404" width="2.05" height="73.5" fill="url(#bg)" opacity="0.53"/>
<rect x="340" y="330" width="2.05" height="147.5" fill="url(#lg)" opacity="0.04"/>
<rect x="342" y="404" width="2.05" height="73.5" fill="url(#bg)" opacity="0.53"/>
<rect x="342" y="330" width="2.05" height="147.5" fill="url(#lg)" opacity="0.05"/>
<rect x="344" y="404" width="2.05" height="73.5" fill="url(#bg)" opacity="0.53"/>
<rect x="344" y="330" width="2.05" height="147.5" fill="url(#lg)" opacity="0.05"/>
<rect x="346" y="404" width="2.05" height="73.5" fill="url(#bg)" opacity="0.53"/>
<rect x="346" y="330" width="2.05" height="147.5" fill="url(#lg)" opacity="0.05"/>
<rect x="348" y="404" width="2.05" height="73.5" fill="url(#bg)" opacity="0.52"/>
<rect x="348" y="330" width="2.05" height="147.5" fill="url(#lg)" opacity="0.06"/>
<rect x="350" y="404" width="2.05" height="73.5" fill="url(#bg)" opacity="0.52"/>
<rect x="350" y="330" width="2.05" height="147.5" fill="url(#lg)" opacity="0.06"/>
<rect x="352" y="404" width="2.05" height="73.5" fill="url(#bg)" opacity="0.52"/>
<rect x="352" y="330" width="2.05" height="147.5" fill="url(#lg)" opacity="0.07"/>
<rect x="354" y="404" width="2.05" height="73.5" fill="url(#bg)" opacity="0.52"/>
<rect x="354" y="330" width="2.05" height="147.5" fill="url(#lg)" opacity="0.07"/>
<rect x="356" y="404" width="2.05" height="73.5" fill="url(#bg)" opacity="0.52"/>
<rect x="356" y="330" width="2.05" height="147.5" fill="url(#lg)" opacity="0.08"/>
<rect x="358" y="404" width="2.05" height="73.5" fill="url(#bg)" opacity="0.52"/>
<rect x="358" y="330" width="2.05" height="147.5" fill="url(#lg)" opacity="0.09"/>
<rect x="360" y="404" width="2.05" height="73.5" fill="url(#bg)" opacity="0.52"/>
<rect x="360" y="330" width="2.05" height="147.5" fill="url(#lg)" opacity="0.09"/>
<rect x="362" y="404" width="2.05" height="73.5" fill="url(#bg)" opacity="0.52"/>
<rect x="362" y="330" width="2.05" height="147.5" fill="url(#lg)" opacity="0.10"/>
<rect x="364" y="404" width="2.05" height="73.5" fill="url(#bg)" opacity="0.51"/>
<rect x="364" y="330" width="2.05" height="147.5" fill="url(#lg)" opacity="0.10"/>
<rect x="366" y="404" width="2.05" height="73.5" fill="url(#bg)" opacity="0.51"/>
<rect x="366" y="330" width="2.05" height="147.5" fill="url(#lg)" opacity="0.11"/>
<rect x="368" y="404" width="2.05" height="73.5" fill="url(#bg)" opacity="0.51"/>
<rect x="368" y="330" width="2.05" height="147.5" fill="url(#lg)" opacity="0.12"/>
<rect x="370" y="404" width="2.05" height="73.5" fill="url(#bg)" opacity="0.51"/>
<rect x="370" y="330" width="2.05" height="147.5" fill="url(#lg)" opacity="0.12"/>
<rect x="372" y="404" width="2.05" height="73.5" fill="url(#bg)" opacity="0.51"/>
<rect x="372" y="330" width="2.05" height="147.5" fill="url(#lg)" opacity="0.13"/>
<rect x="374" y="404" width="2.05" height="73.5" fill="url(#bg)" opacity="0.51"/>
<rect x="374" y="330" width="2.05" height="147.5" fill="url(#lg)" opacity="0.14"/>
<rect x="376" y="404" width="2.05" height="73.5" fill="url(#bg)" opacity="0.51"/>
<rect x="376" y="330" width="2.05" height="147.5" fill="url(#lg)" opacity="0.15"/>
<rect x="378" y="404" width="2.05" height="73.5" fill="url(#bg)" opacity="0.51"/>
<rect x="378" y="330" width="2.05" height="147.5" fill="url(#lg)" opacity="0.15"/>
<rect x="380" y="404" width="2.05" height="73.5" fill="url(#bg)" opacity="0.51"/>
<rect x="380" y="330" width="2.05" height="147.5" fill="url(#lg)" opacity="0.16"/>
<rect x="382" y="404" width="2.05" height="73.5" fill="url(#bg)" opacity="0.51"/>
<rect x="382" y="330" width="2.05" height="147.5" fill="url(#lg)" opacity="0.17"/>
<rect x="384" y="404" width="2.05" height="73.5" fill="url(#bg)" opacity="0.51"/>
<rect x="384" y="330" width="2.05" height="147.5" fill="url(#lg)" opacity="0.17"/>
<rect x="386" y="404" width="2.05" height="73.5" fill="url(#bg)" opacity="0.51"/>
<rect x="386" y="330" width="2.05" height="147.5" fill="url(#lg)" opacity="0.18"/>
<rect x="388" y="404" width="2.05" height="73.5" fill="url(#bg)" opacity="0.51"/>
<rect x="388" y="330" width="2.05" height="147.5" fill="url(#lg)" opacity="0.19"/>
<rect x="390" y="404" width="2.05" height="73.5" fill="url(#bg)" opacity="0.51"/>
<rect x="390" y="330" width="2.05" height="147.5" fill="url(#lg)" opacity="0.19"/>
<rect x="392" y="404" width="2.05" height="73.5" fill="url(#bg)" opacity="0.51"/>
<rect x="392" y="330" width="2.05" height="147.5" fill="url(#lg)" opacity="0.20"/>
<rect x="394" y="404" width="2.05" height="73.5" fill="url(#bg)" opacity="0.51"/>
<rect x="394" y="330" width="2.05" height="147.5" fill="url(#lg)" opacity="0.21"/>
<rect x="396" y="404" width="2.05" height="73.5" fill="url(#bg)" opacity="0.51"/>
<rect x="396" y="330" width="2.05" height="147.5" fill="url(#lg)" opacity="0.21"/>
<rect x="398" y="404" width="2.05" height="73.5" fill="url(#bg)" opacity="0.51"/>
<rect x="398" y="330" width="2.05" height="147.5" fill="url(#lg)" opacity="0.22"/>
<rect x="400" y="404" width="2.05" height="73.5" fill="url(#bg)" opacity="0.51"/>
<rect x="400" y="330" width="2.05" height="147.5" fill="url(#lg)" opacity="0.22"/>
<rect x="402" y="404" width="2.05" height="73.5" fill="url(#bg)" opacity="0.51"/>
<rect x="402" y="330" width="2.05" height="147.5" fill="url(#lg)" opacity="0.23"/>
<rect x="404" y="404" width="2.05" height="73.5" fill="url(#bg)" opacity="0.51"/>
<rect x="404" y="330" width="2.05" height="147.5" fill="url(#lg)" opacity="0.23"/>
<rect x="406" y="404" width="2.05" height="73.5" fill="url(#bg)" opacity="0.51"/>
<rect x="406" y="330" width="2.05" height="147.5" fill="url(#lg)" opacity="0.24"/>
<rect x="408" y="404" width="2.05" height="73.5" fill="url(#bg)" opacity="0.51"/>
<rect x="408" y="330" width="2.05" height="147.5" fill="url(#lg)" opacity="0.24"/>
<rect x="410" y="404" width="2.05" height="73.5" fill="url(#bg)" opacity="0.51"/>
<rect x="410" y="330" width="2.05" height="147.5" fill="url(#lg)" opacity="0.24"/>
<rect x="412" y="404" width="2.05" height="73.5" fill="url(#bg)" opacity="0.51"/>
<rect x="412" y="330" width="2.05" height="147.5" fill="url(#lg)" opacity="0.25"/>
<rect x="414" y="404" width="2.05" height="73.5" fill="url(#bg)" opacity="0.51"/>
<rect x="414" y="330" width="2.05" height="147.5" fill="url(#lg)" opacity="0.25"/>
<rect x="416" y="404" width="2.05" height="73.5" fill="url(#bg)" opacity="0.51"/>
<rect x="416" y="330" width="2.05" height="147.5" fill="url(#lg)" opacity="0.25"/>
<rect x="418" y="404" width="2.05" height="73.5" fill="url(#bg)" opacity="0.51"/>
<rect x="418" y="330" width="2.05" height="147.5" fill="url(#lg)" opacity="0.25"/>
<rect x="420" y="404" width="2.05" height="73.5" fill="url(#bg)" opacity="0.51"/>
<rect x="420" y="330" width="2.05" height="147.5" fill="url(#lg)" opacity="0.25"/>
<rect x="422" y="404" width="2.05" height="73.5" fill="url(#bg)" opacity="0.51"/>
<rect x="422" y="330" width="2.05" height="147.5" fill="url(#lg)" opacity="0.25"/>
<rect x="424" y="404" width="2.05" height="73.5" fill="url(#bg)" opacity="0.51"/>
<rect x="424" y="330" width="2.05" height="147.5" fill="url(#lg)" opacity="0.25"/>
<rect x="426" y="404" width="2.05" height="73.5" fill="url(#bg)" opacity="0.51"/>
<rect x="426" y="330" width="2.05" height="147.5" fill="url(#lg)" opacity="0.25"/>
<rect x="428" y="404" width="2.05" height="73.5" fill="url(#bg)" opacity="0.51"/>
<rect x="428" y="330" width="2.05" height="147.5" fill="url(#lg)" opacity="0.25"/>
<rect x="430" y="404" width="2.05" height="73.5" fill="url(#bg)" opacity="0.51"/>
<rect x="430" y="330" width="2.05" height="147.5" fill="url(#lg)" opacity="0.24"/>
<rect x="432" y="404" width="2.05" height="73.5" fill="url(#bg)" opacity="0.51"/>
<rect x="432" y="330" width="2.05" height="147.5" fill="url(#lg)" opacity="0.24"/>
<rect x="434" y="404" width="2.05" height="73.5" fill="url(#bg)" opacity="0.52"/>
<rect x="434" y="330" width="2.05" height="147.5" fill="url(#lg)" opacity="0.24"/>
<rect x="436" y="404" width="2.05" height="73.5" fill="url(#bg)" opacity="0.52"/>
<rect x="436" y="330" width="2.05" height="147.5" fill="url(#lg)" opacity="0.23"/>
<rect x="438" y="404" width="2.05" height="73.5" fill="url(#bg)" opacity="0.52"/>
<rect x="438" y="330" width="2.05" height="147.5" fill="url(#lg)" opacity="0.23"/>
<rect x="440" y="404" width="2.05" height="73.5" fill="url(#bg)" opacity="0.52"/>
<rect x="440" y="330" width="2.05" height="147.5" fill="url(#lg)" opacity="0.22"/>
<rect x="442" y="404" width="2.05" height="73.5" fill="url(#bg)" opacity="0.52"/>
<rect x="442" y="330" width="2.05" height="147.5" fill="url(#lg)" opacity="0.22"/>
<rect x="444" y="404" width="2.05" height="73.5" fill="url(#bg)" opacity="0.52"/>
<rect x="444" y="330" width="2.05" height="147.5" fill="url(#lg)" opacity="0.21"/>
<rect x="446" y="404" width="2.05" height="73.5" fill="url(#bg)" opacity="0.52"/>
<rect x="446" y="330" width="2.05" height="147.5" fill="url(#lg)" opacity="0.21"/>
<rect x="448" y="404" width="2.05" height="73.5" fill="url(#bg)" opacity="0.52"/>
<rect x="448" y="330" width="2.05" height="147.5" fill="url(#lg)" opacity="0.20"/>
<rect x="450" y="404" width="2.05" height="73.5" fill="url(#bg)" opacity="0.52"/>
<rect x="450" y="330" width="2.05" height="147.5" fill="url(#lg)" opacity="0.19"/>
<rect x="452" y="404" width="2.05" height="73.5" fill="url(#bg)" opacity="0.53"/>
<rect x="452" y="330" width="2.05" height="147.5" fill="url(#lg)" opacity="0.19"/>
<rect x="454" y="404" width="2.05" height="73.5" fill="url(#bg)" opacity="0.53"/>
<rect x="454" y="330" width="2.05" height="147.5" fill="url(#lg)" opacity="0.18"/>
<rect x="456" y="404" width="2.05" height="73.5" fill="url(#bg)" opacity="0.53"/>
<rect x="456" y="330" width="2.05" height="147.5" fill="url(#lg)" opacity="0.17"/>
<rect x="458" y="404" width="2.05" height="73.5" fill="url(#bg)" opacity="0.53"/>
<rect x="458" y="330" width="2.05" height="147.5" fill="url(#lg)" opacity="0.17"/>
<rect x="460" y="404" width="2.05" height="73.5" fill="url(#bg)" opacity="0.53"/>
<rect x="460" y="330" width="2.05" height="147.5" fill="url(#lg)" opacity="0.16"/>
<rect x="462" y="404" width="2.05" height="73.5" fill="url(#bg)" opacity="0.53"/>
<rect x="462" y="330" width="2.05" height="147.5" fill="url(#lg)" opacity="0.15"/>
<rect x="464" y="404" width="2.05" height="73.5" fill="url(#bg)" opacity="0.53"/>
<rect x="464" y="330" width="2.05" height="147.5" fill="url(#lg)" opacity="0.15"/>
<rect x="466" y="404" width="2.05" height="73.5" fill="url(#bg)" opacity="0.54"/>
<rect x="466" y="330" width="2.05" height="147.5" fill="url(#lg)" opacity="0.14"/>
<rect x="468" y="404" width="2.05" height="73.5" fill="url(#bg)" opacity="0.54"/>
<rect x="468" y="330" width="2.05" height="147.5" fill="url(#lg)" opacity="0.13"/>
<rect x="470" y="404" width="2.05" height="73.5" fill="url(#bg)" opacity="0.54"/>
<rect x="470" y="330" width="2.05" height="147.5" fill="url(#lg)" opacity="0.12"/>
<rect x="472" y="404" width="2.05" height="73.5" fill="url(#bg)" opacity="0.54"/>
<rect x="472" y="330" width="2.05" height="147.5" fill="url(#lg)" opacity="0.12"/>
<rect x="474" y="404" width="2.05" height="73.5" fill="url(#bg)" opacity="0.54"/>
<rect x="474" y="330" width="2.05" height="147.5" fill="url(#lg)" opacity="0.11"/>
<rect x="476" y="404" width="2.05" height="73.5" fill="url(#bg)" opacity="0.55"/>
<rect x="476" y="330" width="2.05" height="147.5" fill="url(#lg)" opacity="0.10"/>
<rect x="478" y="404" width="2.05" height="73.5" fill="url(#bg)" opacity="0.55"/>
<rect x="478" y="330" width="2.05" height="147.5" fill="url(#lg)" opacity="0.10"/>
<rect x="480" y="404" width="2.05" height="73.5" fill="url(#bg)" opacity="0.55"/>
<rect x="480" y="330" width="2.05" height="147.5" fill="url(#lg)" opacity="0.09"/>
<rect x="482" y="404" width="2.05" height="73.5" fill="url(#bg)" opacity="0.55"/>
<rect x="482" y="330" width="2.05" height="147.5" fill="url(#lg)" opacity="0.09"/>
<rect x="484" y="404" width="2.05" height="73.5" fill="url(#bg)" opacity="0.56"/>
<rect x="484" y="330" width="2.05" height="147.5" fill="url(#lg)" opacity="0.08"/>
<rect x="486" y="404" width="2.05" height="73.5" fill="url(#bg)" opacity="0.56"/>
<rect x="486" y="330" width="2.05" height="147.5" fill="url(#lg)" opacity="0.07"/>
<rect x="488" y="404" width="2.05" height="73.5" fill="url(#bg)" opacity="0.56"/>
<rect x="488" y="330" width="2.05" height="147.5" fill="url(#lg)" opacity="0.07"/>
<rect x="490" y="404" width="2.05" height="73.5" fill="url(#bg)" opacity="0.56"/>
<rect x="490" y="330" width="2.05" height="147.5" fill="url(#lg)" opacity="0.06"/>
<rect x="492" y="404" width="2.05" height="73.5" fill="url(#bg)" opacity="0.57"/>
<rect x="492" y="330" width="2.05" height="147.5" fill="url(#lg)" opacity="0.06"/>
<rect x="494" y="404" width="2.05" height="73.5" fill="url(#bg)" opacity="0.57"/>
<rect x="494" y="330" width="2.05" height="147.5" fill="url(#lg)" opacity="0.05"/>
<rect x="496" y="404" width="2.05" height="73.5" fill="url(#bg)" opacity="0.57"/>
<rect x="496" y="330" width="2.05" height="147.5" fill="url(#lg)" opacity="0.05"/>
<rect x="498" y="404" width="2.05" height="73.5" fill="url(#bg)" opacity="0.58"/>
<rect x="498" y="330" width="2.05" height="147.5" fill="url(#lg)" opacity="0.05"/>
<rect x="500" y="404" width="2.05" height="73.5" fill="url(#bg)" opacity="0.58"/>
<rect x="500" y="330" width="2.05" height="147.5" fill="url(#lg)" opacity="0.04"/>
<rect x="502" y="404" width="2.05" height="73.5" fill="url(#bg)" opacity="0.58"/>
<rect x="502" y="330" width="2.05" height="147.5" fill="url(#lg)" opacity="0.04"/>
<rect x="504" y="404" width="2.05" height="73.5" fill="url(#bg)" opacity="0.59"/>
<rect x="504" y="330" width="2.05" height="147.5" fill="url(#lg)" opacity="0.04"/>
<rect x="506" y="404" width="2.05" height="73.5" fill="url(#bg)" opacity="0.59"/>
<rect x="506" y="330" width="2.05" height="147.5" fill="url(#lg)" opacity="0.03"/>
<rect x="508" y="404" width="2.05" height="73.5" fill="url(#bg)" opacity="0.59"/>
<rect x="510" y="404" width="2.05" height="73.5" fill="url(#bg)" opacity="0.60"/>
<rect x="512" y="404" width="2.05" height="73.5" fill="url(#bg)" opacity="0.60"/>
<rect x="514" y="404" width="2.05" height="73.5" fill="url(#bg)" opacity="0.61"/>
<rect x="516" y="404" width="2.05" height="73.5" fill="url(#bg)" opacity="0.61"/>
<rect x="518" y="404" width="2.05" height="73.5" fill="url(#bg)" opacity="0.61"/>
<rect x="520" y="404" width="2.05" height="73.5" fill="url(#bg)" opacity="0.62"/>
<rect x="522" y="404" width="2.05" height="73.5" fill="url(#bg)" opacity="0.62"/>
<rect x="524" y="404" width="2.05" height="73.5" fill="url(#bg)" opacity="0.63"/>
<rect x="526" y="404" width="2.05" height="73.5" fill="url(#bg)" opacity="0.63"/>
<rect x="528" y="404" width="2.05" height="73.5" fill="url(#bg)" opacity="0.64"/>
<rect x="530" y="404" width="2.05" height="73.5" fill="url(#bg)" opacity="0.64"/>
<rect x="532" y="404" width="2.05" height="73.5" fill="url(#bg)" opacity="0.64"/>
<rect x="534" y="404" width="2.05" height="73.5" fill="url(#bg)" opacity="0.65"/>
<rect x="536" y="404" width="2.05" height="73.5" fill="url(#bg)" opacity="0.65"/>
<rect x="538" y="404" width="2.05" height="73.5" fill="url(#bg)" opacity="0.66"/>
<rect x="540" y="404" width="2.05" height="73.5" fill="url(#bg)" opacity="0.66"/>
<rect x="542" y="404" width="2.05" height="73.5" fill="url(#bg)" opacity="0.67"/>
<rect x="544" y="404" width="2.05" height="73.5" fill="url(#bg)" opacity="0.67"/>
<rect x="546" y="404" width="2.05" height="73.5" fill="url(#bg)" opacity="0.68"/>
<rect x="548" y="404" width="2.05" height="73.5" fill="url(#bg)" opacity="0.68"/>
<rect x="550" y="404" width="2.05" height="73.5" fill="url(#bg)" opacity="0.69"/>
<rect x="552" y="404" width="2.05" height="73.5" fill="url(#bg)" opacity="0.69"/>
<rect x="554" y="404" width="2.05" height="73.5" fill="url(#bg)" opacity="0.70"/>
<rect x="556" y="404" width="2.05" height="73.5" fill="url(#bg)" opacity="0.71"/>
<rect x="558" y="404" width="2.05" height="73.5" fill="url(#bg)" opacity="0.71"/>
<rect x="560" y="404" width="2.05" height="73.5" fill="url(#bg)" opacity="0.72"/>
<rect x="562" y="404" width="2.05" height="73.5" fill="url(#bg)" opacity="0.72"/>
<rect x="564" y="404" width="2.05" height="73.5" fill="url(#bg)" opacity="0.73"/>
<rect x="566" y="404" width="2.05" height="73.5" fill="url(#bg)" opacity="0.73"/>
<rect x="568" y="404" width="2.05" height="73.5" fill="url(#bg)" opacity="0.74"/>
<rect x="570" y="404" width="2.05" height="73.5" fill="url(#bg)" opacity="0.74"/>
<rect x="572" y="404" width="2.05" height="73.5" fill="url(#bg)" opacity="0.75"/>
<rect x="574" y="404" width="2.05" height="73.5" fill="url(#bg)" opacity="0.75"/>
<rect x="576" y="404" width="2.05" height="73.5" fill="url(#bg)" opacity="0.76"/>
<rect x="578" y="404" width="2.05" height="73.5" fill="url(#bg)" opacity="0.76"/>
<rect x="580" y="404" width="2.05" height="73.5" fill="url(#bg)" opacity="0.77"/>
<rect x="582" y="404" width="2.05" height="73.5" fill="url(#bg)" opacity="0.78"/>
<rect x="584" y="404" width="2.05" height="73.5" fill="url(#bg)" opacity="0.78"/>
<rect x="586" y="404" width="2.05" height="73.5" fill="url(#bg)" opacity="0.79"/>
<rect x="588" y="404" width="2.05" height="73.5" fill="url(#bg)" opacity="0.79"/>
<rect x="590" y="404" width="2.05" height="73.5" fill="url(#bg)" opacity="0.80"/>
<rect x="592" y="404" width="2.05" height="73.5" fill="url(#bg)" opacity="0.80"/>
<rect x="594" y="404" width="2.05" height="73.5" fill="url(#bg)" opacity="0.81"/>
<rect x="596" y="404" width="2.05" height="73.5" fill="url(#bg)" opacity="0.81"/>
<rect x="598" y="404" width="2.05" height="73.5" fill="url(#bg)" opacity="0.81"/>
<rect x="600" y="404" width="2.05" height="73.5" fill="url(#bg)" opacity="0.82"/>
<rect x="602" y="404" width="2.05" height="73.5" fill="url(#bg)" opacity="0.82"/>
<rect x="604" y="404" width="2.05" height="73.5" fill="url(#bg)" opacity="0.83"/>
<rect x="606" y="404" width="2.05" height="73.5" fill="url(#bg)" opacity="0.83"/>
<rect x="608" y="404" width="2.05" height="73.5" fill="url(#bg)" opacity="0.84"/>
<rect x="610" y="404" width="2.05" height="73.5" fill="url(#bg)" opacity="0.84"/>
<rect x="612" y="404" width="2.05" height="73.5" fill="url(#bg)" opacity="0.84"/>
<rect x="614" y="404" width="2.05" height="73.5" fill="url(#bg)" opacity="0.85"/>
<rect x="616" y="404" width="2.05" height="73.5" fill="url(#bg)" opacity="0.85"/>
<rect x="618" y="404" width="2.05" height="73.5" fill="url(#bg)" opacity="0.85"/>
<rect x="620" y="404" width="2.05" height="73.5" fill="url(#bg)" opacity="0.86"/>
<rect x="622" y="404" width="2.05" height="73.5" fill="url(#bg)" opacity="0.86"/>
<rect x="624" y="404" width="2.05" height="73.5" fill="url(#bg)" opacity="0.86"/>
<rect x="626" y="404" width="2.05" height="73.5" fill="url(#bg)" opacity="0.86"/>
<rect x="628" y="404" width="2.05" height="73.5" fill="url(#bg)" opacity="0.87"/>
<rect x="630" y="404" width="2.05" height="73.5" fill="url(#bg)" opacity="0.87"/>
<rect x="632" y="404" width="2.05" height="73.5" fill="url(#bg)" opacity="0.87"/>
<rect x="634" y="404" width="2.05" height="73.5" fill="url(#bg)" opacity="0.87"/>
<rect x="636" y="404" width="2.05" height="73.5" fill="url(#bg)" opacity="0.87"/>
<rect x="638" y="404" width="2.05" height="73.5" fill="url(#bg)" opacity="0.87"/>
<rect x="640" y="404" width="2.05" height="73.5" fill="url(#bg)" opacity="0.88"/>
<rect x="642" y="404" width="2.05" height="73.5" fill="url(#bg)" opacity="0.88"/>
<rect x="644" y="404" width="2.05" height="73.5" fill="url(#bg)" opacity="0.88"/>
<rect x="646" y="404" width="2.05" height="73.5" fill="url(#bg)" opacity="0.88"/>
<rect x="648" y="404" width="2.05" height="73.5" fill="url(#bg)" opacity="0.88"/>
<rect x="650" y="404" width="2.05" height="73.5" fill="url(#bg)" opacity="0.88"/>
<rect x="652" y="404" width="2.05" height="73.5" fill="url(#bg)" opacity="0.88"/>
<rect x="654" y="404" width="2.05" height="73.5" fill="url(#bg)" opacity="0.88"/>
<rect x="656" y="404" width="2.05" height="73.5" fill="url(#bg)" opacity="0.88"/>
<rect x="658" y="404" width="2.05" height="73.5" fill="url(#bg)" opacity="0.88"/>
<rect x="660" y="404" width="2.05" height="73.5" fill="url(#bg)" opacity="0.87"/>
<rect x="662" y="404" width="2.05" height="73.5" fill="url(#bg)" opacity="0.87"/>
<rect x="664" y="404" width="2.05" height="73.5" fill="url(#bg)" opacity="0.87"/>
<rect x="666" y="404" width="2.05" height="73.5" fill="url(#bg)" opacity="0.87"/>
<rect x="668" y="404" width="2.05" height="73.5" fill="url(#bg)" opacity="0.87"/>
<rect x="670" y="404" width="2.05" height="73.5" fill="url(#bg)" opacity="0.87"/>
<rect x="672" y="404" width="2.05" height="73.5" fill="url(#bg)" opacity="0.86"/>
<rect x="674" y="404" width="2.05" height="73.5" fill="url(#bg)" opacity="0.86"/>
<rect x="676" y="404" width="2.05" height="73.5" fill="url(#bg)" opacity="0.86"/>
<rect x="678" y="404" width="2.05" height="73.5" fill="url(#bg)" opacity="0.86"/>
<rect x="680" y="404" width="2.05" height="73.5" fill="url(#bg)" opacity="0.85"/>
<rect x="682" y="404" width="2.05" height="73.5" fill="url(#bg)" opacity="0.85"/>
<rect x="684" y="404" width="2.05" height="73.5" fill="url(#bg)" opacity="0.85"/>
<rect x="686" y="404" width="2.05" height="73.5" fill="url(#bg)" opacity="0.84"/>
<rect x="688" y="404" width="2.05" height="73.5" fill="url(#bg)" opacity="0.84"/>
<rect x="690" y="404" width="2.05" height="73.5" fill="url(#bg)" opacity="0.83"/>
<rect x="692" y="404" width="2.05" height="73.5" fill="url(#bg)" opacity="0.83"/>
<rect x="694" y="404" width="2.05" height="73.5" fill="url(#bg)" opacity="0.83"/>
<rect x="696" y="404" width="2.05" height="73.5" fill="url(#bg)" opacity="0.82"/>
<rect x="698" y="404" width="2.05" height="73.5" fill="url(#bg)" opacity="0.82"/>
<rect x="700" y="404" width="2.05" height="73.5" fill="url(#bg)" opacity="0.81"/>
<rect x="702" y="404" width="2.05" height="73.5" fill="url(#bg)" opacity="0.81"/>
<rect x="704" y="404" width="2.05" height="73.5" fill="url(#bg)" opacity="0.80"/>
<rect x="706" y="404" width="2.05" height="73.5" fill="url(#bg)" opacity="0.80"/>
<rect x="708" y="404" width="2.05" height="73.5" fill="url(#bg)" opacity="0.79"/>
<rect x="710" y="404" width="2.05" height="73.5" fill="url(#bg)" opacity="0.79"/>
<rect x="712" y="404" width="2.05" height="73.5" fill="url(#bg)" opacity="0.78"/>
<rect x="714" y="404" width="2.05" height="73.5" fill="url(#bg)" opacity="0.78"/>
<rect x="716" y="404" width="2.05" height="73.5" fill="url(#bg)" opacity="0.77"/>
<rect x="718" y="404" width="2.05" height="73.5" fill="url(#bg)" opacity="0.76"/>
<rect x="720" y="404" width="2.05" height="73.5" fill="url(#bg)" opacity="0.76"/>
<rect x="722" y="404" width="2.05" height="73.5" fill="url(#bg)" opacity="0.75"/>
<rect x="724" y="404" width="2.05" height="73.5" fill="url(#bg)" opacity="0.75"/>
<rect x="726" y="404" width="2.05" height="73.5" fill="url(#bg)" opacity="0.74"/>
<rect x="728" y="404" width="2.05" height="73.5" fill="url(#bg)" opacity="0.74"/>
<rect x="730" y="404" width="2.05" height="73.5" fill="url(#bg)" opacity="0.73"/>
<rect x="732" y="404" width="2.05" height="73.5" fill="url(#bg)" opacity="0.72"/>
<rect x="734" y="404" width="2.05" height="73.5" fill="url(#bg)" opacity="0.72"/>
<rect x="736" y="404" width="2.05" height="73.5" fill="url(#bg)" opacity="0.71"/>
<rect x="738" y="404" width="2.05" height="73.5" fill="url(#bg)" opacity="0.70"/>
<rect x="740" y="404" width="2.05" height="73.5" fill="url(#bg)" opacity="0.70"/>
<rect x="742" y="404" width="2.05" height="73.5" fill="url(#bg)" opacity="0.69"/>
<rect x="744" y="404" width="2.05" height="73.5" fill="url(#bg)" opacity="0.69"/>
<rect x="746" y="404" width="2.05" height="73.5" fill="url(#bg)" opacity="0.68"/>
<rect x="748" y="404" width="2.05" height="73.5" fill="url(#bg)" opacity="0.67"/>
<rect x="750" y="404" width="2.05" height="73.5" fill="url(#bg)" opacity="0.67"/>
<rect x="752" y="404" width="2.05" height="73.5" fill="url(#bg)" opacity="0.66"/>
<rect x="754" y="404" width="2.05" height="73.5" fill="url(#bg)" opacity="0.65"/>
<rect x="756" y="404" width="2.05" height="73.5" fill="url(#bg)" opacity="0.65"/>
<rect x="758" y="404" width="2.05" height="73.5" fill="url(#bg)" opacity="0.64"/>
<rect x="760" y="404" width="2.05" height="73.5" fill="url(#bg)" opacity="0.63"/>
<rect x="762" y="404" width="2.05" height="73.5" fill="url(#bg)" opacity="0.63"/>
<rect x="764" y="404" width="2.05" height="73.5" fill="url(#bg)" opacity="0.62"/>
<rect x="766" y="404" width="2.05" height="73.5" fill="url(#bg)" opacity="0.61"/>
<rect x="768" y="404" width="2.05" height="73.5" fill="url(#bg)" opacity="0.61"/>
<rect x="770" y="404" width="2.05" height="73.5" fill="url(#bg)" opacity="0.60"/>
<rect x="772" y="404" width="2.05" height="73.5" fill="url(#bg)" opacity="0.60"/>
<rect x="774" y="404" width="2.05" height="73.5" fill="url(#bg)" opacity="0.59"/>
<rect x="776" y="404" width="2.05" height="73.5" fill="url(#bg)" opacity="0.58"/>
<rect x="778" y="404" width="2.05" height="73.5" fill="url(#bg)" opacity="0.58"/>
<rect x="780" y="404" width="2.05" height="73.5" fill="url(#bg)" opacity="0.57"/>
<rect x="782" y="404" width="2.05" height="73.5" fill="url(#bg)" opacity="0.56"/>
<rect x="784" y="404" width="2.05" height="73.5" fill="url(#bg)" opacity="0.56"/>
<rect x="786" y="404" width="2.05" height="73.5" fill="url(#bg)" opacity="0.55"/>
<rect x="788" y="404" width="2.05" height="73.5" fill="url(#bg)" opacity="0.54"/>
<rect x="790" y="404" width="2.05" height="73.5" fill="url(#bg)" opacity="0.54"/>
<rect x="792" y="404" width="2.05" height="73.5" fill="url(#bg)" opacity="0.53"/>
<rect x="794" y="404" width="2.05" height="73.5" fill="url(#bg)" opacity="0.52"/>
<rect x="796" y="404" width="2.05" height="73.5" fill="url(#bg)" opacity="0.52"/>
<rect x="798" y="404" width="2.05" height="73.5" fill="url(#bg)" opacity="0.51"/>
<rect x="800" y="404" width="2.05" height="73.5" fill="url(#bg)" opacity="0.51"/>
<rect x="802" y="404" width="2.05" height="73.5" fill="url(#bg)" opacity="0.50"/>
<rect x="804" y="404" width="2.05" height="73.5" fill="url(#bg)" opacity="0.49"/>
<rect x="806" y="404" width="2.05" height="73.5" fill="url(#bg)" opacity="0.49"/>
<rect x="808" y="404" width="2.05" height="73.5" fill="url(#bg)" opacity="0.48"/>
<rect x="810" y="404" width="2.05" height="73.5" fill="url(#bg)" opacity="0.47"/>
<rect x="812" y="404" width="2.05" height="73.5" fill="url(#bg)" opacity="0.47"/>
<rect x="814" y="404" width="2.05" height="73.5" fill="url(#bg)" opacity="0.46"/>
<rect x="816" y="404" width="2.05" height="73.5" fill="url(#bg)" opacity="0.45"/>
<rect x="818" y="404" width="2.05" height="73.5" fill="url(#bg)" opacity="0.45"/>
<rect x="820" y="404" width="2.05" height="73.5" fill="url(#bg)" opacity="0.44"/>
<rect x="822" y="404" width="2.05" height="73.5" fill="url(#bg)" opacity="0.43"/>
<rect x="824" y="404" width="2.05" height="73.5" fill="url(#bg)" opacity="0.43"/>
<rect x="826" y="404" width="2.05" height="73.5" fill="url(#bg)" opacity="0.42"/>
<rect x="828" y="404" width="2.05" height="73.5" fill="url(#bg)" opacity="0.41"/>
<rect x="830" y="404" width="2.05" height="73.5" fill="url(#bg)" opacity="0.41"/>
<rect x="832" y="404" width="2.05" height="73.5" fill="url(#bg)" opacity="0.40"/>
<rect x="834" y="404" width="2.05" height="73.5" fill="url(#bg)" opacity="0.39"/>
<rect x="836" y="404" width="2.05" height="73.5" fill="url(#bg)" opacity="0.38"/>
<rect x="838" y="404" width="2.05" height="73.5" fill="url(#bg)" opacity="0.38"/>
<rect x="840" y="404" width="2.05" height="73.5" fill="url(#bg)" opacity="0.37"/>
<rect x="842" y="404" width="2.05" height="73.5" fill="url(#bg)" opacity="0.36"/>
<rect x="844" y="404" width="2.05" height="73.5" fill="url(#bg)" opacity="0.36"/>
<rect x="846" y="404" width="2.05" height="73.5" fill="url(#bg)" opacity="0.35"/>
<rect x="848" y="404" width="2.05" height="73.5" fill="url(#bg)" opacity="0.34"/>
<rect x="850" y="404" width="2.05" height="73.5" fill="url(#bg)" opacity="0.33"/>
<rect x="852" y="404" width="2.05" height="73.5" fill="url(#bg)" opacity="0.33"/>
<rect x="854" y="404" width="2.05" height="73.5" fill="url(#bg)" opacity="0.32"/>
<rect x="856" y="404" width="2.05" height="73.5" fill="url(#bg)" opacity="0.31"/>
<rect x="858" y="404" width="2.05" height="73.5" fill="url(#bg)" opacity="0.31"/>
<rect x="860" y="404" width="2.05" height="73.5" fill="url(#bg)" opacity="0.30"/>
<rect x="862" y="404" width="2.05" height="73.5" fill="url(#bg)" opacity="0.29"/>
<rect x="864" y="404" width="2.05" height="73.5" fill="url(#bg)" opacity="0.28"/>
<rect x="866" y="404" width="2.05" height="73.5" fill="url(#bg)" opacity="0.28"/>
<rect x="868" y="404" width="2.05" height="73.5" fill="url(#bg)" opacity="0.27"/>
<rect x="870" y="404" width="2.05" height="73.5" fill="url(#bg)" opacity="0.26"/>
<rect x="872" y="404" width="2.05" height="73.5" fill="url(#bg)" opacity="0.26"/>
<rect x="874" y="404" width="2.05" height="73.5" fill="url(#bg)" opacity="0.25"/>
<rect x="876" y="404" width="2.05" height="73.5" fill="url(#bg)" opacity="0.24"/>
<rect x="878" y="404" width="2.05" height="73.5" fill="url(#bg)" opacity="0.24"/>
<rect x="880" y="404" width="2.05" height="73.5" fill="url(#bg)" opacity="0.23"/>
<rect x="882" y="404" width="2.05" height="73.5" fill="url(#bg)" opacity="0.22"/>
<rect x="884" y="404" width="2.05" height="73.5" fill="url(#bg)" opacity="0.22"/>
<rect x="886" y="404" width="2.05" height="73.5" fill="url(#bg)" opacity="0.21"/>
<rect x="888" y="404" width="2.05" height="73.5" fill="url(#bg)" opacity="0.20"/>
<rect x="890" y="404" width="2.05" height="73.5" fill="url(#bg)" opacity="0.20"/>
<rect x="892" y="404" width="2.05" height="73.5" fill="url(#bg)" opacity="0.19"/>
<rect x="894" y="404" width="2.05" height="73.5" fill="url(#bg)" opacity="0.18"/>
<rect x="896" y="404" width="2.05" height="73.5" fill="url(#bg)" opacity="0.18"/>
<rect x="898" y="404" width="2.05" height="73.5" fill="url(#bg)" opacity="0.17"/>
<rect x="900" y="404" width="2.05" height="73.5" fill="url(#bg)" opacity="0.17"/>
<rect x="902" y="404" width="2.05" height="73.5" fill="url(#bg)" opacity="0.16"/>
<rect x="904" y="404" width="2.05" height="73.5" fill="url(#bg)" opacity="0.15"/>
<rect x="906" y="404" width="2.05" height="73.5" fill="url(#bg)" opacity="0.15"/>
<rect x="908" y="404" width="2.05" height="73.5" fill="url(#bg)" opacity="0.14"/>
<rect x="910" y="404" width="2.05" height="73.5" fill="url(#bg)" opacity="0.14"/>
<rect x="912" y="404" width="2.05" height="73.5" fill="url(#bg)" opacity="0.13"/>
<rect x="914" y="404" width="2.05" height="73.5" fill="url(#bg)" opacity="0.13"/>
<rect x="916" y="404" width="2.05" height="73.5" fill="url(#bg)" opacity="0.12"/>
<rect x="918" y="404" width="2.05" height="73.5" fill="url(#bg)" opacity="0.12"/>
<rect x="920" y="404" width="2.05" height="73.5" fill="url(#bg)" opacity="0.11"/>
<rect x="922" y="404" width="2.05" height="73.5" fill="url(#bg)" opacity="0.11"/>
<rect x="924" y="404" width="2.05" height="73.5" fill="url(#bg)" opacity="0.11"/>
<rect x="926" y="404" width="2.05" height="73.5" fill="url(#bg)" opacity="0.10"/>
<rect x="928" y="404" width="2.05" height="73.5" fill="url(#bg)" opacity="0.10"/>
<rect x="930" y="404" width="2.05" height="73.5" fill="url(#bg)" opacity="0.09"/>
<rect x="932" y="404" width="2.05" height="73.5" fill="url(#bg)" opacity="0.09"/>
<rect x="934" y="404" width="2.05" height="73.5" fill="url(#bg)" opacity="0.09"/>
<rect x="936" y="404" width="2.05" height="73.5" fill="url(#bg)" opacity="0.08"/>
<rect x="938" y="404" width="2.05" height="73.5" fill="url(#bg)" opacity="0.08"/>
<rect x="940" y="404" width="2.05" height="73.5" fill="url(#bg)" opacity="0.08"/>
<rect x="942" y="404" width="2.05" height="73.5" fill="url(#bg)" opacity="0.07"/>
<rect x="944" y="404" width="2.05" height="73.5" fill="url(#bg)" opacity="0.07"/>
<rect x="946" y="404" width="2.05" height="73.5" fill="url(#bg)" opacity="0.07"/>
<rect x="948" y="404" width="2.05" height="73.5" fill="url(#bg)" opacity="0.06"/>
<rect x="950" y="404" width="2.05" height="73.5" fill="url(#bg)" opacity="0.06"/>
<rect x="952" y="404" width="2.05" height="73.5" fill="url(#bg)" opacity="0.06"/>
<rect x="954" y="404" width="2.05" height="73.5" fill="url(#bg)" opacity="0.06"/>
<rect x="956" y="404" width="2.05" height="73.5" fill="url(#bg)" opacity="0.05"/>
<rect x="958" y="404" width="2.05" height="73.5" fill="url(#bg)" opacity="0.05"/>
<rect x="960" y="404" width="2.05" height="73.5" fill="url(#bg)" opacity="0.05"/>
<rect x="962" y="404" width="2.05" height="73.5" fill="url(#bg)" opacity="0.05"/>
<rect x="962" y="330" width="2.05" height="147.5" fill="url(#lg)" opacity="0.03"/>
<rect x="964" y="404" width="2.05" height="73.5" fill="url(#bg)" opacity="0.04"/>
<rect x="964" y="330" width="2.05" height="147.5" fill="url(#lg)" opacity="0.04"/>
<rect x="966" y="404" width="2.05" height="73.5" fill="url(#bg)" opacity="0.04"/>
<rect x="966" y="330" width="2.05" height="147.5" fill="url(#lg)" opacity="0.04"/>
<rect x="968" y="404" width="2.05" height="73.5" fill="url(#bg)" opacity="0.04"/>
<rect x="968" y="330" width="2.05" height="147.5" fill="url(#lg)" opacity="0.05"/>
<rect x="970" y="404" width="2.05" height="73.5" fill="url(#bg)" opacity="0.04"/>
<rect x="970" y="330" width="2.05" height="147.5" fill="url(#lg)" opacity="0.06"/>
<rect x="972" y="404" width="2.05" height="73.5" fill="url(#bg)" opacity="0.04"/>
<rect x="972" y="330" width="2.05" height="147.5" fill="url(#lg)" opacity="0.07"/>
<rect x="974" y="404" width="2.05" height="73.5" fill="url(#bg)" opacity="0.03"/>
<rect x="974" y="330" width="2.05" height="147.5" fill="url(#lg)" opacity="0.08"/>
<rect x="976" y="404" width="2.05" height="73.5" fill="url(#bg)" opacity="0.03"/>
<rect x="976" y="330" width="2.05" height="147.5" fill="url(#lg)" opacity="0.09"/>
<rect x="978" y="404" width="2.05" height="73.5" fill="url(#bg)" opacity="0.03"/>
<rect x="978" y="330" width="2.05" height="147.5" fill="url(#lg)" opacity="0.10"/>
<rect x="980" y="404" width="2.05" height="73.5" fill="url(#bg)" opacity="0.03"/>
<rect x="980" y="330" width="2.05" height="147.5" fill="url(#lg)" opacity="0.12"/>
<rect x="982" y="330" width="2.05" height="147.5" fill="url(#lg)" opacity="0.14"/>
<rect x="984" y="330" width="2.05" height="147.5" fill="url(#lg)" opacity="0.16"/>
<rect x="986" y="330" width="2.05" height="147.5" fill="url(#lg)" opacity="0.18"/>
<rect x="988" y="330" width="2.05" height="147.5" fill="url(#lg)" opacity="0.20"/>
<rect x="990" y="330" width="2.05" height="147.5" fill="url(#lg)" opacity="0.23"/>
<rect x="992" y="330" width="2.05" height="147.5" fill="url(#lg)" opacity="0.25"/>
<rect x="994" y="330" width="2.05" height="147.5" fill="url(#lg)" opacity="0.28"/>
<rect x="996" y="330" width="2.05" height="147.5" fill="url(#lg)" opacity="0.31"/>
<rect x="998" y="330" width="2.05" height="147.5" fill="url(#lg)" opacity="0.34"/>
<rect x="1000" y="330" width="2.05" height="147.5" fill="url(#lg)" opacity="0.38"/>
<rect x="1002" y="330" width="2.05" height="147.5" fill="url(#lg)" opacity="0.41"/>
<rect x="1004" y="330" width="2.05" height="147.5" fill="url(#lg)" opacity="0.44"/>
<rect x="1006" y="330" width="2.05" height="147.5" fill="url(#lg)" opacity="0.47"/>
<rect x="1008" y="330" width="2.05" height="147.5" fill="url(#lg)" opacity="0.50"/>
<rect x="1010" y="330" width="2.05" height="147.5" fill="url(#lg)" opacity="0.52"/>
<rect x="1012" y="330" width="2.05" height="147.5" fill="url(#lg)" opacity="0.55"/>
<rect x="1014" y="330" width="2.05" height="147.5" fill="url(#lg)" opacity="0.57"/>
<rect x="1016" y="330" width="2.05" height="147.5" fill="url(#lg)" opacity="0.59"/>
<rect x="1018" y="330" width="2.05" height="147.5" fill="url(#lg)" opacity="0.61"/>
<rect x="1020" y="330" width="2.05" height="147.5" fill="url(#lg)" opacity="0.63"/>
<rect x="1022" y="330" width="2.05" height="147.5" fill="url(#lg)" opacity="0.65"/>
<rect x="1024" y="330" width="2.05" height="147.5" fill="url(#lg)" opacity="0.66"/>
<rect x="1026" y="330" width="2.05" height="147.5" fill="url(#lg)" opacity="0.67"/>
<rect x="1028" y="330" width="2.05" height="147.5" fill="url(#lg)" opacity="0.68"/>
<rect x="1030" y="330" width="2.05" height="147.5" fill="url(#lg)" opacity="0.69"/>
<rect x="1032" y="330" width="2.05" height="147.5" fill="url(#lg)" opacity="0.70"/>
<rect x="1034" y="330" width="2.05" height="147.5" fill="url(#lg)" opacity="0.71"/>
<rect x="1036" y="330" width="2.05" height="147.5" fill="url(#lg)" opacity="0.71"/>
<rect x="1038" y="330" width="2.05" height="147.5" fill="url(#lg)" opacity="0.72"/>
<rect x="1040" y="330" width="2.05" height="147.5" fill="url(#lg)" opacity="0.72"/>
<rect x="1042" y="330" width="2.05" height="147.5" fill="url(#lg)" opacity="0.73"/>
<rect x="1044" y="330" width="2.05" height="147.5" fill="url(#lg)" opacity="0.73"/>
<rect x="1046" y="330" width="2.05" height="147.5" fill="url(#lg)" opacity="0.73"/>
<rect x="1048" y="330" width="2.05" height="147.5" fill="url(#lg)" opacity="0.74"/>
<rect x="1050" y="330" width="2.05" height="147.5" fill="url(#lg)" opacity="0.74"/>
<rect x="1052" y="330" width="2.05" height="147.5" fill="url(#lg)" opacity="0.74"/>
<rect x="1054" y="330" width="2.05" height="147.5" fill="url(#lg)" opacity="0.74"/>
<rect x="1056" y="330" width="2.05" height="147.5" fill="url(#lg)" opacity="0.74"/>
<rect x="1058" y="330" width="2.05" height="147.5" fill="url(#lg)" opacity="0.74"/>
<rect x="1060" y="330" width="2.05" height="147.5" fill="url(#lg)" opacity="0.74"/>
<rect x="1062" y="330" width="2.05" height="147.5" fill="url(#lg)" opacity="0.75"/>
<rect x="1064" y="330" width="2.05" height="147.5" fill="url(#lg)" opacity="0.75"/>
<rect x="1066" y="330" width="2.05" height="147.5" fill="url(#lg)" opacity="0.75"/>
<rect x="1068" y="330" width="2.05" height="147.5" fill="url(#lg)" opacity="0.75"/>
<rect x="1070" y="330" width="2.05" height="147.5" fill="url(#lg)" opacity="0.75"/>
<rect x="1072" y="330" width="2.05" height="147.5" fill="url(#lg)" opacity="0.75"/>
<rect x="1074" y="330" width="2.05" height="147.5" fill="url(#lg)" opacity="0.75"/>
<rect x="1076" y="330" width="2.05" height="147.5" fill="url(#lg)" opacity="0.75"/>
<rect x="1078" y="330" width="2.05" height="147.5" fill="url(#lg)" opacity="0.75"/>
<rect x="1080" y="330" width="2.05" height="147.5" fill="url(#lg)" opacity="0.75"/>
<rect x="1082" y="330" width="2.05" height="147.5" fill="url(#lg)" opacity="0.75"/>
<rect x="1084" y="330" width="2.05" height="147.5" fill="url(#lg)" opacity="0.75"/>
<rect x="1086" y="330" width="2.05" height="147.5" fill="url(#lg)" opacity="0.75"/>
<rect x="1088" y="330" width="2.05" height="147.5" fill="url(#lg)" opacity="0.75"/>
<rect x="1090" y="330" width="2.05" height="147.5" fill="url(#lg)" opacity="0.75"/>
<rect x="1092" y="330" width="2.05" height="147.5" fill="url(#lg)" opacity="0.75"/>
<rect x="1094" y="330" width="2.05" height="147.5" fill="url(#lg)" opacity="0.75"/>
<rect x="1096" y="330" width="2.05" height="147.5" fill="url(#lg)" opacity="0.75"/>
<rect x="1098" y="330" width="2.05" height="147.5" fill="url(#lg)" opacity="0.75"/>
<rect x="1100" y="330" width="2.05" height="147.5" fill="url(#lg)" opacity="0.75"/>
<rect x="1102" y="330" width="2.05" height="147.5" fill="url(#lg)" opacity="0.75"/>
<rect x="1104" y="330" width="2.05" height="147.5" fill="url(#lg)" opacity="0.75"/>
<rect x="1106" y="330" width="2.05" height="147.5" fill="url(#lg)" opacity="0.75"/>
<rect x="1108" y="330" width="2.05" height="147.5" fill="url(#lg)" opacity="0.75"/>
<rect x="1110" y="330" width="2.05" height="147.5" fill="url(#lg)" opacity="0.75"/>
<rect x="1112" y="330" width="2.05" height="147.5" fill="url(#lg)" opacity="0.75"/>
<rect x="1114" y="330" width="2.05" height="147.5" fill="url(#lg)" opacity="0.75"/>
<rect x="1116" y="330" width="2.05" height="147.5" fill="url(#lg)" opacity="0.75"/>
<rect x="1118" y="330" width="2.05" height="147.5" fill="url(#lg)" opacity="0.75"/>
<rect x="1120" y="330" width="2.05" height="147.5" fill="url(#lg)" opacity="0.75"/>
<rect x="1122" y="330" width="2.05" height="147.5" fill="url(#lg)" opacity="0.75"/>
<rect x="1124" y="330" width="2.05" height="147.5" fill="url(#lg)" opacity="0.75"/>
<rect x="1126" y="330" width="2.05" height="147.5" fill="url(#lg)" opacity="0.75"/>
<rect x="1128" y="330" width="2.05" height="147.5" fill="url(#lg)" opacity="0.75"/>
<rect x="1130" y="330" width="2.05" height="147.5" fill="url(#lg)" opacity="0.75"/>
<rect x="1132" y="330" width="2.05" height="147.5" fill="url(#lg)" opacity="0.75"/>
<rect x="1134" y="330" width="2.05" height="147.5" fill="url(#lg)" opacity="0.75"/>
<rect x="1136" y="330" width="2.05" height="147.5" fill="url(#lg)" opacity="0.75"/>
<rect x="1138" y="330" width="2.05" height="147.5" fill="url(#lg)" opacity="0.75"/>
<rect x="1140" y="330" width="2.05" height="147.5" fill="url(#lg)" opacity="0.75"/>
<rect x="1142" y="330" width="2.05" height="147.5" fill="url(#lg)" opacity="0.75"/>
<rect x="1144" y="330" width="2.05" height="147.5" fill="url(#lg)" opacity="0.75"/>
<rect x="1146" y="330" width="2.05" height="147.5" fill="url(#lg)" opacity="0.75"/>
<rect x="1148" y="330" width="2.05" height="147.5" fill="url(#lg)" opacity="0.75"/>
<rect x="1150" y="330" width="2.05" height="147.5" fill="url(#lg)" opacity="0.75"/>
<rect x="1152" y="330" width="2.05" height="147.5" fill="url(#lg)" opacity="0.75"/>
<rect x="1154" y="330" width="2.05" height="147.5" fill="url(#lg)" opacity="0.75"/>
<rect x="990" y="338" width="2.05" height="68" fill="url(#qg)" opacity="0.04"/>
<rect x="992" y="338" width="2.05" height="68" fill="url(#qg)" opacity="0.05"/>
<rect x="994" y="338" width="2.05" height="68" fill="url(#qg)" opacity="0.06"/>
<rect x="996" y="338" width="2.05" height="68" fill="url(#qg)" opacity="0.08"/>
<rect x="998" y="338" width="2.05" height="68" fill="url(#qg)" opacity="0.11"/>
<rect x="1000" y="338" width="2.05" height="68" fill="url(#qg)" opacity="0.13"/>
<rect x="1002" y="338" width="2.05" height="68" fill="url(#qg)" opacity="0.16"/>
<rect x="1004" y="338" width="2.05" height="68" fill="url(#qg)" opacity="0.20"/>
<rect x="1006" y="338" width="2.05" height="68" fill="url(#qg)" opacity="0.24"/>
<rect x="1008" y="338" width="2.05" height="68" fill="url(#qg)" opacity="0.28"/>
<rect x="1010" y="338" width="2.05" height="68" fill="url(#qg)" opacity="0.33"/>
<rect x="1012" y="338" width="2.05" height="68" fill="url(#qg)" opacity="0.38"/>
<rect x="1014" y="338" width="2.05" height="68" fill="url(#qg)" opacity="0.42"/>
<rect x="1016" y="338" width="2.05" height="68" fill="url(#qg)" opacity="0.47"/>
<rect x="1018" y="338" width="2.05" height="68" fill="url(#qg)" opacity="0.51"/>
<rect x="1020" y="338" width="2.05" height="68" fill="url(#qg)" opacity="0.54"/>
<rect x="1022" y="338" width="2.05" height="68" fill="url(#qg)" opacity="0.57"/>
<rect x="1024" y="338" width="2.05" height="68" fill="url(#qg)" opacity="0.59"/>
<rect x="1026" y="338" width="2.05" height="68" fill="url(#qg)" opacity="0.60"/>
<rect x="1028" y="338" width="2.05" height="68" fill="url(#qg)" opacity="0.60"/>
<rect x="1030" y="338" width="2.05" height="68" fill="url(#qg)" opacity="0.59"/>
<rect x="1032" y="338" width="2.05" height="68" fill="url(#qg)" opacity="0.57"/>
<rect x="1034" y="338" width="2.05" height="68" fill="url(#qg)" opacity="0.54"/>
<rect x="1036" y="338" width="2.05" height="68" fill="url(#qg)" opacity="0.51"/>
<rect x="1038" y="338" width="2.05" height="68" fill="url(#qg)" opacity="0.47"/>
<rect x="1040" y="338" width="2.05" height="68" fill="url(#qg)" opacity="0.42"/>
<rect x="1042" y="338" width="2.05" height="68" fill="url(#qg)" opacity="0.38"/>
<rect x="1044" y="338" width="2.05" height="68" fill="url(#qg)" opacity="0.33"/>
<rect x="1046" y="338" width="2.05" height="68" fill="url(#qg)" opacity="0.28"/>
<rect x="1048" y="338" width="2.05" height="68" fill="url(#qg)" opacity="0.24"/>
<rect x="1050" y="338" width="2.05" height="68" fill="url(#qg)" opacity="0.20"/>
<rect x="1052" y="338" width="2.05" height="68" fill="url(#qg)" opacity="0.16"/>
<rect x="1054" y="338" width="2.05" height="68" fill="url(#qg)" opacity="0.13"/>
<rect x="1056" y="338" width="2.05" height="68" fill="url(#qg)" opacity="0.11"/>
<rect x="1058" y="338" width="2.05" height="68" fill="url(#qg)" opacity="0.08"/>
<rect x="1060" y="338" width="2.05" height="68" fill="url(#qg)" opacity="0.06"/>
<rect x="1062" y="338" width="2.05" height="68" fill="url(#qg)" opacity="0.05"/>
<rect x="1064" y="338" width="2.05" height="68" fill="url(#qg)" opacity="0.04"/>
<rect x="166" y="221.45" width="989" height="1.1" fill="rgb(132,99,4)" opacity="0.4"/>
<rect x="166" y="253.85" width="989" height="1.3" fill="rgb(164,66,7)" opacity="0.55"/>
<rect x="166" y="267.9" width="989" height="1" fill="rgb(141,57,9)" opacity="1"/>
<rect x="166" y="275.7" width="989" height="1.4" fill="rgb(181,51,10)" opacity="0.9"/>
<rect x="170" y="398.5" width="10" height="8.5" rx="2" fill="url(#hg)" opacity="0.3"/>
<rect x="212" y="398.5" width="16" height="8.5" rx="2" fill="url(#hg)" opacity="0.35"/>
<rect x="242" y="398.5" width="30" height="8.5" rx="2" fill="url(#hg)" opacity="0.7"/>
<rect x="277" y="398.5" width="13" height="8.5" rx="2" fill="url(#hg)" opacity="0.6"/>
<rect x="295" y="398.5" width="18" height="8.5" rx="2" fill="url(#hg)" opacity="0.65"/>
<rect x="325" y="398.5" width="13" height="8.5" rx="2" fill="url(#hg)" opacity="0.5"/>
<rect x="345" y="398.5" width="62" height="8.5" rx="2" fill="url(#hg)" opacity="0.45"/>
<rect x="417" y="398.5" width="30" height="8.5" rx="2" fill="url(#hg)" opacity="0.6"/>
<rect x="459" y="398.5" width="19" height="8.5" rx="2" fill="url(#hg)" opacity="0.6"/>
<rect x="502" y="398.5" width="18" height="8.5" rx="2" fill="url(#hg)" opacity="0.5"/>
<rect x="530" y="398.5" width="70" height="8.5" rx="2" fill="url(#hg)" opacity="0.4"/>
<rect x="610" y="398.5" width="50" height="8.5" rx="2" fill="url(#hg)" opacity="0.45"/>
<rect x="672" y="398.5" width="88" height="8.5" rx="2" fill="url(#hg)" opacity="0.4"/>
<rect x="770" y="398.5" width="65" height="8.5" rx="2" fill="url(#hg)" opacity="0.4"/>
<rect x="842" y="398.5" width="24" height="8.5" rx="2" fill="url(#hg)" opacity="0.6"/>
<rect x="878" y="398.5" width="15" height="8.5" rx="2" fill="url(#hg)" opacity="0.6"/>
<rect x="923" y="398.5" width="15" height="8.5" rx="2" fill="url(#hg)" opacity="0.7"/>
<rect x="950" y="398.5" width="24" height="8.5" rx="2" fill="url(#hg)" opacity="0.75"/>
<rect x="988" y="398.5" width="12" height="8.5" rx="2" fill="url(#hg)" opacity="0.25"/>
<rect x="1065" y="398.5" width="25" height="8.5" rx="2" fill="url(#hg)" opacity="0.25"/>
<rect x="671" y="386.6" width="149" height="3.4" fill="rgb(205,13,13)"/>
<rect x="666.4" y="388.3" width="5.6" height="5.4" rx="1.2" fill="rgb(227,13,13)"/>
<rect x="664" y="396" width="3.2" height="5" rx="1.2" fill="rgb(227,13,13)"/>
<rect x="660.5" y="396.5" width="1.6" height="4" rx="1.2" fill="rgb(227,13,13)"/>
<rect x="654" y="406" width="4.6" height="6" rx="1.2" fill="rgb(227,13,13)"/>
<rect x="228.6" y="371" width="1.4" height="58" fill="rgb(251,26,13)" opacity="0.95"/>
<rect x="228.7" y="429" width="1.2" height="24" fill="rgb(244,14,26)" opacity="0.4"/>
<rect x="337.2" y="333" width="1.2" height="88" fill="rgb(220,26,26)" opacity="0.6"/>
</g>
<linearGradient id="ax" x1="0" y1="0" x2="0" y2="1"><stop offset="0" stop-color="#262626" stop-opacity="1"/><stop offset="0.25" stop-color="#262626" stop-opacity="0.8"/><stop offset="0.6" stop-color="#262626" stop-opacity="0.45"/><stop offset="0.9" stop-color="#262626" stop-opacity="0"/></linearGradient>
<rect x="165" y="179" width="1" height="299" fill="url(#ax)"/>
<rect x="141" y="189.00" width="25" height="1" fill="#262626"/>
<text x="126" y="197.90" font-size="18" text-anchor="end">10</text>
<text x="126.6" y="190.30" font-size="14">2</text>
<rect x="141" y="295.85" width="25" height="1" fill="#262626"/>
<text x="126" y="304.75" font-size="18" text-anchor="end">10</text>
<text x="126.6" y="297.15" font-size="14">1</text>
<rect x="141" y="402.70" width="25" height="1" fill="#262626"/>
<text x="126" y="411.60" font-size="18" text-anchor="end">10</text>
<text x="126.6" y="404.00" font-size="14">0</text>
<rect x="153.5" y="263.68" width="12.5" height="1" fill="#262626"/>
<rect x="153.5" y="244.87" width="12.5" height="1" fill="#262626"/>
<rect x="153.5" y="231.52" width="12.5" height="1" fill="#262626"/>
<rect x="153.5" y="221.17" width="12.5" height="1" fill="#262626"/>
<rect x="153.5" y="212.70" width="12.5" height="1" fill="#262626"/>
<rect x="153.5" y="205.55" width="12.5" height="1" fill="#262626"/>
<rect x="153.5" y="199.35" width="12.5" height="1" fill="#262626"/>
<rect x="153.5" y="193.89" width="12.5" height="1" fill="#262626"/>
<rect x="153.5" y="370.53" width="12.5" height="1" fill="#262626"/>
<rect x="153.5" y="351.72" width="12.5" height="1" fill="#262626"/>
<rect x="153.5" y="338.37" width="12.5" height="1" fill="#262626"/>
<rect x="153.5" y="328.02" width="12.5" height="1" fill="#262626"/>
<rect x="153.5" y="319.55" width="12.5" height="1" fill="#262626"/>
<rect x="153.5" y="312.40" width="12.5" height="1" fill="#262626"/>
<rect x="153.5" y="306.20" width="12.5" height="1" fill="#262626"/>
<rect x="153.5" y="300.74" width="12.5" height="1" fill="#262626"/>
<rect x="153.5" y="458.57" width="12.5" height="1" fill="#262626"/>
<rect x="153.5" y="445.22" width="12.5" height="1" fill="#262626"/>
<rect x="153.5" y="434.87" width="12.5" height="1" fill="#262626"/>
<rect x="153.5" y="426.40" width="12.5" height="1" fill="#262626"/>
<rect x="153.5" y="419.25" width="12.5" height="1" fill="#262626"/>
<rect x="153.5" y="413.05" width="12.5" height="1" fill="#262626"/>
<rect x="153.5" y="407.59" width="12.5" height="1" fill="#262626"/>
<rect x="165.20" y="478" width="1" height="24" fill="#262626"/>
<rect x="177.56" y="478" width="1" height="12" fill="#262626"/>
<rect x="189.93" y="478" width="1" height="12" fill="#262626"/>
<rect x="202.29" y="478" width="1" height="12" fill="#262626"/>
<rect x="214.66" y="478" width="1" height="12" fill="#262626"/>
<rect x="227.02" y="478" width="1" height="12" fill="#262626"/>
<rect x="239.38" y="478" width="1" height="12" fill="#262626"/>
<rect x="251.75" y="478" width="1" height="12" fill="#262626"/>
<rect x="264.11" y="478" width="1" height="12" fill="#262626"/>
<rect x="276.48" y="478" width="1" height="12" fill="#262626"/>
<rect x="288.84" y="478" width="1" height="24" fill="#262626"/>
<rect x="301.20" y="478" width="1" height="12" fill="#262626"/>
<rect x="313.57" y="478" width="1" height="12" fill="#262626"/>
<rect x="325.93" y="478" width="1" height="12" fill="#262626"/>
<rect x="338.30" y="478" width="1" height="12" fill="#262626"/>
<rect x="350.66" y="478" width="1" height="12" fill="#262626"/>
<rect x="363.02" y="478" width="1" height="12" fill="#262626"/>
<rect x="375.39" y="478" width="1" height="12" fill="#262626"/>
<rect x="387.75" y="478" width="1" height="12" fill="#262626"/>
<rect x="400.12" y="478" width="1" height="12" fill="#262626"/>
<rect x="412.48" y="478" width="1" height="24" fill="#262626"/>
<rect x="424.84" y="478" width="1" height="12" fill="#262626"/>
<rect x="437.21" y="478" width="1" height="12" fill="#262626"/>
<rect x="449.57" y="478" width="1" height="12" fill="#262626"/>
<rect x="461.94" y="478" width="1" height="12" fill="#262626"/>
<rect x="474.30" y="478" width="1" height="12" fill="#262626"/>
<rect x="486.66" y="478" width="1" height="12" fill="#262626"/>
<rect x="499.03" y="478" width="1" height="12" fill="#262626"/>
<rect x="511.39" y="478" width="1" height="12" fill="#262626"/>
<rect x="523.76" y="478" width="1" height="12" fill="#262626"/>
<rect x="536.12" y="478" width="1" height="24" fill="#262626"/>
<rect x="548.48" y="478" width="1" height="12" fill="#262626"/>
<rect x="560.85" y="478" width="1" height="12" fill="#262626"/>
<rect x="573.21" y="478" width="1" height="12" fill="#262626"/>
<rect x="585.58" y="478" width="1" height="12" fill="#262626"/>
<rect x="597.94" y="478" width="1" height="12" fill="#262626"/>
<rect x="610.30" y="478" width="1" height="12" fill="#262626"/>
<rect x="622.67" y="478" width="1" height="12" fill="#262626"/>
<rect x="635.03" y="478" width="1" height="12" fill="#262626"/>
<rect x="647.40" y="478" width="1" height="12" fill="#262626"/>
<rect x="659.76" y="478" width="1" height="24" fill="#262626"/>
<rect x="672.12" y="478" width="1" height="12" fill="#262626"/>
<rect x="684.49" y="478" width="1" height="12" fill="#262626"/>
<rect x="696.85" y="478" width="1" height="12" fill="#262626"/>
<rect x="709.22" y="478" width="1" height="12" fill="#262626"/>
<rect x="721.58" y="478" width="1" height="12" fill="#262626"/>
<rect x="733.94" y="478" width="1" height="12" fill="#262626"/>
<rect x="746.31" y="478" width="1" height="12" fill="#262626"/>
<rect x="758.67" y="478" width="1" height="12" fill="#262626"/>
<rect x="771.04" y="478" width="1" height="12" fill="#262626"/>
<rect x="783.40" y="478" width="1" height="24" fill="#262626"/>
<rect x="795.76" y="478" width="1" height="12" fill="#262626"/>
<rect x="808.13" y="478" width="1" height="12" fill="#262626"/>
<rect x="820.49" y="478" width="1" height="12" fill="#262626"/>
<rect x="832.86" y="478" width="1" height="12" fill="#262626"/>
<rect x="845.22" y="478" width="1" height="12" fill="#262626"/>
<rect x="857.58" y="478" width="1" height="12" fill="#262626"/>
<rect x="869.95" y="478" width="1" height="12" fill="#262626"/>
<rect x="882.31" y="478" width="1" height="12" fill="#262626"/>
<rect x="894.68" y="478" width="1" height="12" fill="#262626"/>
<rect x="907.04" y="478" width="1" height="24" fill="#262626"/>
<rect x="919.40" y="478" width="1" height="12" fill="#262626"/>
<rect x="931.77" y="478" width="1" height="12" fill="#262626"/>
<rect x="944.13" y="478" width="1" height="12" fill="#262626"/>
<rect x="956.50" y="478" width="1" height="12" fill="#262626"/>
<rect x="968.86" y="478" width="1" height="12" fill="#262626"/>
<rect x="981.22" y="478" width="1" height="12" fill="#262626"/>
<rect x="993.59" y="478" width="1" height="12" fill="#262626"/>
<rect x="1005.95" y="478" width="1" height="12" fill="#262626"/>
<rect x="1018.32" y="478" width="1" height="12" fill="#262626"/>
<rect x="1030.68" y="478" width="1" height="24" fill="#262626"/>
<rect x="1043.04" y="478" width="1" height="12" fill="#262626"/>
<rect x="1055.41" y="478" width="1" height="12" fill="#262626"/>
<rect x="1067.77" y="478" width="1" height="12" fill="#262626"/>
<rect x="1080.14" y="478" width="1" height="12" fill="#262626"/>
<rect x="1092.50" y="478" width="1" height="12" fill="#262626"/>
<rect x="1104.86" y="478" width="1" height="12" fill="#262626"/>
<rect x="1117.23" y="478" width="1" height="12" fill="#262626"/>
<rect x="1129.59" y="478" width="1" height="12" fill="#262626"/>
<rect x="1141.96" y="478" width="1" height="12" fill="#262626"/>
<rect x="1154.32" y="478" width="1" height="24" fill="#262626"/>
<text x="165.70" y="525" font-size="18" text-anchor="middle">21-06-21 03:22</text>
<text x="289.34" y="525" font-size="18" text-anchor="middle">21-06-21 23:56</text>
<text x="412.98" y="525" font-size="18" text-anchor="middle">22-06-21 20:29</text>
<text x="536.62" y="525" font-size="18" text-anchor="middle">23-06-21 17:03</text>
<text x="660.26" y="525" font-size="18" text-anchor="middle">24-06-21 13:36</text>
<text x="783.90" y="525" font-size="18" text-anchor="middle">25-06-21 10:09</text>
<text x="907.54" y="525" font-size="18" text-anchor="middle">26-06-21 06:43</text>
<text x="1031.18" y="525" font-size="18" text-anchor="middle">27-06-21 03:16</text>
<text x="1154.82" y="525" font-size="18" text-anchor="middle">27-06-21 23:50</text>
<rect shape-rendering="crispEdges" x="166.00" y="125.5" width="15.96" height="22" fill="rgb(0,0,143)"/>
<rect shape-rendering="crispEdges" x="181.46" y="125.5" width="15.96" height="22" fill="rgb(0,0,159)"/>
<rect shape-rendering="crispEdges" x="196.91" y="125.5" width="15.96" height="22" fill="rgb(0,0,175)"/>
<rect shape-rendering="crispEdges" x="212.37" y="125.5" width="15.96" height="22" fill="rgb(0,0,191)"/>
<rect shape-rendering="crispEdges" x="227.82" y="125.5" width="15.96" height="22" fill="rgb(0,0,207)"/>
<rect shape-rendering="crispEdges" x="243.28" y="125.5" width="15.96" height="22" fill="rgb(0,0,223)"/>
<rect shape-rendering="crispEdges" x="258.74" y="125.5" width="15.96" height="22" fill="rgb(0,0,239)"/>
<rect shape-rendering="crispEdges" x="274.19" y="125.5" width="15.96" height="22" fill="rgb(0,0,255)"/>
<rect shape-rendering="crispEdges" x="289.65" y="125.5" width="15.96" height="22" fill="rgb(0,16,255)"/>
<rect shape-rendering="crispEdges" x="305.11" y="125.5" width="15.96" height="22" fill="rgb(0,32,255)"/>
<rect shape-rendering="crispEdges" x="320.56" y="125.5" width="15.96" height="22" fill="rgb(0,48,255)"/>
<rect shape-rendering="crispEdges" x="336.02" y="125.5" width="15.96" height="22" fill="rgb(0,64,255)"/>
<rect shape-rendering="crispEdges" x="351.48" y="125.5" width="15.96" height="22" fill="rgb(0,80,255)"/>
<rect shape-rendering="crispEdges" x="366.93" y="125.5" width="15.96" height="22" fill="rgb(0,96,255)"/>
<rect shape-rendering="crispEdges" x="382.39" y="125.5" width="15.96" height="22" fill="rgb(0,112,255)"/>
<rect shape-rendering="crispEdges" x="397.84" y="125.5" width="15.96" height="22" fill="rgb(0,128,255)"/>
<rect shape-rendering="crispEdges" x="413.30" y="125.5" width="15.96" height="22" fill="rgb(0,143,255)"/>
<rect shape-rendering="crispEdges" x="428.76" y="125.5" width="15.96" height="22" fill="rgb(0,159,255)"/>
<rect shape-rendering="crispEdges" x="444.21" y="125.5" width="15.96" height="22" fill="rgb(0,175,255)"/>
<rect shape-rendering="crispEdges" x="459.67" y="125.5" width="15.96" height="22" fill="rgb(0,191,255)"/>
<rect shape-rendering="crispEdges" x="475.12" y="125.5" width="15.96" height="22" fill="rgb(0,207,255)"/>
<rect shape-rendering="crispEdges" x="490.58" y="125.5" width="15.96" height="22" fill="rgb(0,223,255)"/>
<rect shape-rendering="crispEdges" x="506.04" y="125.5" width="15.96" height="22" fill="rgb(0,239,255)"/>
<rect shape-rendering="crispEdges" x="521.49" y="125.5" width="15.96" height="22" fill="rgb(0,255,255)"/>
<rect shape-rendering="crispEdges" x="536.95" y="125.5" width="15.96" height="22" fill="rgb(16,255,239)"/>
<rect shape-rendering="crispEdges" x="552.41" y="125.5" width="15.96" height="22" fill="rgb(32,255,223)"/>
<rect shape-rendering="crispEdges" x="567.86" y="125.5" width="15.96" height="22" fill="rgb(48,255,207)"/>
<rect shape-rendering="crispEdges" x="583.32" y="125.5" width="15.96" height="22" fill="rgb(64,255,191)"/>
<rect shape-rendering="crispEdges" x="598.78" y="125.5" width="15.96" height="22" fill="rgb(80,255,175)"/>
<rect shape-rendering="crispEdges" x="614.23" y="125.5" width="15.96" height="22" fill="rgb(96,255,159)"/>
<rect shape-rendering="crispEdges" x="629.69" y="125.5" width="15.96" height="22" fill="rgb(112,255,143)"/>
<rect shape-rendering="crispEdges" x="645.14" y="125.5" width="15.96" height="22" fill="rgb(128,255,128)"/>
<rect shape-rendering="crispEdges" x="660.60" y="125.5" width="15.96" height="22" fill="rgb(143,255,112)"/>
<rect shape-rendering="crispEdges" x="676.06" y="125.5" width="15.96" height="22" fill="rgb(159,255,96)"/>
<rect shape-rendering="crispEdges" x="691.51" y="125.5" width="15.96" height="22" fill="rgb(175,255,80)"/>
<rect shape-rendering="crispEdges" x="706.97" y="125.5" width="15.96" height="22" fill="rgb(191,255,64)"/>
<rect shape-rendering="crispEdges" x="722.43" y="125.5" width="15.96" height="22" fill="rgb(207,255,48)"/>
<rect shape-rendering="crispEdges" x="737.88" y="125.5" width="15.96" height="22" fill="rgb(223,255,32)"/>
<rect shape-rendering="crispEdges" x="753.34" y="125.5" width="15.96" height="22" fill="rgb(239,255,16)"/>
<rect shape-rendering="crispEdges" x="768.79" y="125.5" width="15.96" height="22" fill="rgb(255,255,0)"/>
<rect shape-rendering="crispEdges" x="784.25" y="125.5" width="15.96" height="22" fill="rgb(255,239,0)"/>
<rect shape-rendering="crispEdges" x="799.71" y="125.5" width="15.96" height="22" fill="rgb(255,223,0)"/>
<rect shape-rendering="crispEdges" x="815.16" y="125.5" width="15.96" height="22" fill="rgb(255,207,0)"/>
<rect shape-rendering="crispEdges" x="830.62" y="125.5" width="15.96" height="22" fill="rgb(255,191,0)"/>
<rect shape-rendering="crispEdges" x="846.08" y="125.5" width="15.96" height="22" fill="rgb(255,175,0)"/>
<rect shape-rendering="crispEdges" x="861.53" y="125.5" width="15.96" height="22" fill="rgb(255,159,0)"/>
<rect shape-rendering="crispEdges" x="876.99" y="125.5" width="15.96" height="22" fill="rgb(255,143,0)"/>
<rect shape-rendering="crispEdges" x="892.44" y="125.5" width="15.96" height="22" fill="rgb(255,128,0)"/>
<rect shape-rendering="crispEdges" x="907.90" y="125.5" width="15.96" height="22" fill="rgb(255,112,0)"/>
<rect shape-rendering="crispEdges" x="923.36" y="125.5" width="15.96" height="22" fill="rgb(255,96,0)"/>
<rect shape-rendering="crispEdges" x="938.81" y="125.5" width="15.96" height="22" fill="rgb(255,80,0)"/>
<rect shape-rendering="crispEdges" x="954.27" y="125.5" width="15.96" height="22" fill="rgb(255,64,0)"/>
<rect shape-rendering="crispEdges" x="969.73" y="125.5" width="15.96" height="22" fill="rgb(255,48,0)"/>
<rect shape-rendering="crispEdges" x="985.18" y="125.5" width="15.96" height="22" fill="rgb(255,32,0)"/>
<rect shape-rendering="crispEdges" x="1000.64" y="125.5" width="15.96" height="22" fill="rgb(255,16,0)"/>
<rect shape-rendering="crispEdges" x="1016.09" y="125.5" width="15.96" height="22" fill="rgb(255,0,0)"/>
<rect shape-rendering="crispEdges" x="1031.55" y="125.5" width="15.96" height="22" fill="rgb(239,0,0)"/>
<rect shape-rendering="crispEdges" x="1047.01" y="125.5" width="15.96" height="22" fill="rgb(223,0,0)"/>
<rect shape-rendering="crispEdges" x="1062.46" y="125.5" width="15.96" height="22" fill="rgb(207,0,0)"/>
<rect shape-rendering="crispEdges" x="1077.92" y="125.5" width="15.96" height="22" fill="rgb(191,0,0)"/>
<rect shape-rendering="crispEdges" x="1093.38" y="125.5" width="15.96" height="22" fill="rgb(175,0,0)"/>
<rect shape-rendering="crispEdges" x="1108.83" y="125.5" width="15.96" height="22" fill="rgb(159,0,0)"/>
<rect shape-rendering="crispEdges" x="1124.29" y="125.5" width="15.96" height="22" fill="rgb(143,0,0)"/>
<rect shape-rendering="crispEdges" x="1139.74" y="125.5" width="15.46" height="22" fill="rgb(128,0,0)"/>
<rect x="165.5" y="125.5" width="990" height="22" fill="none" stroke="#262626" stroke-width="1"/>
<rect x="224.00" y="126" width="1" height="10" fill="#262626"/>
<text x="224.30" y="116" font-size="16.6" text-anchor="middle">-22</text>
<rect x="314.45" y="126" width="1" height="10" fill="#262626"/>
<text x="314.75" y="116" font-size="16.6" text-anchor="middle">-21</text>
<rect x="404.90" y="126" width="1" height="10" fill="#262626"/>
<text x="405.20" y="116" font-size="16.6" text-anchor="middle">-20</text>
<rect x="495.35" y="126" width="1" height="10" fill="#262626"/>
<text x="495.65" y="116" font-size="16.6" text-anchor="middle">-19</text>
<rect x="585.80" y="126" width="1" height="10" fill="#262626"/>
<text x="586.10" y="116" font-size="16.6" text-anchor="middle">-18</text>
<rect x="676.25" y="126" width="1" height="10" fill="#262626"/>
<text x="676.55" y="116" font-size="16.6" text-anchor="middle">-17</text>
<rect x="766.70" y="126" width="1" height="10" fill="#262626"/>
<text x="767.00" y="116" font-size="16.6" text-anchor="middle">-16</text>
<rect x="857.15" y="126" width="1" height="10" fill="#262626"/>
<text x="857.45" y="116" font-size="16.6" text-anchor="middle">-15</text>
<rect x="947.60" y="126" width="1" height="10" fill="#262626"/>
<text x="947.90" y="116" font-size="16.6" text-anchor="middle">-14</text>
<rect x="1038.05" y="126" width="1" height="10" fill="#262626"/>
<text x="1038.35" y="116" font-size="16.6" text-anchor="middle">-13</text>
<rect x="1128.50" y="126" width="1" height="10" fill="#262626"/>
<text x="1128.80" y="116" font-size="16.6" text-anchor="middle">-12</text>
<text class="b" x="661.3" y="170.2" font-size="18.1" text-anchor="middle">Spectrogramm - Geophone Backside ground z</text>
<text class="b" x="1274.7" y="55.1" font-size="18" text-anchor="end">10^^ PSD [m²/Hz]</text>
<text class="b" x="464" y="658" font-size="18" text-anchor="middle">Time [hh:mm]</text>
<text class="b" transform="translate(88,387) rotate(-90)" font-size="18" text-anchor="middle">Frequency [Hz]</text>
</svg></body></html>
